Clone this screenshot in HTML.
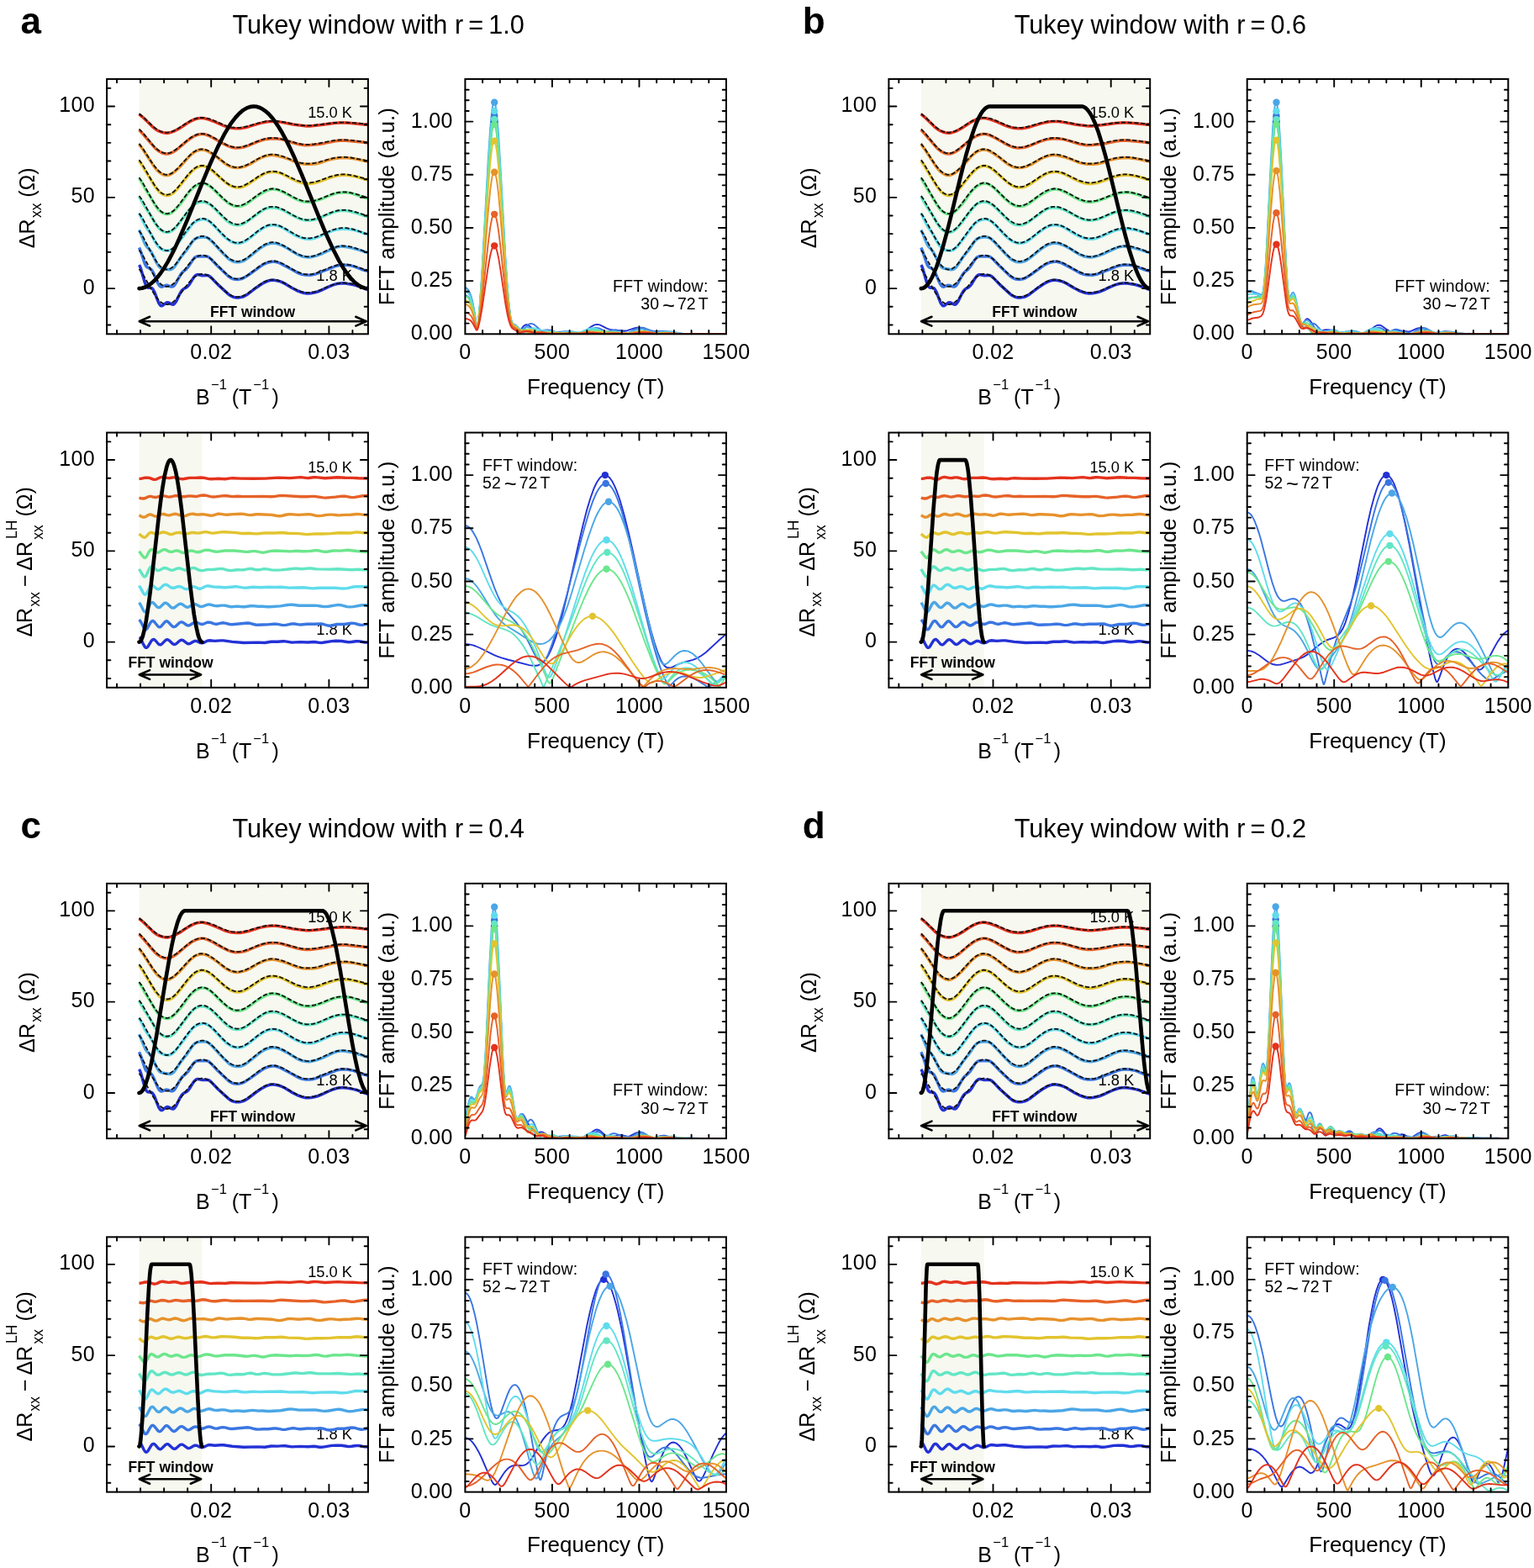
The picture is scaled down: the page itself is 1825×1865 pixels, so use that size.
<!DOCTYPE html>
<html><head><meta charset="utf-8"><style>
html,body{margin:0;padding:0;background:#fff;}
svg{display:block;}
text{font-family:'Liberation Sans', Arial, Helvetica, sans-serif;fill:#000;}
</style></head><body>
<svg width="1825" height="1865" viewBox="0 0 1825 1865">
<rect width="1825" height="1865" fill="#fff"/>
<text x="24.50" y="40.00" font-size="44.00" text-anchor="start" font-weight="bold">a</text>
<text x="276.40" y="39.50" font-size="30.65" text-anchor="start" font-weight="normal">Tukey window with r = 1.0</text>
<rect x="165.52" y="94.05" width="272.61" height="303.25" fill="#f7f8f0"/>
<text x="419.00" y="140.10" font-size="18.30" text-anchor="end" font-weight="normal">15.0 K</text>
<text x="419.00" y="333.80" font-size="18.30" text-anchor="end" font-weight="normal">1.8 K</text>
<clipPath id="c1"><rect x="127.10" y="94.05" width="310.80" height="303.25"/></clipPath>
<g clip-path="url(#c1)">
<path d="M165.5,315.1l.8,1.3 1.2,3 4.3,15.2 1.9,5.1 .8,1.2 1.2,1.1 1.1,.3 2-.1 1.2,.2 1.1,.7 .8,.9 2,3.6 3.5,9.3 1.5,3.6 1.6,2.4 .8,.6 .7,.2 .8,0 .8-.4 3.5-2.8 1.2-.6 .8-.2 .7,.1 1.2,.3 2.7,1.6 1.2,.4 .8,.1 .8-.2 1.1-.8 2-2.7 4.7-9.7 1.9-3.1 2-2 3.9-2.1 1.5-1.3 2-2.4 3.9-6.5 1.5-2.2 2-1.8 .8-.4 1.1-.3 1.2,.1 4.7,1 5.5-.4 1.5,.4 1.2,.5 2.7,2.3 7.4,7.8 12.9,11.7 2.3,1.7 2,1 2.3,.7 2.4,.4 2.7,0 2.7-.3 2.4-.6 2.3-.9 3.9-2.4 10.5-8 6.7-4.4 3.5-1.9 2.7-1.1 2.7-.8 2.4-.3 2.7,.1 2.7,.4 2.8,.6 2.7,.9 3.5,1.6 9,5.5 6.2,3.2 5.9,2.3 2.7,.7 2.3,.4 2.8,.1 3.1-.3 3.9-.7 3.9-1 4.3-1.6 8.9-4.2 5.5-2.3 4.7-1.4 4.3-.6 2.7-.1 3.1,.3 9.8,1.7 4.3,1.2 8.5,3.2 4.3,1.3" stroke="#2331d6" stroke-width="3.5" fill="none" stroke-linejoin="round"/>
<path d="M165.5,294.5l2,4.6 4.3,13.1 1.5,3.5 .8,1.2 1.2,1.1 3.5,1.6 1.2,1 .7,.9 1.2,1.9 1.2,2.4 3.5,8.5 1.5,3.3 1.2,1.8 .8,.8 .8,.6 1.1,.4 1.2-.2 3.1-1.3 1.6-.4 1.9,.3 3.2,1.2 1.1,.3 1.6-.3 1.2-.8 1.1-1.3 1.2-1.8 4.7-8.6 2.3-3.5 1.6-1.6 3.5-2.9 1.9-2 2-2.7 3.9-6.1 1.9-2.5 2-1.5 1.2-.5 1.1-.2 4.7,.1 4.7-.2 1.9,.4 1.6,.7 2.7,2.2 7.1,7.6 13.6,12.9 2.3,1.7 2,1 1.9,.7 2.4,.4 2.3,.1 2.8-.3 2.3-.6 2.3-.9 4.7-2.8 16-11.4 3.1-2 2.8-1.3 2.3-.9 2.3-.5 2.8-.4 2.3,0 2,.2 3.9,1.2 3.1,1.4 10.1,5.4 10.2,5.6 3.5,1.3 3.9,.7 5.8,.1 2.7-.3 2.8-.6 3.1-1 6.6-2.7 6.7-2.4 8.9-3.7 3.1-.8 3.6-.4 7,0 5,.8 3.6,1 8.5,3.4 7.8,2" stroke="#3a76e2" stroke-width="3.5" fill="none" stroke-linejoin="round"/>
<path d="M165.5,273.5l2,4.2 3.9,9.9 1.5,3.3 1.6,2.4 3.5,3.8 2,2.7 1.9,3.5 4.3,9.1 2.3,3.8 1.6,1.7 1.9,1.1 9.4,1.7 1.6-.1 1.5-.5 1.2-.8 1.6-1.5 1.9-2.7 5.9-9.1 7-8.6 6.2-9.2 2.4-2.8 1.5-1.3 2-1 2.3-.6 3.1-.4 2.8-.2 2.3,.3 1.9,.6 2,1.2 3.5,3.1 13.7,14.7 5.8,5.7 2.3,1.8 2.4,1.2 2.3,.8 2.4,.4 2.7,0 2.3-.3 2.4-.6 2.3-1.1 3.9-2.6 12.1-9.8 5.9-4.2 2.7-1.5 2.7-1.1 3.1-.9 2.8-.3 2.3,0 2.3,.3 2.8,.7 2.7,1 7,3.5 10.6,6.5 3.5,1.9 4.6,1.8 4.7,.8 2.8,.1 2.7-.2 3.1-.6 3.5-1 7-2.6 9.8-4.7 4.7-2 3.5-1.1 3.5-.6 2.7,0 2.7,.3 9,1.7 8.2,2.3 10.5,3.5" stroke="#4ba6e6" stroke-width="3.5" fill="none" stroke-linejoin="round"/>
<path d="M165.5,254l2,3.5 5.4,11.1 1.6,2.5 4.7,6.6 5.8,10.6 2.4,3.7 2.3,2.7 2.3,1.6 3.2,1.2 3.5,.6 2.3,0 2.4-.7 1.9-1.2 2.3-2.1 2.8-3.1 8.2-10.7 8.5-11.6 2-2.3 1.6-1.5 1.9-1.4 2.3-1.2 3.2-1 3.1-.5 2.3,0 2,.5 1.9,1 2.4,1.6 5.4,5.1 10.9,11.7 2.8,2.5 2.7,2.1 2.7,1.7 2.4,1.1 2.3,.7 2.7,.4 2.4,.1 2.3-.3 2.4-.7 2.3-1.1 4.3-2.7 10.9-8.7 6.3-4.3 2.7-1.5 2.7-1.2 2.4-.7 2.7-.4 2.3,0 2.8,.3 2.7,.6 2.3,.8 4.3,2.1 10.9,6.7 5.1,2.7 5.9,2.2 2.7,.7 3.1,.5 4.7,0 4.3-.9 5.4-2 11.7-5.3 4.3-1.7 5.1-1.5 5.1-.6 6.6,0 3.9,.4 3.5,.6 4.3,1.1 14,4.7" stroke="#5fdcec" stroke-width="3.5" fill="none" stroke-linejoin="round"/>
<path d="M165.5,233.9l7.4,12.7 5.5,8.2 6.2,10.7 2.8,4 2.3,2.7 2.7,2.2 2.8,1.4 2.7,.6 2.3-.1 2-.5 1.9-1 2.4-1.7 2.3-2.3 2.7-3.2 13.7-18 3.9-4.5 2.3-2.1 2.4-1.4 2.7-1 2.7-.5 2.8,.1 2.3,.4 2.3,.9 2.8,1.6 2.7,2 2.7,2.5 12.5,12.5 3.9,3.5 2.4,1.6 2.3,1.3 2.3,.7 2.4,.4 2.3,.1 2.4-.2 2.3-.6 2.3-.9 3.9-2.4 16.4-11.9 3.1-2.1 2.4-1.2 1.9-.7 2.4-.5 2.7-.4 2.7,.1 2.8,.3 2.7,.6 2.7,.9 5.1,2.3 10.1,5.5 6.3,3.1 3.9,1.5 3.9,.8 3.1,.1 3.5-.1 3.1-.4 3.1-.7 4.3-1.5 11.3-4.8 5.5-2.1 4.7-1.3 4.3-.6 5.4,.1 5.5,.9 7.8,2 9,3.1 4.6,1.3" stroke="#62e6c4" stroke-width="3.5" fill="none" stroke-linejoin="round"/>
<path d="M165.5,212l2.4,3.6 5.4,9.7 5.5,8.8 5.1,8.7 3.1,4.7 2.3,2.7 2.7,2.3 2.8,1.4 3.1,.8 2.7-.1 2.4-.9 2.3-1.5 2.7-2.4 6.3-6.9 3.1-4 7-9.8 2.7-3.3 2.4-2.2 2.7-2.1 3.1-1.8 2.8-1.1 2.3-.4 2,0 1.9,.4 2.3,1 2,1.1 3.9,3.1 10.9,10.8 7,6.1 2.8,1.9 2.7,1.4 2.7,1 2.8,.5 2.7,0 2.3-.3 2.4-.7 2.7-1.1 4.3-2.6 9.7-7.4 6.3-3.8 3.9-2 3.1-1.4 2.7-.8 2.4-.3 1.9,0 2.4,.3 2.3,.5 2.3,.8 4.7,2.1 9.8,5.5 7.4,3.5 4.7,1.7 4.6,.8 4.3,.1 4.7-.9 11.3-3.5 9.4-4 3.5-1.3 4.7-1.1 5.8-.7 4.7,0 4.3,.7 5.8,1.7 11.3,3.7 4.3,1.1" stroke="#6ce68c" stroke-width="3.5" fill="none" stroke-linejoin="round"/>
<path d="M165.5,191.3l3.9,5.8 13.3,22.1 3.9,5.6 3.1,3.5 2.7,2.2 2.8,1.4 2.7,.6 2.3-.1 2-.6 1.9-.9 2.4-1.7 2.3-2.2 2.4-2.6 12.4-15.6 5.1-5.5 2.7-2.3 2.8-1.8 2.7-1.1 2.7-.6 2,0 1.9,.3 2,.7 2.3,1.2 2.4,1.5 2.7,2.2 12.5,11.1 5.4,4.3 2.8,1.7 2.7,1.3 2.7,.9 2.7,.4 2,0 2.3-.2 2.4-.6 2.3-.9 5.9-3.3 12.4-8.3 3.9-2.3 2.8-1.3 2.3-.8 2.4-.5 2.7-.3 2.3,0 2.8,.2 2.7,.6 2.7,.7 3.9,1.6 10.5,5.5 5.1,2.3 6.3,2.1 2.7,.7 2.3,.3 4.7-.1 5.5-1 6.6-2 9.7-3.6 6.3-2.1 4.7-1.1 4.3-.5 3.1-.1 3.1,.2 9.4,1.4 3.5,.8 8.2,2.5 4.6,1.1" stroke="#e2c42e" stroke-width="3.5" fill="none" stroke-linejoin="round"/>
<path d="M165.5,171.6l4.7,6.4 12.5,19.1 3.5,4.6 2.7,2.7 2.8,2 3.1,1.6 2.7,.6 2-.1 2.3-.6 2.3-1.2 2.4-1.5 3.5-2.9 3.5-3.3 10.9-12.2 3.9-3.7 2.7-2.1 2.8-1.5 2.7-1 2.7-.4 2,0 2.3,.4 2,.7 2.3,1 3.5,2.1 5.9,3.9 9.3,7.4 3.9,2.7 2.4,1.2 2.7,1.1 2.7,.7 2.4,.3 2.3,0 2.7-.3 3.2-.7 3.5-1.1 4.7-2.1 8.5-5.2 5.9-2.9 3.1-1.2 2.7-.8 2.8-.6 2.3-.3 2.3,.1 2.8,.3 8.2,1.9 5.8,1.8 9.8,4 3.5,1.2 3.9,.9 4.3,.6 8.2,0 5-.5 5.1-1.2 9-3.1 4.6-1.2 5.5-.9 7.8-.7 5.1,.2 8.6,1 16.3,3.5" stroke="#e6922c" stroke-width="3.5" fill="none" stroke-linejoin="round"/>
<path d="M165.5,154.5l4.7,5 12.1,14.2 3.9,4 2.7,2.1 3.1,1.8 2.8,1 2.7,.4 2,0 2.3-.5 1.9-.6 2.4-1.2 2.7-1.7 3.1-2.3 10.6-9 5-3.7 3.5-2 3.2-1.3 2.7-.9 2.7-.4 2,0 1.9,.3 3.9,1.3 3.9,1.8 12.9,7.3 7,3.5 4.7,1.7 4.3,.7 5.1-.2 4.6-.8 5.5-1.8 10.9-4.5 5.9-2.1 5-1.2 5.9-.6 5.8,.1 4.7,.5 3.9,1 16.4,4.8 5.1,1 4.6,.5 5.5-.1 10.1-1.1 6.7-1.1 11.7-2.3 5.4-.8 3.9-.3 5.1,.2 7.4,.9 11.3,1 7.4,.9" stroke="#e66228" stroke-width="3.5" fill="none" stroke-linejoin="round"/>
<path d="M165.5,135.9l5.5,4.5 10.5,10.4 3.9,3.2 2.7,1.6 2.8,1.1 3.5,1 3.1,.5 2,0 2.3-.4 2.3-.7 2.8-1 6.6-3.4 9.7-6.5 4.7-2.6 2.8-1.3 2.7-1 2.7-.6 2.4-.3 2.3,.1 2.3,.2 5.1,1.4 7.4,2.8 10.9,4.8 3.5,1.2 5.5,1.3 5.5,.6 4.6-.1 4.7-.7 5.5-1.3 11.7-3.6 3.9-1 7-1.3 5.5-.4 4.3,.1 4.2,.4 17.6,3.4 14.8,1.7 3.9-.1 13.7-1.3 14.8-2 7-.5 6.2,0 7.5,.4 20.2,2" stroke="#e4321c" stroke-width="3.5" fill="none" stroke-linejoin="round"/>
<path d="M165.5,320l2.4,3.1 2.3,3.6 11.3,19.9 2.7,4.3 2.4,3.3 2.7,3.2 2.7,2.5 2.8,1.6 2.7,.7 2.3-.1 2.4-.7 2.3-1.2 2.4-1.8 2.3-2.3 2.7-3.1 11.7-15.4 5.1-5.8 2.7-2.4 2.8-1.8 2.7-1.2 2.7-.6 2.4,.1 2.3,.5 2.3,1 2.4,1.4 2.3,1.7 2.8,2.3 11.3,11.3 5,4.4 2.8,1.9 2.7,1.4 2.7,1 2.8,.4 2.3,0 2.3-.3 2.4-.7 2.3-1 2.7-1.5 2.8-1.8 11.3-8.5 5.1-3.3 2.7-1.4 2.7-1 2.7-.8 2.8-.3 2.3,0 2.4,.3 2.3,.5 2.7,.9 5.1,2.3 10.9,6.2 4.7,2.4 5.1,1.9 5,1 2.4,.1 2.7-.1 5.5-1 5.4-1.8 11.3-4.9 5.1-1.9 5.1-1.3 5-.7 5.5,.1 5.9,.9 5,1.4 10.6,3.4 4.6,1.3" stroke="#111" stroke-width="1.8" stroke-dasharray="5.2,2.5" fill="none"/>
<path d="M165.5,297.5l2.4,3.2 2.3,3.7 11.3,20.4 2.7,4.5 2.4,3.4 2.7,3.3 2.7,2.5 2.8,1.7 2.7,.7 2.3-.1 2.4-.7 2.3-1.3 2.4-1.8 2.3-2.4 2.7-3.1 11.7-15.9 5.1-5.9 2.7-2.5 2.8-1.9 2.7-1.2 2.7-.6 2.4,.1 2.3,.5 2.3,1 2.4,1.4 2.3,1.8 2.8,2.4 11.3,11.6 5,4.5 2.8,2 2.7,1.4 2.7,1 2.8,.5 2.3,0 2.3-.4 2.4-.7 2.3-1 2.7-1.5 2.8-1.8 11.3-8.8 5.1-3.4 2.7-1.4 2.7-1.1 2.7-.8 2.8-.3 2.3,0 2.4,.2 2.3,.6 2.7,.9 5.1,2.4 10.9,6.4 4.7,2.4 5.1,2 2.7,.6 2.3,.4 2.4,.1 2.7-.1 2.7-.4 2.8-.6 5.4-1.9 11.3-5 5.1-1.9 5.1-1.4 5-.8 5.5,.1 5.9,1 5,1.4 10.6,3.5 4.6,1.4" stroke="#111" stroke-width="1.8" stroke-dasharray="5.2,2.5" fill="none"/>
<path d="M165.5,274.4l2.4,3.5 2.3,3.9 11.3,21.7 2.7,4.7 2.4,3.6 2.7,3.5 2.7,2.7 2.8,1.8 2.7,.8 2.3-.1 2.4-.8 2.3-1.4 2.4-1.9 2.3-2.5 2.7-3.4 11.7-16.8 5.1-6.3 2.7-2.6 2.8-2 2.7-1.3 2.7-.6 2.4,0 2.3,.6 2.3,1.1 2.4,1.5 2.3,1.8 2.8,2.6 11.3,12.3 5,4.8 2.8,2.1 2.7,1.5 2.7,1.1 2.8,.5 2.3,0 2.3-.4 2.4-.8 2.3-1 2.7-1.7 2.8-1.9 11.3-9.3 5.1-3.6 2.7-1.5 2.7-1.2 2.7-.8 2.8-.4 2.3,0 2.4,.3 2.3,.6 2.7,1 5.1,2.5 10.9,6.8 4.7,2.6 5.1,2 2.7,.8 2.3,.3 2.4,.2 2.7-.1 2.7-.5 2.8-.6 5.4-2 11.3-5.3 5.1-2.1 5.1-1.5 5-.7 5.5,.1 5.9,1 5,1.5 10.6,3.7 4.6,1.5" stroke="#111" stroke-width="1.8" stroke-dasharray="5.2,2.5" fill="none"/>
<path d="M165.5,253.8l2.4,3.3 2.3,3.8 11.3,20.8 2.7,4.6 2.4,3.4 2.7,3.4 2.7,2.6 2.8,1.7 2.7,.8 2.3-.1 2.4-.7 2.3-1.4 2.4-1.9 2.3-2.3 2.7-3.3 11.7-16.2 5.1-6.1 2.7-2.5 2.8-1.9 2.7-1.3 2.7-.5 2.4,0 2.3,.6 2.3,1 2.4,1.4 2.3,1.8 2.8,2.5 11.3,11.9 5,4.6 2.8,1.9 2.7,1.5 2.7,1.1 2.8,.5 2.3,0 2.3-.4 2.4-.7 2.3-1.1 2.7-1.5 2.8-1.9 11.3-8.9 5.1-3.5 2.7-1.5 2.7-1.1 2.7-.8 2.8-.3 2.3,0 2.4,.2 2.3,.6 2.7,.9 5.1,2.5 10.9,6.5 4.7,2.5 5.1,2 2.7,.7 2.3,.3 2.4,.1 2.7-.1 2.7-.4 2.8-.6 5.4-1.9 11.3-5.1 5.1-2 5.1-1.5 5-.7 5.5,.1 5.9,1 5,1.4 10.6,3.6 4.6,1.4" stroke="#111" stroke-width="1.8" stroke-dasharray="5.2,2.5" fill="none"/>
<path d="M165.5,233l2.4,3.2 2.3,3.7 11.3,20.1 2.7,4.4 2.4,3.3 2.7,3.3 2.7,2.4 2.8,1.7 2.7,.7 2.3-.1 2.4-.7 2.3-1.2 2.4-1.9 2.3-2.3 2.7-3.1 11.7-15.6 5.1-5.8 2.7-2.5 2.8-1.8 2.7-1.3 2.7-.5 2.4,.1 2.3,.5 2.3,1 2.4,1.4 2.3,1.7 2.8,2.4 11.3,11.4 5,4.4 2.8,1.9 2.7,1.5 2.7,1 2.8,.5 2.3,0 2.3-.4 2.4-.7 2.3-1 2.7-1.5 2.8-1.8 11.3-8.6 5.1-3.4 2.7-1.4 2.7-1.1 2.7-.7 2.8-.4 2.3,0 2.4,.3 2.3,.6 2.7,.9 5.1,2.3 10.9,6.3 4.7,2.4 5.1,1.9 5,1 2.4,.1 2.7-.1 2.7-.4 2.8-.6 5.4-1.8 11.3-4.9 5.1-2 5.1-1.3 5-.7 5.5,0 5.9,1 5,1.4 10.6,3.4 4.6,1.4" stroke="#111" stroke-width="1.8" stroke-dasharray="5.2,2.5" fill="none"/>
<path d="M165.5,211.2l2.4,3.2 2.3,3.7 10.9,19.6 2.8,4.4 2.3,3.4 3.1,3.8 2.7,2.5 2.8,1.6 2.7,.7 2.3,0 2.4-.8 2.3-1.3 2.4-1.8 2.3-2.3 2.7-3.1 11.3-15.1 5.1-5.8 3.1-2.8 2.8-1.8 2.7-1.2 2.7-.6 2.4,.1 2.3,.6 2.3,.9 2.4,1.4 2.3,1.7 2.8,2.4 11.3,11.2 5,4.3 2.8,1.9 2.7,1.4 2.7,.9 2.4,.5 2.3,0 2.3-.3 2.4-.6 2.7-1.1 5.5-3.3 11.3-8.3 5.1-3.3 2.7-1.3 2.7-1.1 2.7-.7 2.8-.3 2.3,0 2.4,.3 2.3,.5 2.7,.9 5.1,2.3 10.9,6 4.7,2.3 5.1,1.8 5,.9 5.1,0 5.5-.9 5.4-1.8 11.3-4.6 5.1-1.8 5.1-1.4 5-.6 5.5,.1 5.9,.9 4.6,1.2 15.6,4.6" stroke="#111" stroke-width="1.8" stroke-dasharray="5.2,2.5" fill="none"/>
<path d="M165.5,190.3l2.4,3.2 2.3,3.6 10.9,18.8 2.8,4.3 2.3,3.3 3.1,3.6 2.7,2.4 2.8,1.5 2.7,.7 2-.1 2.3-.6 2.3-1.2 2.4-1.6 2.7-2.6 2.7-2.9 11.3-14.3 5.1-5.5 3.1-2.7 2.8-1.7 2.7-1.1 2.7-.5 2,.1 2.3,.4 2.4,.9 2.3,1.2 2.7,1.9 2.8,2.2 10.9,10.1 5,4.1 2.8,1.8 2.7,1.3 2.7,.9 2.8,.5 2.3,0 2.3-.2 2.4-.6 2.7-1.1 5.5-2.9 10.9-7.4 5.1-3 2.7-1.3 2.7-1 2.8-.7 2.7-.3 4.7,.2 5,1.2 5.5,2.2 10.9,5.4 4.7,2 5.1,1.6 5,.9 5.1,0 5.5-.9 5.4-1.6 11.3-4.1 4.7-1.4 5.5-1.3 5-.6 5.5,.1 5.9,.8 20.2,5.1" stroke="#111" stroke-width="1.8" stroke-dasharray="5.2,2.5" fill="none"/>
<path d="M165.5,170.9l4.3,5.6 10.9,16.9 2.8,3.8 2.7,3.4 3.1,3.2 2.7,2.1 2.8,1.3 2.7,.6 2-.1 2.3-.5 2.3-1.1 2.4-1.5 2.3-1.9 2.7-2.6 11.4-12.4 5.4-5.2 2.7-2.1 2.8-1.5 2.7-1 2.7-.5 2.4,.1 2.3,.4 2.4,.7 2.3,1.1 5.1,3.2 11.3,8.9 5,3.5 2.8,1.5 2.7,1.1 2.7,.8 2.8,.4 2.3,0 2.3-.3 4.7-1.2 5.5-2.5 11.3-6.3 5.1-2.5 5.4-1.9 2.8-.5 2.7-.3 4.7,.2 5,1 5.1,1.7 10.9,4.4 5.1,1.8 5.1,1.3 5,.6 5.1,0 5.5-.7 5.4-1.3 10.9-3.1 5.1-1.3 5.1-.9 5.1-.5 5.4,.1 5.9,.6 20.6,3.9" stroke="#111" stroke-width="1.8" stroke-dasharray="5.2,2.5" fill="none"/>
<path d="M165.5,153.5l5.1,5.3 10.9,13.3 4.7,4.8 3.1,2.4 2.7,1.6 2.8,1 2.7,.4 2,0 2.3-.5 2.3-.8 2.4-1.2 5-3.5 11.4-9.5 5-3.7 3.1-1.8 2.8-1.1 2.7-.8 2.7-.3 4.3,.3 4.7,1.3 5.1,2.4 11.7,6.8 5,2.6 5.5,1.9 2.7,.6 2.8,.3 4.6-.2 4.7-1 5.5-1.8 10.9-4.5 5.1-1.8 5.4-1.4 5.5-.6 4.7,.1 5,.7 5.5,1.2 15.6,4.4 5.1,.9 5,.5 5.1,0 5.5-.5 5.4-.8 16-3.1 5.5-.7 5.1-.3 5.4,0 5.9,.4 20.6,2.7" stroke="#111" stroke-width="1.8" stroke-dasharray="5.2,2.5" fill="none"/>
<path d="M165.5,135.2l5.1,4.2 10.5,10.1 4.7,3.7 3.1,2 2.8,1.3 2.7,.8 2.7,.4 2,0 2.3-.3 2.3-.6 2.4-.9 5.1-2.6 11.3-7.3 5-2.9 3.2-1.4 2.7-.9 2.7-.6 2.7-.3 4.7,.2 4.7,1 5.1,1.8 11.3,5 5.1,2 5.4,1.4 5.5,.7 4.7-.1 4.6-.7 5.5-1.3 11.3-3.4 5.1-1.3 5.4-1 5.5-.4 4.7,.1 5,.5 5.1,.8 16,3.1 5.1,.7 5,.4 5.1,0 5.5-.4 21-2.7 10.6-.7 5.4,0 5.9,.3 21,1.8" stroke="#111" stroke-width="1.8" stroke-dasharray="5.2,2.5" fill="none"/>
<path d="M165.5,343.1l3.4-.3 4.1-1.3 3.5-1.8 4.1-3 3.4-3.2 4.1-4.6 3.4-4.6 4.1-6.1 4.1-6.9 4.1-7.6 4.8-9.6 4.7-10.4 9.6-22.3 19.1-47.3 8.2-19.6 8.9-19.6 7.5-14.7 4.8-8.1 4.1-6.3 4.8-6.2 4.1-4.4 4.8-4.1 4.1-2.5 4.1-1.5 4.1-.6 3.4,.3 4.1,1.2 3.4,1.8 4.1,2.9 3.4,3.1 4.1,4.6 3.4,4.5 4.1,6.1 4.1,6.8 4.1,7.5 4.8,9.6 4.8,10.3 9.6,22.2 19.8,49 8.2,19.6 8.9,19.5 7.5,14.6 4.8,8.1 4.1,6.1 4.8,6.2 4.1,4.4 4.7,3.9 4.1,2.4 4.1,1.5 4.1,.4" stroke="#000" stroke-width="4.6" fill="none" stroke-linejoin="round" stroke-linecap="round"/>
</g>
<path d="M139.04,397.30v-4.30M139.04,94.05v4.30M167.08,397.30v-4.30M167.08,94.05v4.30M195.12,397.30v-4.30M195.12,94.05v4.30M223.16,397.30v-4.30M223.16,94.05v4.30M279.24,397.30v-4.30M279.24,94.05v4.30M307.28,397.30v-4.30M307.28,94.05v4.30M335.32,397.30v-4.30M335.32,94.05v4.30M363.36,397.30v-4.30M363.36,94.05v4.30M419.44,397.30v-4.30M419.44,94.05v4.30M251.20,397.30v-9.00M251.20,94.05v9.00M391.40,397.30v-9.00M391.40,94.05v9.00M127.10,386.47h4.30M437.90,386.47h-4.30M127.10,364.81h4.30M437.90,364.81h-4.30M127.10,321.49h4.30M437.90,321.49h-4.30M127.10,299.83h4.30M437.90,299.83h-4.30M127.10,278.17h4.30M437.90,278.17h-4.30M127.10,256.51h4.30M437.90,256.51h-4.30M127.10,213.18h4.30M437.90,213.18h-4.30M127.10,191.52h4.30M437.90,191.52h-4.30M127.10,169.86h4.30M437.90,169.86h-4.30M127.10,148.20h4.30M437.90,148.20h-4.30M127.10,104.88h4.30M437.90,104.88h-4.30M127.10,343.15h9.00M437.90,343.15h-9.00M127.10,234.84h9.00M437.90,234.84h-9.00M127.10,126.54h9.00M437.90,126.54h-9.00" stroke="#000" stroke-width="1.90" fill="none" stroke-linecap="round"/>
<rect x="127.10" y="94.05" width="310.80" height="303.25" fill="none" stroke="#000" stroke-width="2.00"/>
<text x="251.20" y="427.30" font-size="25.00" text-anchor="middle" font-weight="normal" letter-spacing="0.35">0.02</text>
<text x="391.40" y="427.30" font-size="25.00" text-anchor="middle" font-weight="normal" letter-spacing="0.35">0.03</text>
<text x="113.00" y="349.75" font-size="25.00" text-anchor="end" font-weight="normal" letter-spacing="0.35">0</text>
<text x="113.00" y="241.44" font-size="25.00" text-anchor="end" font-weight="normal" letter-spacing="0.35">50</text>
<text x="113.00" y="133.14" font-size="25.00" text-anchor="end" font-weight="normal" letter-spacing="0.35">100</text>
<text x="300.50" y="377.00" font-size="17.50" text-anchor="middle" font-weight="bold">FFT window</text>
<path d="M165.82,382.20H435.60 M165.82,382.20l12.3,-5.4 M165.82,382.20l12.3,5.4 M435.60,382.20l-12.3,-5.4 M435.60,382.20l-12.3,5.4" stroke="#000" stroke-width="2.6" fill="none" stroke-linecap="round" stroke-linejoin="round"/>
<text font-size="25"><tspan x="233.00" y="481.10">B</tspan><tspan x="251.00" y="463.00" font-size="16.5">−1</tspan><tspan x="275.80" y="481.10">(T</tspan><tspan x="301.30" y="463.00" font-size="16.5">−1</tspan><tspan x="323.50" y="481.10">)</tspan></text>
<text transform="translate(40.90,295.20) rotate(-90)" font-size="25"><tspan x="0" y="0">ΔR</tspan><tspan x="36.3" y="8" font-size="17.5">xx</tspan><tspan x="60.4" y="0">(Ω)</tspan></text>
<clipPath id="c2"><rect x="553.40" y="94.05" width="310.60" height="303.25"/></clipPath>
<g clip-path="url(#c2)">
<path d="M553.4,351.5l1.7,.4 1.6,1.2 1.7,2.2 1.6,3.4 1.7,4.8 1.6,6.5 4.2,21.7 .8-2.4 .8-6.7 1.7-17.4 2.5-32.9 7.4-124.1 2.5-34.6 1.7-16.6 .8-5.9 .8-4 .9-2.2 .8-.3 .8,1.6 .8,3.5 .9,5.3 .8,7.1 1.7,18.6 2.4,36.9 5.8,97.4 2.5,33.5 1.7,16.9 1.6,11.7 .9,3.9 .8,2.7 .8,1.8 2.5,2.8 1.7,2.3 3.3,6.4 .8-1.2 2.5-4.7 1.6-2.4 1.7-1.6 1.7-.8 1.6,0 .8,.3 1.7,.9 2.5,2.2 5,5.1 .8,.6 .8,.3 .8-.1 3.4-1.7 2.4-.9 2.5-.4 3.3-.1 3.3,.4 2.5,.6 3.3,1.2 5,2.1 .8,.1 5.8-1.8 3.4-.5 4.1,.1 9.1,1.4 1.7,0 1.6-.3 1.7-.6 2.5-1.3 7.4-5.3 2.5-1.5 2.5-1 2.5-.2 1.6,.2 1.7,.5 8.3,4.2 3.3,1.1 3.3,.5 7.4,.5 5.8,.6 2.5,0 1.7-.3 9.1-3 2.5-.4 1.6-.1 1.7,.2 2.5,.6 9.1,3.8 2.5,.6 1.6,.2 2.5-.1 7.5-.8 3.3,0 4.1,.6 9.1,1.9 5,.6 55.5,0" stroke="#2331d6" stroke-width="1.9" fill="none" stroke-linejoin="round"/>
<path d="M553.4,342.3l.8,.1 .9,.4 1.6,1.6 1.7,2.8 1.6,4.3 1.7,5.8 1.6,7.6 1.7,9.5 2.5,16.7 .8-.4 .8-6.9 1.7-18.5 2.5-34.5 7.4-127.9 2.5-35.6 1.7-16.9 .8-6 .8-4.1 .9-2.3 .8-.2 .8,1.7 .8,3.6 .9,5.5 .8,7.2 1.7,19.2 2.4,37.8 5.8,99.6 2.5,34.5 1.7,17.5 1.6,12.3 .9,4 .8,2.7 .8,1.5 .9,.7 2.4,.9 .9,.6 1.6,1.6 3.3,4.2 .9,.7 .8,.3 .8-.2 .8-.7 4.2-4.8 1.6-1.6 1.7-1.1 .8-.4 1.7-.2 1.6,.4 1.7,.8 1.7,1.3 4.1,3.6 2.5,1.9 1.6,.9 2.5,.7 2.5,.3 11.6,.4 2.5-.1 6.6-.9 4.2,0 4.1,.5 11.6,2.6 2.5-.8 2.5-1 9.1-4.6 3.3-.9 2.5,.1 2.5,.6 2.4,1.2 4.2,2.5 1.6,.5 1.7-.1 5.8-2 3.3-.3 3.3,.4 8.3,2.6 2.5,.4 1.6-.2 1.7-.7 5.8-3.2 2.5-1.2 2.5-.7 2.5-.3 1.6,.2 2.5,.5 6.6,2.5 3.3,.9 3.3,.3 6.7,0 4.1,.3 3.3,.5 8.3,1.8 5,.7 56.3,0" stroke="#3a76e2" stroke-width="1.9" fill="none" stroke-linejoin="round"/>
<path d="M553.4,342.5l.8,.1 .9,.4 1.6,1.5 1.7,2.8 1.6,4.3 1.7,5.9 1.6,7.7 1.7,9.8 2.5,16.7 .8-2.2 .8-7.7 1.7-19.6 2.5-36.4 7.4-135.3 2.5-37.6 1.7-17.9 .8-6.4 .8-4.3 .9-2.4 .8-.2 .8,1.8 .8,3.8 .9,5.9 .8,7.6 1.7,20.4 2.4,40.3 5.8,105.9 2.5,36.6 1.7,18.4 1.6,12.8 .9,4.2 .8,2.9 .8,1.8 .9,1 1.6,1.5 1.7,1.8 3.3,5.3 .8,.9 .8,.2 .9-.7 2.4-2.9 1.7-1.4 .8-.4 1.7-.4 1.6,.2 1.7,.5 6.6,4 2.5,1.2 2.5,.7 4.1,.8 2.5-.2 5.8-1.9 2.5-.3 3.3,.6 2.5,.9 3.3,1.5 .8,.1 5-2.1 2.5-.6 2.5-.4 4.1,.1 7.5,1.5 1.6,.1 2.5-.7 7.5-3.3 2.5-.7 1.6-.1 1.7,.1 2.5,.7 5.8,2.5 2.4,.7 2.5,0 5.8-.9 3.3-.1 4.2,.5 9.9,2 2.5,.2 1.7-.2 2.4-.7 10-3.9 2.5-.5 2.5-.2 2.4,.2 3.3,.9 11.6,5 4.2-1.3 4.1-1 4.2-.6 3.3-.1 5,.4 10.7,2.1 5,.6 47.2,0" stroke="#4ba6e6" stroke-width="1.9" fill="none" stroke-linejoin="round"/>
<path d="M553.4,346.6l1.7,.5 1.6,1.3 1.7,2.5 1.6,3.8 1.7,5.3 1.6,7 1.7,9 2.5,15.6 .8-1.7 .8-7.1 1.7-18.6 2.5-34.9 7.4-130.6 2.5-36.4 1.7-17.4 .8-6.1 .8-4.2 .9-2.3 .8-.3 .8,1.7 .8,3.7 .9,5.6 .8,7.4 1.7,19.6 2.4,38.6 5.8,101.9 1.7,24.6 1.7,20.2 1.6,15.3 .8,5.6 .9,4.3 .8,2.9 .8,1.7 .9,.9 3.3,2 5.8,6.5 1.6,1.3 .8,.2 .9-.1 .8-.4 6.6-4.4 1.7-.7 1.6-.3 2.5,.2 7.5,2.3 7.4,.5 3.3,.5 2.5,.7 5,1.7 1.7,.3 1.6-.2 5-1.1 3.3-.3 5,.2 7.4,.7 2.5,0 3.3-.9 9.1-3.7 2.5-.6 2.5-.2 2.5,.4 2.5,.8 2.5,1.2 5.8,3.5 1.6,.4 5.8-1.6 4.1-.4 5,.6 12.4,2.2 12.5-2.3 3.3-.4 3.3-.1 14.1,1.2 4.1-.1 7.5-.5 4.1,0 4.2,.4 8.2,1.3 5,.5 49.7,0" stroke="#5fdcec" stroke-width="1.9" fill="none" stroke-linejoin="round"/>
<path d="M553.4,352.2l1.7,.4 1.6,1.2 1.7,2.2 1.6,3.3 1.7,4.8 1.6,6.5 1.7,8.3 1.7,9.8 .8,3.4 .8-3.1 .8-7 1.7-17.7 2.5-33.3 7.4-125.1 2.5-34.9 1.7-16.7 .8-5.9 .8-4.1 .9-2.1 .8-.3 .8,1.7 .8,3.5 .9,5.4 .8,7.1 1.7,18.9 2.4,37.2 5.8,97.8 1.7,23.6 1.7,19.4 1.6,14.7 .8,5.4 .9,4.1 .8,2.9 .8,1.7 .9,.9 3.3,1.6 4.9,3.4 5.8,2.8 1.7,.6 1.6-.1 5-2.1 2.5-.2 2.5,.4 5,1.9 2.4,.6 2.5,.1 5.8-.9 2.5-.1 2.5,.3 5.8,1.5 2.5,.4 11.6-.7 10.7-.4 4.2-.7 7.4-2 4.2-.5 2.5,.2 2.4,.5 7.5,2.9 2.5,.7 1.6-.1 5-.9 3.3-.2 4.2,.1 8.2,.9 4.2,0 4.1-.5 8.3-1.8 4.2-.4 4.1,.4 7.4,1.8 3.4,.4 8.2-.9 3.4-.1 4.9,.3 10.8,1.5 5.8,.4 53,0" stroke="#62e6c4" stroke-width="1.9" fill="none" stroke-linejoin="round"/>
<path d="M553.4,352.3l1.7,.4 1.6,1.1 1.7,2.2 1.6,3.3 1.7,4.7 1.6,6.4 1.7,8.1 1.7,9.5 .8,3.3 .8-2.5 .8-6.6 1.7-17.1 2.5-32.5 7.4-121.9 2.5-34.1 1.7-16.2 .8-5.8 .8-3.9 .9-2.2 .8-.3 .8,1.6 .8,3.5 .9,5.2 .8,6.9 1.7,18.4 2.4,36.2 5.8,95.6 2.5,33.1 1.7,16.7 1.6,11.7 .9,3.9 .8,2.7 .8,1.6 .9,.9 3.3,2.5 4.1,4.8 .8,.4 .9,.1 4.1-1.8 2.5-.2 2.5,.6 6.6,2.9 2.5,.8 5,.3 4.1,.5 5.8-1.4 3.3-.3 9.1,1.1 15.8-.4 12.4,.7 2.5-.4 9.1-2.2 2.5-.3 3.3-.2 21.5,1.4 11.6,1.6 5,.4 4.1-.3 10.8-2 4.9-.4 5,.5 8.3,2.3 .8,0 5.8-1.2 4.2-.2 3.3,.1 9.9,1.1 5,.3 53,0" stroke="#6ce68c" stroke-width="1.9" fill="none" stroke-linejoin="round"/>
<path d="M553.4,357.5l1.7,.3 1.6,1 1.7,1.7 1.6,2.8 1.7,4 1.6,5.5 3.4,15.1 .8,2.4 .8-2.1 .8-5.6 1.7-15.4 2.5-29.8 7.4-112.4 2.5-31.3 1.7-15 .8-5.2 .8-3.7 .9-1.9 .8-.3 .8,1.5 .8,3.2 .9,4.8 .8,6.4 1.7,16.9 2.4,33.3 5.8,87.8 2.5,30.4 1.7,15.3 1.6,10.8 .9,3.7 .8,2.5 .8,1.5 .9,.9 3.3,2.3 4.9,5.5 .9,.6 .8,.3 .8,0 5-2.3 2.5-.7 1.6-.1 1.7,.1 1.6,.4 5.8,2.7 2.5,.6 5.8-.4 11.6,.2 7.5,.5 8.3-.3 17.3,1.1 2.5-.3 9.1-1.7 5-.5 5.8,.1 10.8,1.4 9.9-.3 11.6,.5 5-.3 9.1-1.7 4.1-.3 5,.5 7.5,1.8 2.4,.3 7.5-.6 4.1-.2 4.2,.2 9.9,1 5.8,.3 52.2,0" stroke="#e2c42e" stroke-width="1.9" fill="none" stroke-linejoin="round"/>
<path d="M553.4,362.1l1.7,.3 1.6,.8 1.7,1.5 1.6,2.4 1.7,3.6 1.6,4.8 3.4,13.1 .8,1.9 .8-1.5 .8-4.6 1.7-13 2.5-25.1 7.4-93.9 2.5-26 1.7-12.5 .8-4.4 .8-3 .9-1.6 .8-.2 .8,1.2 .8,2.7 .9,4 .8,5.3 1.7,14.1 2.4,27.7 5.8,73 1.7,17.6 1.7,14.4 1.6,10.9 1.7,7.1 .8,2.3 .8,1.6 1.7,1.7 4.1,2.7 1.7,.9 1.6,.5 3.3,.5 1.7,.4 5.8,2.6 1.7,0 3.3-.6 2.5,0 2.4,.4 3.4,1 1.6,.2 5-1.1 3.3-.2 2.5,.1 8.3,.9 9.9-.2 11.6,.1 4.1-.4 8.3-1.5 4.2-.3 2.4,.2 3.4,.5 8.2,2.1 .9,0 6.6-1.3 4.1-.3 4.2,.2 9.1,1.1 3.3,.1 4.1-.5 9.2-1.7 4.1-.3 4.1,.3 10,1.6 4.1,.4 3.3-.1 8.3-.6 4.2-.1 4.9,.2 10,1 4.9,.2 48.9,0" stroke="#e6922c" stroke-width="1.9" fill="none" stroke-linejoin="round"/>
<path d="M553.4,371.9l1.7,.2 1.6,.5 1.7,1 1.6,1.7 1.7,2.5 1.6,3.5 3.4,9.1 .8,1.1 .8-1.3 1.7-7.7 2.5-17 2.4-21.1 5.8-54.7 2.5-19.1 1.7-9.1 .8-3.2 .8-2.2 .9-1.1 .8-.2 .8,1 .8,2 .9,2.9 .8,4 1.7,10.4 2.4,20.4 5.8,53.7 2.5,18.6 1.7,9.3 1.6,6.6 .9,2.3 .8,1.6 .8,1.1 .9,.8 3.3,1.9 4.1,2.8 1.7,.7 .8,.1 6.6-.8 2.5,0 6.6,.9 7.5-.3 3.3,.4 6.6,1.6 7.5-.2 7.4,.6 6.7-.6 10.7,0 10.8-.9 5-.2 5.8,.3 12.4,1.4 13.2-.6 15.8,.3 4.1-.2 10-1.4 4.9-.3 5,.3 11.6,1.7 12.4-.4 19.1,.7 48,0" stroke="#e66228" stroke-width="1.9" fill="none" stroke-linejoin="round"/>
<path d="M553.4,379.1l1.7,.1 1.6,.4 2.5,1.2 1.7,1.6 1.6,2.2 4.2,7.9 .8,.2 .8-1.4 .8-2.6 1.7-7.1 2.5-13.6 7.4-50.3 2.5-13.9 1.7-6.6 .8-2.3 .8-1.6 .9-.9 .8-.1 .8,.7 .8,1.5 .9,2.1 .8,2.9 1.7,7.6 2.4,15 5.8,39.4 2.5,13.6 1.7,6.9 1.6,4.8 1.7,2.9 1.7,1.5 6.6,4.2 .8,.3 .8,.1 .9-.1 3.3-1.4 1.6-.4 2.5-.3 3.3,.5 5.8,1.9 2.5,.4 6.6-.2 6.7,.5 13.2,.3 11.6-.5 13.3,.4 14.9-.9 4.9,.2 10,.8 14.1-.6 14.9,.5 4.1-.2 8.3-.8 4.1-.1 4.2,.1 9.1,.8 4.1,.2 14.1-.3 18.2,.7 48.9,0" stroke="#e4321c" stroke-width="1.9" fill="none" stroke-linejoin="round"/>
<circle cx="588.19" cy="144.59" r="4.2" fill="#2331d6"/>
<circle cx="588.19" cy="137.78" r="4.2" fill="#3a76e2"/>
<circle cx="588.19" cy="121.66" r="4.2" fill="#4ba6e6"/>
<circle cx="588.19" cy="131.98" r="4.2" fill="#5fdcec"/>
<circle cx="588.19" cy="141.89" r="4.2" fill="#62e6c4"/>
<circle cx="588.19" cy="148.24" r="4.2" fill="#6ce68c"/>
<circle cx="588.19" cy="167.63" r="4.2" fill="#e2c42e"/>
<circle cx="588.19" cy="204.69" r="4.2" fill="#e6922c"/>
<circle cx="588.19" cy="254.84" r="4.2" fill="#e66228"/>
<circle cx="588.19" cy="292.33" r="4.2" fill="#e4321c"/>
</g>
<path d="M574.11,397.30v-4.30M574.11,94.05v4.30M594.81,397.30v-4.30M594.81,94.05v4.30M615.52,397.30v-4.30M615.52,94.05v4.30M636.23,397.30v-4.30M636.23,94.05v4.30M677.64,397.30v-4.30M677.64,94.05v4.30M698.35,397.30v-4.30M698.35,94.05v4.30M719.05,397.30v-4.30M719.05,94.05v4.30M739.76,397.30v-4.30M739.76,94.05v4.30M781.17,397.30v-4.30M781.17,94.05v4.30M801.88,397.30v-4.30M801.88,94.05v4.30M822.59,397.30v-4.30M822.59,94.05v4.30M843.29,397.30v-4.30M843.29,94.05v4.30M656.93,397.30v-9.00M656.93,94.05v9.00M760.47,397.30v-9.00M760.47,94.05v9.00M553.40,384.66h4.30M864.00,384.66h-4.30M553.40,372.03h4.30M864.00,372.03h-4.30M553.40,359.39h4.30M864.00,359.39h-4.30M553.40,346.76h4.30M864.00,346.76h-4.30M553.40,321.49h4.30M864.00,321.49h-4.30M553.40,308.85h4.30M864.00,308.85h-4.30M553.40,296.22h4.30M864.00,296.22h-4.30M553.40,283.58h4.30M864.00,283.58h-4.30M553.40,258.31h4.30M864.00,258.31h-4.30M553.40,245.67h4.30M864.00,245.67h-4.30M553.40,233.04h4.30M864.00,233.04h-4.30M553.40,220.40h4.30M864.00,220.40h-4.30M553.40,195.13h4.30M864.00,195.13h-4.30M553.40,182.50h4.30M864.00,182.50h-4.30M553.40,169.86h4.30M864.00,169.86h-4.30M553.40,157.23h4.30M864.00,157.23h-4.30M553.40,131.96h4.30M864.00,131.96h-4.30M553.40,119.32h4.30M864.00,119.32h-4.30M553.40,106.69h4.30M864.00,106.69h-4.30M553.40,334.12h9.00M864.00,334.12h-9.00M553.40,270.95h9.00M864.00,270.95h-9.00M553.40,207.77h9.00M864.00,207.77h-9.00M553.40,144.59h9.00M864.00,144.59h-9.00" stroke="#000" stroke-width="1.90" fill="none" stroke-linecap="round"/>
<rect x="553.40" y="94.05" width="310.60" height="303.25" fill="none" stroke="#000" stroke-width="2.00"/>
<text x="553.40" y="427.30" font-size="25.00" text-anchor="middle" font-weight="normal" letter-spacing="0.35">0</text>
<text x="656.93" y="427.30" font-size="25.00" text-anchor="middle" font-weight="normal" letter-spacing="0.35">500</text>
<text x="760.47" y="427.30" font-size="25.00" text-anchor="middle" font-weight="normal" letter-spacing="0.35">1000</text>
<text x="864.00" y="427.30" font-size="25.00" text-anchor="middle" font-weight="normal" letter-spacing="0.35">1500</text>
<text x="538.80" y="404.40" font-size="25.00" text-anchor="end" font-weight="normal" letter-spacing="0.35">0.00</text>
<text x="538.80" y="341.22" font-size="25.00" text-anchor="end" font-weight="normal" letter-spacing="0.35">0.25</text>
<text x="538.80" y="278.05" font-size="25.00" text-anchor="end" font-weight="normal" letter-spacing="0.35">0.50</text>
<text x="538.80" y="214.87" font-size="25.00" text-anchor="end" font-weight="normal" letter-spacing="0.35">0.75</text>
<text x="538.80" y="151.69" font-size="25.00" text-anchor="end" font-weight="normal" letter-spacing="0.35">1.00</text>
<text x="708.70" y="469.10" font-size="26.00" text-anchor="middle" font-weight="normal">Frequency (T)</text>
<text transform="translate(469.10,245.68) rotate(-90)" font-size="26.00" text-anchor="middle">FFT amplitude (a.u.)</text>
<text x="842.50" y="346.50" font-size="19.50" text-anchor="end" font-weight="normal" letter-spacing="0.2">FFT window:</text>
<text font-size="19.5" y="367.70"><tspan x="762.30">30</tspan><tspan x="787.90" y="371.50" font-size="25.5">~</tspan><tspan x="805.90" y="367.70">72</tspan><tspan x="830.80">T</tspan></text>
<rect x="165.52" y="514.55" width="74.89" height="303.25" fill="#f7f8f0"/>
<text x="419.00" y="562.30" font-size="18.30" text-anchor="end" font-weight="normal">15.0 K</text>
<text x="419.00" y="755.30" font-size="18.30" text-anchor="end" font-weight="normal">1.8 K</text>
<clipPath id="c3"><rect x="127.10" y="514.55" width="310.80" height="303.25"/></clipPath>
<g clip-path="url(#c3)">
<path d="M165.5,758.2l.8,.4 1.2,1.4 3.5,7.2 1.2,2 1.1,1.1 .8,.1 .8-.3 1.2-1.2 4.2-7 1.2-1.1 1.2-.3 .8,.2 1.1,.8 3.9,4.5 1.2,.7 .8,.2 .8-.1 1.1-.7 4.7-4.7 1.2-.5 .8-.1 .7,.1 1.2,.7 4.7,4.3 1.2,.5 .7,.1 .8-.2 1.2-.5 4.3-3.8 1.2-.6 .7-.1 .8,0 1.2,.4 4.3,3.2 1.1,.6 1.2,.3 2-.5 3.9-2.3 1.5-.6 2,.1 4.7,2.1 1.9,.3 2-.5 4.6-2.3 2.4-.4 6.2,.7 7-.5 3.2,0 10.5,1.5 13.6,1.1 17.2-.4 7.8,.4 7.8-1.3 7.8,.1 6.6-.5 2.4,.1 7.8,1.2 9.7-.5 9.4,.4 7-.5 2.3,.2 4.3,.7 2,.1 2.3-.2 10.5-1.7 4.7-.3 6.7,.2 6.6,1 2.3,.2 3.1-.2 5.5-.8 2.3-.1 2.4,.3 5.4,1.1 4.3,.1" stroke="#2331d6" stroke-width="3.4" fill="none" stroke-linejoin="round"/>
<path d="M165.5,737.1l.8,.8 1.2,1.7 3.9,7.7 1.1,1.3 .8,.2 .8-.3 1.2-1.2 3.1-5.7 1.2-1.8 1.1-1 .8-.3 .8,.2 1.2,.8 4.3,5.3 1.1,.9 .8,.2 1.2-.3 1.1-.9 4.3-5 1.2-.7 .8-.2 .8,.2 1.1,.8 4.7,5 1.2,.7 .8,.2 1.1-.3 1.2-.7 3.5-3.3 1.2-.9 1.2-.5 .7-.1 .8,.1 1.2,.4 4.3,3.1 .8,.3 1.1,.2 2-.5 4.7-3 1.9-.4 2,.4 3.9,1.7 1.5,.3 2-.3 4.6-1.9 2-.2 1.9,.3 3.9,1.4 2.4,.5 1.9-.1 4.3-1.1 2-.3 2.7,.3 5.5,1.4 2.7,.2 18.7-1.7 2.7,.3 6.3,1.7 3.1,.3 6.6-.3 5.5-.1 6.6-.7 2.4-.1 2.3,.3 5.1,1 2.3,.2 2.7-.2 5.1-1.1 2.7-.4 2.4,.1 5.1,.9 2.3,.1 7.8-.8 8.6,.1 7-.4 3.1,.4 5.5,1.7 2.3,.2 2.4-.2 6.6-1.5 1.9-.1 6.7,.1 8.2-1.3 3.5,.2 5.8,1.6 2.4,.4 2.3-.2 6.2-1.1" stroke="#3a76e2" stroke-width="3.4" fill="none" stroke-linejoin="round"/>
<path d="M165.5,716.7l1.6,2.4 3.5,6.9 1.2,1.4 .7,.4 .8-.2 1.2-1.2 4.3-8.3 1.2-1.3 1.1-.3 .8,.2 .8,.5 3.5,4 1.2,1 .7,.3 1.2,.1 .8-.3 1.2-.9 3.5-3.4 1.1-.7 1.2-.1 .8,.2 1.2,.6 4.6,4.4 1.2,.6 .8,.1 .8,0 1.1-.5 4.7-3.6 1.2-.6 1.2-.2 .7,.1 1.2,.4 4.3,3 2,.6 .7-.1 1.2-.4 4.7-2.9 1.9-.4 2,.5 4.3,2.2 1.9,.3 2-.4 4.7-1.8 2.3-.4 1.9,.3 3.9,1.1 2,.3 2.3,.1 4.7-.6 2.7,0 2.4,.2 5.1,1.2 1.9,.2 6.6-.6 6.7,.6 2.3,0 7-.9 2.4-.2 6.6,.7 5.5-.1 5.8,.5 2.3,0 12.9-.8 8.6-1.4 3.5-.4 2.7,.2 7.4,1 18.4-.2 3.1,.3 5.8,.9 3.2,.3 4.6-.4 9.8-1.6 2.7-.1 2.8,.4 6.6,1.7 3.1,.3 4.3-.3 10.5-1.8 3.1,0 4.3,.4" stroke="#4ba6e6" stroke-width="3.4" fill="none" stroke-linejoin="round"/>
<path d="M165.5,696.6l1.6,2.5 3.5,6.5 1.2,1.4 .7,.3 .8-.3 .8-.8 1.2-2 2.7-5.8 1.2-1.6 .8-.5 .7-.2 1.2,.3 4.3,3.8 1.2,.6 .7,.1 .8-.1 1.2-.6 4.3-3.9 1.2-.7 1.1-.3 .8,.1 1.2,.3 4.3,2.9 1.9,.7 2,0 4.6-1.6 2-.2 1.9,.6 4.3,2.2 2,.4 1.9-.3 4.3-2.1 2-.5 1.1,.1 1.2,.3 3.9,1.8 1.2,.2 1.2,0 1.9-.7 3.9-2 1.6-.5 1.1-.1 1.6,.1 5.8,1.1 6.3,.2 5.4,.5 2.8-.1 11.3-1 2.3,.2 5.9,1 2.7,.2 3.1-.1 6.7-.7 9.7,.5 8.6-.5 7.8,.2 7-.3 10.1,.9 16.8-.3 10.9,1.1 9-.6 12.5-.2 5.4,.1 6.7,.7 2.7,.1 5.1-.4 7.4-1.6 2.7-.3 9-.1 5.8,.4" stroke="#5fdcec" stroke-width="3.4" fill="none" stroke-linejoin="round"/>
<path d="M165.5,676.9l4.7,7.7 1.2,1.2 .8,.2 .7-.3 1.2-1.4 3.1-7 1.2-2.1 .8-.9 1.1-.4 .8,.1 .8,.4 4.3,3.7 .8,.3 1.1,.2 2-.5 3.9-2.2 1.9-.4 2,.3 4.3,2 1.9,.4 2.4-.3 4.3-1.7 1.9-.4 2.4,.4 4.2,1.8 2,.3 2.3-.6 4.7-2.1 2-.2 1.9,.5 4.7,2.3 2.3,.5 2-.1 6.2-1.2 7.4-.1 7.8-.9 2.8,.2 5.8,1.7 3.1,.3 7.8-.9 5.5,.2 2.3-.1 5.5-1.2 1.9-.2 2.4,.1 4.3,1.1 1.9,.2 2,0 5-1 2.4-.1 2.3,.2 5.5,1 4.3,.2 7.4-.2 15.2-1.7 2.7,0 6.7,.6 8.5-.9 2.4,.1 5,.7 2.8,.2 14.4,.2 9.4-.4 16,1.1 8.1-.6 7.5,.7 4.6-.3" stroke="#62e6c4" stroke-width="3.4" fill="none" stroke-linejoin="round"/>
<path d="M165.5,655.7l4.7,6.4 1.2,1.1 .8,.3 .7-.2 1.2-1.1 3.1-5.8 1.2-1.7 .8-.7 1.1-.3 1.6,.5 3.5,2.5 1.6,.5 1.9-.3 4.3-2.6 1.2-.5 1.2-.2 1.9,.4 3.5,1.9 1.6,.5 1.9,0 4.3-1.4 2-.1 1.9,.5 3.9,1.9 2,.3 2.3-.3 3.9-1.7 2-.6 2.3,.1 4.3,1.4 2.3,.2 2.4-.4 5-1.8 3.2-.4 2.7,.3 5.4,1.4 2.8,.4 2.3-.1 7.8-1.1 11.7,0 13.7,1.4 2.7-.1 5.1-.7 2.7,0 2.3,.3 4.7,1 2.4,.3 2.7-.3 7-1.5 5.9-.4 17.1,.9 7.4-.6 6.7,.4 8.5-.1 6.7-.9 2.3-.1 2.7,.4 4.7,1.1 2.7,.2 2-.1 7-1.2 9,.1 8.6-.8 10.9,1.2 9.7,.7 3.9-.1" stroke="#6ce68c" stroke-width="3.4" fill="none" stroke-linejoin="round"/>
<path d="M165.5,634.9l3.5,3.1 1.6,.9 1.2,.3 .7-.1 1.2-.7 3.9-4.3 .8-.5 1.2-.3 1.5,.3 3.1,1.3 2,.3 1.9-.4 4.3-1.6 2.4-.2 1.9,.4 4.7,1.8 2,.3 2.3-.3 4.3-1.5 1.9-.3 2,.1 4.7,1.3 1.9,.2 2-.2 5.4-1.3 2.4,0 3.9,.5 1.9,.1 2-.3 4.3-.9 1.9-.2 2,.2 4.6,1 2.4,.2 3.1-.2 6.2-1 3.5-.1 12.5,.6 9.4,1.1 8.2-.2 7.8,.6 3.5-.1 7.4-.9 12.5,.1 7.4-.5 8.2,.8 12.5,.3 7.4,.8 2.7,.2 9.7-.7 8.2,.1 9.8-.4 9.7-.8 13.7,.2 7.8-1.1 7.8,.8 5.8,.1" stroke="#e2c42e" stroke-width="3.4" fill="none" stroke-linejoin="round"/>
<path d="M165.5,612.8l3.1,1.8 1.6,.5 1.2,.1 1.9-.5 3.1-2.2 1.6-.6 1.6,.1 3.9,1.8 1.9,.4 2-.4 3.9-1.9 1.5-.4 2,0 3.9,1.1 1.9,.3 2-.2 3.9-1.2 1.9-.3 2.4,.4 5,1.9 2.4,.4 2.3-.3 5.1-1.9 2.3-.4 1.6,0 5.4,.8 5.9-.3 2.3,.1 6.3,1.1 1.9,.2 2.4-.3 5-1.6 2.4-.2 6.6,1 2.3,.2 7.8-.7 8.6-.4 3.1,.2 5.5,1 2,.2 2.3-.1 5.5-.8 4.2,0 14.1,.7 6.2,1.1 2.8,.3 3.1-.3 6.2-1.5 3.5-.4 10.2,.8 12.1-.8 2.7,.3 5.1,1.3 3.5,.4 4.3-.2 5.8-1 3.1-.3 3.9,0 5.9,.7 2.3,.1 6.3-.5 7-.2 7.4-.7 3.5,.1 7,1 3.1,.1" stroke="#e6922c" stroke-width="3.4" fill="none" stroke-linejoin="round"/>
<path d="M165.5,592l2.4,.8 2.7,.2 2.3-.5 3.5-1.7 1.6-.4 1.6,0 3.5,.9 1.9,.2 2-.4 3.9-1.1 1.9-.3 2.4,.2 4.3,1 1.9,.2 2-.3 4.2-1 2-.1 1.6,.1 5.8,.9 2,0 6.2-.8 7.8,.6 2.3-.3 4.3-1 2.4-.2 2.3,.2 6.2,1.4 3.2,.4 2.7-.1 7.4-1 3.5-.2 2.4,.1 6.6,.8 6.6-.3 6.6,.3 22.7-.2 10.5,.4 3.1-.2 6.3-1 3.1-.2 23,1.4 7,0 6.2-.4 2.8,0 10.1,1.5 3.1,.2 11.7-1 7.8-1 3.5,.1 6.3,1.2 2.7,.2 2.7-.2 9.8-1.7 3.1-.2 3.1,.2" stroke="#e66228" stroke-width="3.4" fill="none" stroke-linejoin="round"/>
<path d="M165.5,569.4l2,0 5.4-1.2 2.8-.1 1.9,.3 4.7,1.8 1.9,.2 2.4-.6 4.3-2 2.3-.4 7,1.2 2-.1 3.9-.6 1.9,0 2,.3 4.3,1.2 2.7,.3 2-.2 6.6-1.1 6.6,0 6.3-.4 3.1,.2 7,1.4 3.1,.2 7.8-.5 8.2,.4 6.2-.8 2.8-.1 9.7,.3 14.8,.2 14.1-.2 16-1 13.6,.5 12.9-1 7.8,1 1.9-.1 5.5-.8 2.3-.1 11.4,1.1 14.8-.9 9.3,.5 8.6,.1 7,.4 11.7,.3" stroke="#e4321c" stroke-width="3.4" fill="none" stroke-linejoin="round"/>
<path d="M165.5,763.6l1-.3 1.1-1.3 .9-1.8 1.2-3 2-7.8 2.1-10.7 2.2-14.5 2.7-20 10.1-89.2 2.4-19.6 2.1-14.7 2.4-14.4 2.5-10.6 1.3-4.1 1.1-2.5 1.1-1.5 1.2-.6 .9,.3 1.1,1.2 1,1.8 1.1,2.9 2.1,7.7 2,10.6 2.3,14.3 2.6,19.9 10.3,90.8 2.5,19.5 2,14.6 2.5,14.2 2.4,10.6 1.3,3.9 1.2,2.4 1.1,1.5 1.1,.4" stroke="#000" stroke-width="4.6" fill="none" stroke-linejoin="round" stroke-linecap="round"/>
</g>
<path d="M139.04,817.80v-4.30M139.04,514.55v4.30M167.08,817.80v-4.30M167.08,514.55v4.30M195.12,817.80v-4.30M195.12,514.55v4.30M223.16,817.80v-4.30M223.16,514.55v4.30M279.24,817.80v-4.30M279.24,514.55v4.30M307.28,817.80v-4.30M307.28,514.55v4.30M335.32,817.80v-4.30M335.32,514.55v4.30M363.36,817.80v-4.30M363.36,514.55v4.30M419.44,817.80v-4.30M419.44,514.55v4.30M251.20,817.80v-9.00M251.20,514.55v9.00M391.40,817.80v-9.00M391.40,514.55v9.00M127.10,806.97h4.30M437.90,806.97h-4.30M127.10,785.31h4.30M437.90,785.31h-4.30M127.10,741.99h4.30M437.90,741.99h-4.30M127.10,720.33h4.30M437.90,720.33h-4.30M127.10,698.67h4.30M437.90,698.67h-4.30M127.10,677.01h4.30M437.90,677.01h-4.30M127.10,633.68h4.30M437.90,633.68h-4.30M127.10,612.02h4.30M437.90,612.02h-4.30M127.10,590.36h4.30M437.90,590.36h-4.30M127.10,568.70h4.30M437.90,568.70h-4.30M127.10,525.38h4.30M437.90,525.38h-4.30M127.10,763.65h9.00M437.90,763.65h-9.00M127.10,655.34h9.00M437.90,655.34h-9.00M127.10,547.04h9.00M437.90,547.04h-9.00" stroke="#000" stroke-width="1.90" fill="none" stroke-linecap="round"/>
<rect x="127.10" y="514.55" width="310.80" height="303.25" fill="none" stroke="#000" stroke-width="2.00"/>
<text x="251.20" y="847.80" font-size="25.00" text-anchor="middle" font-weight="normal" letter-spacing="0.35">0.02</text>
<text x="391.40" y="847.80" font-size="25.00" text-anchor="middle" font-weight="normal" letter-spacing="0.35">0.03</text>
<text x="113.00" y="770.25" font-size="25.00" text-anchor="end" font-weight="normal" letter-spacing="0.35">0</text>
<text x="113.00" y="661.94" font-size="25.00" text-anchor="end" font-weight="normal" letter-spacing="0.35">50</text>
<text x="113.00" y="553.64" font-size="25.00" text-anchor="end" font-weight="normal" letter-spacing="0.35">100</text>
<text x="203.00" y="794.10" font-size="17.50" text-anchor="middle" font-weight="bold">FFT window</text>
<path d="M165.82,802.50H239.10 M165.82,802.50l12.3,-5.4 M165.82,802.50l12.3,5.4 M239.10,802.50l-12.3,-5.4 M239.10,802.50l-12.3,5.4" stroke="#000" stroke-width="2.6" fill="none" stroke-linecap="round" stroke-linejoin="round"/>
<text font-size="25"><tspan x="233.00" y="901.60">B</tspan><tspan x="251.00" y="883.50" font-size="16.5">−1</tspan><tspan x="275.80" y="901.60">(T</tspan><tspan x="301.30" y="883.50" font-size="16.5">−1</tspan><tspan x="323.50" y="901.60">)</tspan></text>
<text transform="translate(38.40,757.60) rotate(-90)" font-size="25"><tspan x="0" y="0">ΔR</tspan><tspan x="36.0" y="8.1" font-size="17.5">xx</tspan><tspan x="59.5" y="0">−</tspan><tspan x="78.8" y="0">ΔR</tspan><tspan x="115.9" y="12.8" font-size="17.5">xx</tspan><tspan x="116.5" y="-18.7" font-size="17.5">LH</tspan><tspan x="143.0" y="0">(Ω)</tspan></text>
<clipPath id="c4"><rect x="553.40" y="514.55" width="310.60" height="303.25"/></clipPath>
<g clip-path="url(#c4)">
<path d="M553.4,766.1l2.5,.1 3.3,.4 3.3,.8 3.3,1.1 5.8,2.5 15.8,7.9 4.1,1.7 5,1.8 7.4,2.1 25.7,6.6 3.3,.5 2.5,.2 2.5-.1 2.5-.5 2.5-1 1.6-1 1.7-1.4 1.6-1.8 2.5-3.3 1.7-2.7 2.4-4.7 2.5-5.7 4.2-11.2 4.9-16.3 4.2-15.7 4.1-17 14.1-62.9 5-21.2 4.9-19.2 4.2-13.8 4.1-11.4 2.5-5.4 1.7-3 2.5-3.6 1.6-1.8 2.5-1.6 1.7-.4 1.6,.1 .8,.3 1.7,.9 2.5,2.4 2.5,3.5 2.4,4.6 2.5,5.7 2.5,6.7 2.5,7.5 5,17.6 4.9,20 5,21.8 13.3,60.1 4.1,17.7 4.1,16.3 4.2,14.6 4.1,12.3 3.3,7.8 1.7,3.1 1.7,2.5 1.6,1.8 1.7,1.2 1.6,.6 2.5,.1 3.3-1 6.6-3.2 4.2-1.6 13.2-3.7 3.4-1.2 2.4-1.1 5-3 5-3.8 15.7-14.4 8.3-7.3" stroke="#2331d6" stroke-width="1.9" fill="none" stroke-linejoin="round"/>
<path d="M553.4,625.3l1.7,.2 1.6,.7 1.7,1.2 1.6,1.7 1.7,2.1 1.6,2.5 3.4,6.2 3.3,7.6 3.3,8.6 11.6,33.8 4.1,11.3 4.2,9.8 4.1,8.1 2.5,4.1 3.3,4.6 11.6,13.2 3.3,4.3 2.5,3.6 5,8.3 10.7,21.3 3.3,5.6 1.7,2 1.7,1.3 1.6,.5 .8-.2 1.7-1 1.7-1.9 1.6-2.8 1.7-3.3 4.1-10.5 5.8-17.3 5.8-19.3 6.6-23.6 16.6-63.9 5-18.4 4.9-16.8 4.2-12 2.5-6.1 2.4-5.3 2.5-4.2 2.5-3.2 2.5-2.1 1.7-.8 .8-.1 1.6,0 .9,.2 1.6,.8 1.7,1.4 1.6,1.8 1.7,2.4 2.5,4.5 1.6,3.6 2.5,6.3 4.2,12.6 4.1,14.8 5,20.2 18.2,82.5 5,21.2 4.1,16.1 5,17.4 4.1,12.5 2.5,6.5 2.5,5.9 2.5,5.1 1.6,3 .9,1.2 .8,.8 .8,0 .8-.7 5-5.4 1.7-1.4 2.4-1.7 1.7-.9 2.5-.9 2.5-.4 2.5-.1 4.1,.7 5,1.8 5.8,3.1 9.1,5.8 1.6,.9 .9,.1 .8-.1 1.6-.8 7.5-4.5 5-2.8 6.6-3.1" stroke="#3a76e2" stroke-width="1.9" fill="none" stroke-linejoin="round"/>
<path d="M553.4,688.1l2.5,.4 1.6,.5 1.7,.9 3.3,2.5 3.3,3.4 2.5,3.2 3.3,4.7 11.6,18.8 5,7.3 3.3,4.3 2.5,2.8 2.5,2.5 3.3,2.9 5,3.5 11.5,7.1 11.6,7.6 3.4,1.9 3.3,1.7 4.1,1.4 3.3,.5 2.5-.1 1.7-.3 3.3-1.3 3.3-2.1 2.5-2.2 2.5-2.8 2.4-3.4 2.5-4 2.5-4.6 2.5-5.3 3.3-7.9 4.2-11.4 4.9-15.3 14.9-50.7 5-16 5-14.3 4.1-10.1 2.5-5 2.5-4.3 2.5-3.4 1.6-1.8 2.5-1.9 1.7-.7 2.5-.3 1.6,.4 1.7,.9 2.4,2.1 2.5,3.1 2.5,4 1.7,3.3 2.5,5.7 2.4,6.5 2.5,7.4 4.2,14 4.9,19 5,20.9 11.6,50.7 5.8,23.5 3.3,11.7 2.5,7.5 2.5,6.1 1.6,3.1 1.7,2.1 .8,.7 1.7,.7 1.6-.2 1.7-.9 1.7-1.4 7.4-7.7 4.1-3.4 2.5-1.4 2.5-.9 2.5-.3 2.5,.2 2.5,.7 3.3,1.7 3.3,2.4 3.3,3.2 3.3,3.7 3.3,4.1 11.6,15.9 2.5,2.9 1.7,1.4 1.6,.6 .9-.1 1.6-.7 1.7-1.4 1.6-1.8 5-6" stroke="#4ba6e6" stroke-width="1.9" fill="none" stroke-linejoin="round"/>
<path d="M553.4,651l2.5,.5 1.6,.8 1.7,1.2 1.7,1.6 1.6,2 3.3,4.9 2.5,4.4 3.3,6.8 9.1,20.5 4.2,8.8 4.1,7.6 3.3,4.9 3.3,3.9 3.4,2.9 3.3,2.2 8.3,4.7 4.1,3 2.5,2.3 2.5,2.8 4.1,5.7 2.5,4.1 2.5,4.6 4.9,10.5 5,12 8.3,21.4 2.5,5.8 1.6,3 .9,1 .8,.6 .8,.1 .8-.4 1.7-2.3 2.5-5.5 2.5-6.7 7.4-22.7 21.6-69 5.8-16.9 5.8-14.9 2.4-5.6 2.5-4.9 2.5-4.3 2.5-3.6 2.5-2.8 2.5-2.1 2.5-1.2 2.4-.4 2.5,.4 2.5,1.3 2.5,2.1 2.5,3 2.5,3.7 2.4,4.5 2.5,5.2 2.5,5.9 5,13.5 5,15.4 4.9,16.7 13.3,46.2 6.6,21.3 3.3,9.5 3.3,8.3 2.5,4.9 1.7,2.3 .8,.7 .8,.3 .9,.1 1.6-.9 2.5-2.5 6.6-8.1 4.2-4 2.4-1.8 2.5-1.3 2.5-.8 2.5-.4 3.3,.2 3.3,1 3.3,1.6 3.4,2.3 2.4,2.1 3.4,3.2 4.1,4.6 7.4,8.9 1.7,1.7 1.7,1.2 .8,.1 .8-.3 1.7-1.2 8.3-9 4.1-3.9" stroke="#5fdcec" stroke-width="1.9" fill="none" stroke-linejoin="round"/>
<path d="M553.4,729.1l4.1,.4 2.5,.7 2.5,.9 5,2.5 10.7,6.6 5,2.6 5,2 10.8,3.3 4.1,1.5 2.5,1.2 2.5,1.5 2.5,1.9 2.4,2.2 3.3,3.5 3.4,4.2 3.3,4.9 4.1,7.1 4.2,7.8 4.1,8.6 10.8,24 .8,.6 12.4-28.9 9.1-22 8.3-21.1 16.6-44.4 4.9-12.3 4.2-9.2 3.3-6.5 2.5-4.2 3.3-4.8 2.5-2.7 2.5-2.1 2.5-1.3 2.4-.6 2.5,.2 1.7,.5 2.5,1.5 2.4,2.2 2.5,3 2.5,3.7 2.5,4.4 2.5,5 2.5,5.6 4.1,10.4 5,14.1 18.2,57.3 6.6,19.5 4.2,11 3.3,8 2.5,5.1 1.6,2.9 .9,1.1 .8,.7 .8,.2 .8-.4 .9-.7 7.4-9.2 3.3-3.3 2.5-1.9 1.7-1.1 2.5-1.2 2.4-.8 2.5-.4 3.3,0 3.4,.6 3.3,1.2 3.3,1.6 3.3,2.1 3.3,2.5 11.6,9.6 1.7,1 1.6,.6 1.7,0 2.5-1.1 2.4-1.9 7.5-6.3" stroke="#62e6c4" stroke-width="1.9" fill="none" stroke-linejoin="round"/>
<path d="M553.4,697l2.5,.3 3.3,1.1 2.5,1.4 3.3,2.6 2.5,2.3 3.3,3.6 12.4,14.7 4.2,4.2 3.3,2.8 2.5,1.8 3.3,2 10.7,5.1 4.2,2.3 2.5,1.7 2.4,2 4.2,4.2 3.3,4.1 2.5,3.6 3.3,5.3 3.3,6 6.6,13.7 11.6,26.9 1.7,3 .8,.8 .8,0 .9-.9 1.6-3 1.7-3.8 29-75.3 6.6-16 5.8-12.5 3.3-6.3 2.5-4.3 3.3-4.8 2.5-3 2.5-2.4 2.5-1.8 2.5-1.2 2.4-.4 2.5,.2 2.5,1 2.5,1.6 2.5,2.2 2.5,3 2.4,3.5 2.5,4.2 2.5,4.6 5,10.8 5,12.2 17.3,47.6 7.5,19.2 4.1,9.5 3.4,6.9 3.3,5.9 2.5,3.3 .8,.7 .8,.3 .8-.1 .9-.5 1.6-1.4 5-5.2 3.3-3 3.3-2.4 3.3-1.8 3.3-1.3 3.4-.8 3.3-.4 3.3,.1 4.1,.5 5,1.4 5,2 4.1,2.3 4.1,3 3.4,2.9 3.3,3.6 4.1,5 .8-.9 2.5-3.9 5-9.3" stroke="#6ce68c" stroke-width="1.9" fill="none" stroke-linejoin="round"/>
<path d="M553.4,717l2.5,.2 2.5,.7 2.5,1.2 2.4,1.5 5,4.2 9.9,10 3.4,3.1 4.1,3.1 3.3,1.8 3.3,1.1 4.2,.5 3.3-.1 8.3-.8 2.5,0 2.4,.2 2.5,.6 2.5,.9 4.1,2.4 2.5,2 2.5,2.4 2.5,2.8 2.5,3.2 5,7.3 9.1,14.9 3.3,4.6 1.6,1.9 1.7,1.5 1.6,.9 .9,.2 1.6,0 .9-.3 1.6-.9 1.7-1.5 2.5-3.2 4.1-6.7 9.1-16.6 4.2-7 4.1-6.2 4.1-5.3 4.2-4 2.5-1.9 1.6-.9 3.3-1.4 1.7-.4 2.5-.1 1.6,.1 2.5,.6 2.5,1 2.5,1.4 2.5,1.8 2.5,2.1 4.9,5.2 5,6.3 5,7 18.2,28.1 8.3,12 4.1,5.4 3.3,3.9 2.5,2.3 2.5,1.6 1.6,.4 .9-.1 1.6-.5 2.5-1.3 6.6-4.6 4.2-2.4 5-2.2 4.1-1.2 2.5-.3 2.5-.1 4.9,.5 5,1.3 9.1,3.2 3.3,.9 4.2,.7 3.3,0 4.1-.6 5.8-1.8 14.1-4.8 3.3-1.5 2.5-1.3" stroke="#e2c42e" stroke-width="1.9" fill="none" stroke-linejoin="round"/>
<path d="M553.4,795.4l1.7-.1 2.4-.6 1.7-.7 2.5-1.4 4.1-3.3 2.5-2.5 2.5-2.9 5-6.8 5.8-9.4 5.8-10.6 14.9-28.7 4.1-7.2 4.2-6.6 2.4-3.4 2.5-3 4.2-4 2.4-1.8 2.5-1.2 2.5-.6 1.7-.1 2.5,.4 1.6,.6 1.7,.8 2.5,1.7 1.6,1.5 2.5,2.7 4.1,5.6 4.2,6.9 4.9,9.6 4.2,8.9 10.8,24.2 5.8,11.7 3.3,5.5 2.5,3.2 2.4,2.4 2.5,1.4 1.7,.4 1.6,0 1.7-.3 1.6-.6 3.4-1.9 9.9-6.4 3.3-1.7 3.3-1.1 3.3-.6 2.5-.1 3.3,.5 3.4,1 3.3,1.5 4.1,2.7 3.3,2.7 4.2,3.9 6.6,7.4 15.7,19.7 1.7,2 .8,.6 .8-.6 5-5.5 4.1-4.2 3.4-2.9 3.3-2.5 3.3-2.1 3.3-1.6 3.3-1.3 4.2-1 3.3-.4 4.1-.1 12.4,.8 5.8,0 5-.3 12.4-1.5 6.6-.1 5,.6 4.2,1.1 4.9,1.9 5,2.6" stroke="#e6922c" stroke-width="1.9" fill="none" stroke-linejoin="round"/>
<path d="M553.4,801.3l4.1-.3 5-1.2 5-1.8 10.7-4.5 6.7-2 3.3-.7 3.3-.3 3.3,.1 2.5,.4 3.3,.9 3.3,1.4 3.3,1.9 3.4,2.4 3.3,2.9 4.1,4.2 9.1,10.8 .8,.8 .9,.1 1.6-1.6 10.8-14.3 6.6-8 3.3-3.4 3.3-3.1 2.5-2 3.3-2.2 4.2-2.2 5-1.9 17.4-4.3 4.9-1.7 9.1-3.5 4.2-1.3 4.1-.9 3.3-.3 2.5,.2 2.5,.4 4.1,1.5 4.2,2.4 4.9,4.1 4.2,4.3 4.1,5 14.1,19 5,6.4 4.1,4.8 3.3,3 .9,.2 .8-.4 4.1-2.9 4.2-2.2 3.3-1.1 4.1-.5 3.3,.2 4.2,1.1 4.1,1.8 6.7,3.7 .8,.2 .8-.1 3.3-2.1 11.6-8.8 5.8-3.7 3.3-1.8 3.3-1.4 3.4-1.1 3.3-.6 4.9-.3 2.5,.1 3.3,.6 5,1.2 11.6,3.8" stroke="#e66228" stroke-width="1.9" fill="none" stroke-linejoin="round"/>
<path d="M553.4,816.9l13.3-.4 4.1-.4 5-1.1 4.1-1.6 5-2.9 4.9-3.6 5-4.2 13.3-12 6.6-5.1 4.1-2.4 3.3-1.5 3.4-.9 3.3-.4 4.1,.3 4.2,1.2 4.1,2 4.1,2.7 3.4,2.7 4.1,3.8 17.4,17.5 4.1,3.8 4.2,3.2 .8-.3 4.1-2.7 4.2-2.2 4.1-1.8 4.2-1.4 24.8-6.9 5.8-1.2 5.8-.5 4.1,.1 5,.7 5,1.2 11.6,3.6 3.3,.6 3.3,.2 3.3-.3 3.3-.8 12.5-4.4 5.8-1.6 5.8-.9 4.9,.1 5.8,.8 5.8,1.6 5.8,2.1 19.1,8 7.4,2.5 5,1.3 3.3,.2 3.3-.5 4.2-1.6 4.1-2.2" stroke="#e4321c" stroke-width="1.9" fill="none" stroke-linejoin="round"/>
<circle cx="719.88" cy="565.09" r="4.2" fill="#2331d6"/>
<circle cx="720.71" cy="575.00" r="4.2" fill="#3a76e2"/>
<circle cx="724.02" cy="596.80" r="4.2" fill="#4ba6e6"/>
<circle cx="721.54" cy="642.26" r="4.2" fill="#5fdcec"/>
<circle cx="722.37" cy="656.96" r="4.2" fill="#62e6c4"/>
<circle cx="721.54" cy="676.79" r="4.2" fill="#6ce68c"/>
<circle cx="704.97" cy="732.87" r="4.2" fill="#e2c42e"/>
</g>
<path d="M574.11,817.80v-4.30M574.11,514.55v4.30M594.81,817.80v-4.30M594.81,514.55v4.30M615.52,817.80v-4.30M615.52,514.55v4.30M636.23,817.80v-4.30M636.23,514.55v4.30M677.64,817.80v-4.30M677.64,514.55v4.30M698.35,817.80v-4.30M698.35,514.55v4.30M719.05,817.80v-4.30M719.05,514.55v4.30M739.76,817.80v-4.30M739.76,514.55v4.30M781.17,817.80v-4.30M781.17,514.55v4.30M801.88,817.80v-4.30M801.88,514.55v4.30M822.59,817.80v-4.30M822.59,514.55v4.30M843.29,817.80v-4.30M843.29,514.55v4.30M656.93,817.80v-9.00M656.93,514.55v9.00M760.47,817.80v-9.00M760.47,514.55v9.00M553.40,805.16h4.30M864.00,805.16h-4.30M553.40,792.53h4.30M864.00,792.53h-4.30M553.40,779.89h4.30M864.00,779.89h-4.30M553.40,767.26h4.30M864.00,767.26h-4.30M553.40,741.99h4.30M864.00,741.99h-4.30M553.40,729.35h4.30M864.00,729.35h-4.30M553.40,716.72h4.30M864.00,716.72h-4.30M553.40,704.08h4.30M864.00,704.08h-4.30M553.40,678.81h4.30M864.00,678.81h-4.30M553.40,666.17h4.30M864.00,666.17h-4.30M553.40,653.54h4.30M864.00,653.54h-4.30M553.40,640.90h4.30M864.00,640.90h-4.30M553.40,615.63h4.30M864.00,615.63h-4.30M553.40,603.00h4.30M864.00,603.00h-4.30M553.40,590.36h4.30M864.00,590.36h-4.30M553.40,577.73h4.30M864.00,577.73h-4.30M553.40,552.46h4.30M864.00,552.46h-4.30M553.40,539.82h4.30M864.00,539.82h-4.30M553.40,527.19h4.30M864.00,527.19h-4.30M553.40,754.62h9.00M864.00,754.62h-9.00M553.40,691.45h9.00M864.00,691.45h-9.00M553.40,628.27h9.00M864.00,628.27h-9.00M553.40,565.09h9.00M864.00,565.09h-9.00" stroke="#000" stroke-width="1.90" fill="none" stroke-linecap="round"/>
<rect x="553.40" y="514.55" width="310.60" height="303.25" fill="none" stroke="#000" stroke-width="2.00"/>
<text x="553.40" y="847.80" font-size="25.00" text-anchor="middle" font-weight="normal" letter-spacing="0.35">0</text>
<text x="656.93" y="847.80" font-size="25.00" text-anchor="middle" font-weight="normal" letter-spacing="0.35">500</text>
<text x="760.47" y="847.80" font-size="25.00" text-anchor="middle" font-weight="normal" letter-spacing="0.35">1000</text>
<text x="864.00" y="847.80" font-size="25.00" text-anchor="middle" font-weight="normal" letter-spacing="0.35">1500</text>
<text x="538.80" y="824.90" font-size="25.00" text-anchor="end" font-weight="normal" letter-spacing="0.35">0.00</text>
<text x="538.80" y="761.72" font-size="25.00" text-anchor="end" font-weight="normal" letter-spacing="0.35">0.25</text>
<text x="538.80" y="698.55" font-size="25.00" text-anchor="end" font-weight="normal" letter-spacing="0.35">0.50</text>
<text x="538.80" y="635.37" font-size="25.00" text-anchor="end" font-weight="normal" letter-spacing="0.35">0.75</text>
<text x="538.80" y="572.19" font-size="25.00" text-anchor="end" font-weight="normal" letter-spacing="0.35">1.00</text>
<text x="708.70" y="889.60" font-size="26.00" text-anchor="middle" font-weight="normal">Frequency (T)</text>
<text transform="translate(469.10,666.17) rotate(-90)" font-size="26.00" text-anchor="middle">FFT amplitude (a.u.)</text>
<text x="574.00" y="559.50" font-size="19.50" text-anchor="start" font-weight="normal" letter-spacing="0.2">FFT window:</text>
<text font-size="19.5" y="580.60"><tspan x="574.10">52</tspan><tspan x="599.70" y="584.40" font-size="25.5">~</tspan><tspan x="617.70" y="580.60">72</tspan><tspan x="642.60">T</tspan></text>
<text x="954.80" y="40.00" font-size="44.00" text-anchor="start" font-weight="bold">b</text>
<text x="1206.70" y="39.50" font-size="30.65" text-anchor="start" font-weight="normal">Tukey window with r = 0.6</text>
<rect x="1095.82" y="94.05" width="272.61" height="303.25" fill="#f7f8f0"/>
<text x="1349.30" y="140.10" font-size="18.30" text-anchor="end" font-weight="normal">15.0 K</text>
<text x="1349.30" y="333.80" font-size="18.30" text-anchor="end" font-weight="normal">1.8 K</text>
<clipPath id="c5"><rect x="1057.40" y="94.05" width="310.80" height="303.25"/></clipPath>
<g clip-path="url(#c5)">
<path d="M1095.8,315.1l.8,1.3 1.2,3 4.3,15.2 1.9,5.1 .8,1.2 1.2,1.1 1.1,.3 2-.1 1.2,.2 1.1,.7 .8,.9 2,3.6 3.5,9.3 1.5,3.6 1.6,2.4 .8,.6 .7,.2 .8,0 .8-.4 3.5-2.8 1.2-.6 .8-.2 .7,.1 1.2,.3 2.7,1.6 1.2,.4 .8,.1 .8-.2 1.1-.8 2-2.7 4.7-9.7 1.9-3.1 2-2 3.9-2.1 1.5-1.3 2-2.4 3.9-6.5 1.5-2.2 2-1.8 .8-.4 1.1-.3 1.2,.1 4.7,1 5.5-.4 1.5,.4 1.2,.5 2.7,2.3 7.4,7.8 12.9,11.7 2.3,1.7 2,1 2.3,.7 2.4,.4 2.7,0 2.7-.3 2.4-.6 2.3-.9 3.9-2.4 10.5-8 6.7-4.4 3.5-1.9 2.7-1.1 2.7-.8 2.4-.3 2.7,.1 2.7,.4 2.8,.6 2.7,.9 3.5,1.6 9,5.5 6.2,3.2 5.9,2.3 2.7,.7 2.3,.4 2.8,.1 3.1-.3 3.9-.7 3.9-1 4.3-1.6 8.9-4.2 5.5-2.3 4.7-1.4 4.3-.6 2.7-.1 3.1,.3 9.8,1.7 4.3,1.2 8.5,3.2 4.3,1.3" stroke="#2331d6" stroke-width="3.5" fill="none" stroke-linejoin="round"/>
<path d="M1095.8,294.5l2,4.6 4.3,13.1 1.5,3.5 .8,1.2 1.2,1.1 3.5,1.6 1.2,1 .7,.9 1.2,1.9 1.2,2.4 3.5,8.5 1.5,3.3 1.2,1.8 .8,.8 .8,.6 1.1,.4 1.2-.2 3.1-1.3 1.6-.4 1.9,.3 3.2,1.2 1.1,.3 1.6-.3 1.2-.8 1.1-1.3 1.2-1.8 4.7-8.6 2.3-3.5 1.6-1.6 3.5-2.9 1.9-2 2-2.7 3.9-6.1 1.9-2.5 2-1.5 1.2-.5 1.1-.2 4.7,.1 4.7-.2 1.9,.4 1.6,.7 2.7,2.2 7.1,7.6 13.6,12.9 2.3,1.7 2,1 1.9,.7 2.4,.4 2.3,.1 2.8-.3 2.3-.6 2.3-.9 4.7-2.8 16-11.4 3.1-2 2.8-1.3 2.3-.9 2.3-.5 2.8-.4 2.3,0 2,.2 3.9,1.2 3.1,1.4 10.1,5.4 10.2,5.6 3.5,1.3 3.9,.7 5.8,.1 2.7-.3 2.8-.6 3.1-1 6.6-2.7 6.7-2.4 8.9-3.7 3.1-.8 3.6-.4 7,0 5,.8 3.6,1 8.5,3.4 7.8,2" stroke="#3a76e2" stroke-width="3.5" fill="none" stroke-linejoin="round"/>
<path d="M1095.8,273.5l2,4.2 3.9,9.9 1.5,3.3 1.6,2.4 3.5,3.8 2,2.7 1.9,3.5 4.3,9.1 2.3,3.8 1.6,1.7 1.9,1.1 9.4,1.7 1.6-.1 1.5-.5 1.2-.8 1.6-1.5 1.9-2.7 5.9-9.1 7-8.6 6.2-9.2 2.4-2.8 1.5-1.3 2-1 2.3-.6 3.1-.4 2.8-.2 2.3,.3 1.9,.6 2,1.2 3.5,3.1 13.7,14.7 5.8,5.7 2.3,1.8 2.4,1.2 2.3,.8 2.4,.4 2.7,0 2.3-.3 2.4-.6 2.3-1.1 3.9-2.6 12.1-9.8 5.9-4.2 2.7-1.5 2.7-1.1 3.1-.9 2.8-.3 2.3,0 2.3,.3 2.8,.7 2.7,1 7,3.5 10.6,6.5 3.5,1.9 4.6,1.8 4.7,.8 2.8,.1 2.7-.2 3.1-.6 3.5-1 7-2.6 9.8-4.7 4.7-2 3.5-1.1 3.5-.6 2.7,0 2.7,.3 9,1.7 8.2,2.3 10.5,3.5" stroke="#4ba6e6" stroke-width="3.5" fill="none" stroke-linejoin="round"/>
<path d="M1095.8,254l2,3.5 5.4,11.1 1.6,2.5 4.7,6.6 5.8,10.6 2.4,3.7 2.3,2.7 2.3,1.6 3.2,1.2 3.5,.6 2.3,0 2.4-.7 1.9-1.2 2.3-2.1 2.8-3.1 8.2-10.7 8.5-11.6 2-2.3 1.6-1.5 1.9-1.4 2.3-1.2 3.2-1 3.1-.5 2.3,0 2,.5 1.9,1 2.4,1.6 5.4,5.1 10.9,11.7 2.8,2.5 2.7,2.1 2.7,1.7 2.4,1.1 2.3,.7 2.7,.4 2.4,.1 2.3-.3 2.4-.7 2.3-1.1 4.3-2.7 10.9-8.7 6.3-4.3 2.7-1.5 2.7-1.2 2.4-.7 2.7-.4 2.3,0 2.8,.3 2.7,.6 2.3,.8 4.3,2.1 10.9,6.7 5.1,2.7 5.9,2.2 2.7,.7 3.1,.5 4.7,0 4.3-.9 5.4-2 11.7-5.3 4.3-1.7 5.1-1.5 5.1-.6 6.6,0 3.9,.4 3.5,.6 4.3,1.1 14,4.7" stroke="#5fdcec" stroke-width="3.5" fill="none" stroke-linejoin="round"/>
<path d="M1095.8,233.9l7.4,12.7 5.5,8.2 6.2,10.7 2.8,4 2.3,2.7 2.7,2.2 2.8,1.4 2.7,.6 2.3-.1 2-.5 1.9-1 2.4-1.7 2.3-2.3 2.7-3.2 13.7-18 3.9-4.5 2.3-2.1 2.4-1.4 2.7-1 2.7-.5 2.8,.1 2.3,.4 2.3,.9 2.8,1.6 2.7,2 2.7,2.5 12.5,12.5 3.9,3.5 2.4,1.6 2.3,1.3 2.3,.7 2.4,.4 2.3,.1 2.4-.2 2.3-.6 2.3-.9 3.9-2.4 16.4-11.9 3.1-2.1 2.4-1.2 1.9-.7 2.4-.5 2.7-.4 2.7,.1 2.8,.3 2.7,.6 2.7,.9 5.1,2.3 10.1,5.5 6.3,3.1 3.9,1.5 3.9,.8 3.1,.1 3.5-.1 3.1-.4 3.1-.7 4.3-1.5 11.3-4.8 5.5-2.1 4.7-1.3 4.3-.6 5.4,.1 5.5,.9 7.8,2 9,3.1 4.6,1.3" stroke="#62e6c4" stroke-width="3.5" fill="none" stroke-linejoin="round"/>
<path d="M1095.8,212l2.4,3.6 5.4,9.7 5.5,8.8 5.1,8.7 3.1,4.7 2.3,2.7 2.7,2.3 2.8,1.4 3.1,.8 2.7-.1 2.4-.9 2.3-1.5 2.7-2.4 6.3-6.9 3.1-4 7-9.8 2.7-3.3 2.4-2.2 2.7-2.1 3.1-1.8 2.8-1.1 2.3-.4 2,0 1.9,.4 2.3,1 2,1.1 3.9,3.1 10.9,10.8 7,6.1 2.8,1.9 2.7,1.4 2.7,1 2.8,.5 2.7,0 2.3-.3 2.4-.7 2.7-1.1 4.3-2.6 9.7-7.4 6.3-3.8 3.9-2 3.1-1.4 2.7-.8 2.4-.3 1.9,0 2.4,.3 2.3,.5 2.3,.8 4.7,2.1 9.8,5.5 7.4,3.5 4.7,1.7 4.6,.8 4.3,.1 4.7-.9 11.3-3.5 9.4-4 3.5-1.3 4.7-1.1 5.8-.7 4.7,0 4.3,.7 5.8,1.7 11.3,3.7 4.3,1.1" stroke="#6ce68c" stroke-width="3.5" fill="none" stroke-linejoin="round"/>
<path d="M1095.8,191.3l3.9,5.8 13.3,22.1 3.9,5.6 3.1,3.5 2.7,2.2 2.8,1.4 2.7,.6 2.3-.1 2-.6 1.9-.9 2.4-1.7 2.3-2.2 2.4-2.6 12.4-15.6 5.1-5.5 2.7-2.3 2.8-1.8 2.7-1.1 2.7-.6 2,0 1.9,.3 2,.7 2.3,1.2 2.4,1.5 2.7,2.2 12.5,11.1 5.4,4.3 2.8,1.7 2.7,1.3 2.7,.9 2.7,.4 2,0 2.3-.2 2.4-.6 2.3-.9 5.9-3.3 12.4-8.3 3.9-2.3 2.8-1.3 2.3-.8 2.4-.5 2.7-.3 2.3,0 2.8,.2 2.7,.6 2.7,.7 3.9,1.6 10.5,5.5 5.1,2.3 6.3,2.1 2.7,.7 2.3,.3 4.7-.1 5.5-1 6.6-2 9.7-3.6 6.3-2.1 4.7-1.1 4.3-.5 3.1-.1 3.1,.2 9.4,1.4 3.5,.8 8.2,2.5 4.6,1.1" stroke="#e2c42e" stroke-width="3.5" fill="none" stroke-linejoin="round"/>
<path d="M1095.8,171.6l4.7,6.4 12.5,19.1 3.5,4.6 2.7,2.7 2.8,2 3.1,1.6 2.7,.6 2-.1 2.3-.6 2.3-1.2 2.4-1.5 3.5-2.9 3.5-3.3 10.9-12.2 3.9-3.7 2.7-2.1 2.8-1.5 2.7-1 2.7-.4 2,0 2.3,.4 2,.7 2.3,1 3.5,2.1 5.9,3.9 9.3,7.4 3.9,2.7 2.4,1.2 2.7,1.1 2.7,.7 2.4,.3 2.3,0 2.7-.3 3.2-.7 3.5-1.1 4.7-2.1 8.5-5.2 5.9-2.9 3.1-1.2 2.7-.8 2.8-.6 2.3-.3 2.3,.1 2.8,.3 8.2,1.9 5.8,1.8 9.8,4 3.5,1.2 3.9,.9 4.3,.6 8.2,0 5-.5 5.1-1.2 9-3.1 4.6-1.2 5.5-.9 7.8-.7 5.1,.2 8.6,1 16.3,3.5" stroke="#e6922c" stroke-width="3.5" fill="none" stroke-linejoin="round"/>
<path d="M1095.8,154.5l4.7,5 12.1,14.2 3.9,4 2.7,2.1 3.1,1.8 2.8,1 2.7,.4 2,0 2.3-.5 1.9-.6 2.4-1.2 2.7-1.7 3.1-2.3 10.6-9 5-3.7 3.5-2 3.2-1.3 2.7-.9 2.7-.4 2,0 1.9,.3 3.9,1.3 3.9,1.8 12.9,7.3 7,3.5 4.7,1.7 4.3,.7 5.1-.2 4.6-.8 5.5-1.8 10.9-4.5 5.9-2.1 5-1.2 5.9-.6 5.8,.1 4.7,.5 3.9,1 16.4,4.8 5.1,1 4.6,.5 5.5-.1 10.1-1.1 6.7-1.1 11.7-2.3 5.4-.8 3.9-.3 5.1,.2 7.4,.9 11.3,1 7.4,.9" stroke="#e66228" stroke-width="3.5" fill="none" stroke-linejoin="round"/>
<path d="M1095.8,135.9l5.5,4.5 10.5,10.4 3.9,3.2 2.7,1.6 2.8,1.1 3.5,1 3.1,.5 2,0 2.3-.4 2.3-.7 2.8-1 6.6-3.4 9.7-6.5 4.7-2.6 2.8-1.3 2.7-1 2.7-.6 2.4-.3 2.3,.1 2.3,.2 5.1,1.4 7.4,2.8 10.9,4.8 3.5,1.2 5.5,1.3 5.5,.6 4.6-.1 4.7-.7 5.5-1.3 11.7-3.6 3.9-1 7-1.3 5.5-.4 4.3,.1 4.2,.4 17.6,3.4 14.8,1.7 3.9-.1 13.7-1.3 14.8-2 7-.5 6.2,0 7.5,.4 20.2,2" stroke="#e4321c" stroke-width="3.5" fill="none" stroke-linejoin="round"/>
<path d="M1095.8,320l2.4,3.1 2.3,3.6 11.3,19.9 2.7,4.3 2.4,3.3 2.7,3.2 2.7,2.5 2.8,1.6 2.7,.7 2.3-.1 2.4-.7 2.3-1.2 2.4-1.8 2.3-2.3 2.7-3.1 11.7-15.4 5.1-5.8 2.7-2.4 2.8-1.8 2.7-1.2 2.7-.6 2.4,.1 2.3,.5 2.3,1 2.4,1.4 2.3,1.7 2.8,2.3 11.3,11.3 5,4.4 2.8,1.9 2.7,1.4 2.7,1 2.8,.4 2.3,0 2.3-.3 2.4-.7 2.3-1 2.7-1.5 2.8-1.8 11.3-8.5 5.1-3.3 2.7-1.4 2.7-1 2.7-.8 2.8-.3 2.3,0 2.4,.3 2.3,.5 2.7,.9 5.1,2.3 10.9,6.2 4.7,2.4 5.1,1.9 5,1 2.4,.1 2.7-.1 5.5-1 5.4-1.8 11.3-4.9 5.1-1.9 5.1-1.3 5-.7 5.5,.1 5.9,.9 5,1.4 10.6,3.4 4.6,1.3" stroke="#111" stroke-width="1.8" stroke-dasharray="5.2,2.5" fill="none"/>
<path d="M1095.8,297.5l2.4,3.2 2.3,3.7 11.3,20.4 2.7,4.5 2.4,3.4 2.7,3.3 2.7,2.5 2.8,1.7 2.7,.7 2.3-.1 2.4-.7 2.3-1.3 2.4-1.8 2.3-2.4 2.7-3.1 11.7-15.9 5.1-5.9 2.7-2.5 2.8-1.9 2.7-1.2 2.7-.6 2.4,.1 2.3,.5 2.3,1 2.4,1.4 2.3,1.8 2.8,2.4 11.3,11.6 5,4.5 2.8,2 2.7,1.4 2.7,1 2.8,.5 2.3,0 2.3-.4 2.4-.7 2.3-1 2.7-1.5 2.8-1.8 11.3-8.8 5.1-3.4 2.7-1.4 2.7-1.1 2.7-.8 2.8-.3 2.3,0 2.4,.2 2.3,.6 2.7,.9 5.1,2.4 10.9,6.4 4.7,2.4 5.1,2 2.7,.6 2.3,.4 2.4,.1 2.7-.1 2.7-.4 2.8-.6 5.4-1.9 11.3-5 5.1-1.9 5.1-1.4 5-.8 5.5,.1 5.9,1 5,1.4 10.6,3.5 4.6,1.4" stroke="#111" stroke-width="1.8" stroke-dasharray="5.2,2.5" fill="none"/>
<path d="M1095.8,274.4l2.4,3.5 2.3,3.9 11.3,21.7 2.7,4.7 2.4,3.6 2.7,3.5 2.7,2.7 2.8,1.8 2.7,.8 2.3-.1 2.4-.8 2.3-1.4 2.4-1.9 2.3-2.5 2.7-3.4 11.7-16.8 5.1-6.3 2.7-2.6 2.8-2 2.7-1.3 2.7-.6 2.4,0 2.3,.6 2.3,1.1 2.4,1.5 2.3,1.8 2.8,2.6 11.3,12.3 5,4.8 2.8,2.1 2.7,1.5 2.7,1.1 2.8,.5 2.3,0 2.3-.4 2.4-.8 2.3-1 2.7-1.7 2.8-1.9 11.3-9.3 5.1-3.6 2.7-1.5 2.7-1.2 2.7-.8 2.8-.4 2.3,0 2.4,.3 2.3,.6 2.7,1 5.1,2.5 10.9,6.8 4.7,2.6 5.1,2 2.7,.8 2.3,.3 2.4,.2 2.7-.1 2.7-.5 2.8-.6 5.4-2 11.3-5.3 5.1-2.1 5.1-1.5 5-.7 5.5,.1 5.9,1 5,1.5 10.6,3.7 4.6,1.5" stroke="#111" stroke-width="1.8" stroke-dasharray="5.2,2.5" fill="none"/>
<path d="M1095.8,253.8l2.4,3.3 2.3,3.8 11.3,20.8 2.7,4.6 2.4,3.4 2.7,3.4 2.7,2.6 2.8,1.7 2.7,.8 2.3-.1 2.4-.7 2.3-1.4 2.4-1.9 2.3-2.3 2.7-3.3 11.7-16.2 5.1-6.1 2.7-2.5 2.8-1.9 2.7-1.3 2.7-.5 2.4,0 2.3,.6 2.3,1 2.4,1.4 2.3,1.8 2.8,2.5 11.3,11.9 5,4.6 2.8,1.9 2.7,1.5 2.7,1.1 2.8,.5 2.3,0 2.3-.4 2.4-.7 2.3-1.1 2.7-1.5 2.8-1.9 11.3-8.9 5.1-3.5 2.7-1.5 2.7-1.1 2.7-.8 2.8-.3 2.3,0 2.4,.2 2.3,.6 2.7,.9 5.1,2.5 10.9,6.5 4.7,2.5 5.1,2 2.7,.7 2.3,.3 2.4,.1 2.7-.1 2.7-.4 2.8-.6 5.4-1.9 11.3-5.1 5.1-2 5.1-1.5 5-.7 5.5,.1 5.9,1 5,1.4 10.6,3.6 4.6,1.4" stroke="#111" stroke-width="1.8" stroke-dasharray="5.2,2.5" fill="none"/>
<path d="M1095.8,233l2.4,3.2 2.3,3.7 11.3,20.1 2.7,4.4 2.4,3.3 2.7,3.3 2.7,2.4 2.8,1.7 2.7,.7 2.3-.1 2.4-.7 2.3-1.2 2.4-1.9 2.3-2.3 2.7-3.1 11.7-15.6 5.1-5.8 2.7-2.5 2.8-1.8 2.7-1.3 2.7-.5 2.4,.1 2.3,.5 2.3,1 2.4,1.4 2.3,1.7 2.8,2.4 11.3,11.4 5,4.4 2.8,1.9 2.7,1.5 2.7,1 2.8,.5 2.3,0 2.3-.4 2.4-.7 2.3-1 2.7-1.5 2.8-1.8 11.3-8.6 5.1-3.4 2.7-1.4 2.7-1.1 2.7-.7 2.8-.4 2.3,0 2.4,.3 2.3,.6 2.7,.9 5.1,2.3 10.9,6.3 4.7,2.4 5.1,1.9 5,1 2.4,.1 2.7-.1 2.7-.4 2.8-.6 5.4-1.8 11.3-4.9 5.1-2 5.1-1.3 5-.7 5.5,0 5.9,1 5,1.4 10.6,3.4 4.6,1.4" stroke="#111" stroke-width="1.8" stroke-dasharray="5.2,2.5" fill="none"/>
<path d="M1095.8,211.2l2.4,3.2 2.3,3.7 10.9,19.6 2.8,4.4 2.3,3.4 3.1,3.8 2.7,2.5 2.8,1.6 2.7,.7 2.3,0 2.4-.8 2.3-1.3 2.4-1.8 2.3-2.3 2.7-3.1 11.3-15.1 5.1-5.8 3.1-2.8 2.8-1.8 2.7-1.2 2.7-.6 2.4,.1 2.3,.6 2.3,.9 2.4,1.4 2.3,1.7 2.8,2.4 11.3,11.2 5,4.3 2.8,1.9 2.7,1.4 2.7,.9 2.4,.5 2.3,0 2.3-.3 2.4-.6 2.7-1.1 5.5-3.3 11.3-8.3 5.1-3.3 2.7-1.3 2.7-1.1 2.7-.7 2.8-.3 2.3,0 2.4,.3 2.3,.5 2.7,.9 5.1,2.3 10.9,6 4.7,2.3 5.1,1.8 5,.9 5.1,0 5.5-.9 5.4-1.8 11.3-4.6 5.1-1.8 5.1-1.4 5-.6 5.5,.1 5.9,.9 4.6,1.2 15.6,4.6" stroke="#111" stroke-width="1.8" stroke-dasharray="5.2,2.5" fill="none"/>
<path d="M1095.8,190.3l2.4,3.2 2.3,3.6 10.9,18.8 2.8,4.3 2.3,3.3 3.1,3.6 2.7,2.4 2.8,1.5 2.7,.7 2-.1 2.3-.6 2.3-1.2 2.4-1.6 2.7-2.6 2.7-2.9 11.3-14.3 5.1-5.5 3.1-2.7 2.8-1.7 2.7-1.1 2.7-.5 2,.1 2.3,.4 2.4,.9 2.3,1.2 2.7,1.9 2.8,2.2 10.9,10.1 5,4.1 2.8,1.8 2.7,1.3 2.7,.9 2.8,.5 2.3,0 2.3-.2 2.4-.6 2.7-1.1 5.5-2.9 10.9-7.4 5.1-3 2.7-1.3 2.7-1 2.8-.7 2.7-.3 4.7,.2 5,1.2 5.5,2.2 10.9,5.4 4.7,2 5.1,1.6 5,.9 5.1,0 5.5-.9 5.4-1.6 11.3-4.1 4.7-1.4 5.5-1.3 5-.6 5.5,.1 5.9,.8 20.2,5.1" stroke="#111" stroke-width="1.8" stroke-dasharray="5.2,2.5" fill="none"/>
<path d="M1095.8,170.9l4.3,5.6 10.9,16.9 2.8,3.8 2.7,3.4 3.1,3.2 2.7,2.1 2.8,1.3 2.7,.6 2-.1 2.3-.5 2.3-1.1 2.4-1.5 2.3-1.9 2.7-2.6 11.4-12.4 5.4-5.2 2.7-2.1 2.8-1.5 2.7-1 2.7-.5 2.4,.1 2.3,.4 2.4,.7 2.3,1.1 5.1,3.2 11.3,8.9 5,3.5 2.8,1.5 2.7,1.1 2.7,.8 2.8,.4 2.3,0 2.3-.3 4.7-1.2 5.5-2.5 11.3-6.3 5.1-2.5 5.4-1.9 2.8-.5 2.7-.3 4.7,.2 5,1 5.1,1.7 10.9,4.4 5.1,1.8 5.1,1.3 5,.6 5.1,0 5.5-.7 5.4-1.3 10.9-3.1 5.1-1.3 5.1-.9 5.1-.5 5.4,.1 5.9,.6 20.6,3.9" stroke="#111" stroke-width="1.8" stroke-dasharray="5.2,2.5" fill="none"/>
<path d="M1095.8,153.5l5.1,5.3 10.9,13.3 4.7,4.8 3.1,2.4 2.7,1.6 2.8,1 2.7,.4 2,0 2.3-.5 2.3-.8 2.4-1.2 5-3.5 11.4-9.5 5-3.7 3.1-1.8 2.8-1.1 2.7-.8 2.7-.3 4.3,.3 4.7,1.3 5.1,2.4 11.7,6.8 5,2.6 5.5,1.9 2.7,.6 2.8,.3 4.6-.2 4.7-1 5.5-1.8 10.9-4.5 5.1-1.8 5.4-1.4 5.5-.6 4.7,.1 5,.7 5.5,1.2 15.6,4.4 5.1,.9 5,.5 5.1,0 5.5-.5 5.4-.8 16-3.1 5.5-.7 5.1-.3 5.4,0 5.9,.4 20.6,2.7" stroke="#111" stroke-width="1.8" stroke-dasharray="5.2,2.5" fill="none"/>
<path d="M1095.8,135.2l5.1,4.2 10.5,10.1 4.7,3.7 3.1,2 2.8,1.3 2.7,.8 2.7,.4 2,0 2.3-.3 2.3-.6 2.4-.9 5.1-2.6 11.3-7.3 5-2.9 3.2-1.4 2.7-.9 2.7-.6 2.7-.3 4.7,.2 4.7,1 5.1,1.8 11.3,5 5.1,2 5.4,1.4 5.5,.7 4.7-.1 4.6-.7 5.5-1.3 11.3-3.4 5.1-1.3 5.4-1 5.5-.4 4.7,.1 5,.5 5.1,.8 16,3.1 5.1,.7 5,.4 5.1,0 5.5-.4 21-2.7 10.6-.7 5.4,0 5.9,.3 21,1.8" stroke="#111" stroke-width="1.8" stroke-dasharray="5.2,2.5" fill="none"/>
<path d="M1095.8,343.1l2.1-.3 1.3-.6 1.4-.9 2.7-2.6 2.8-3.8 2.7-4.9 2.7-6 2.8-6.9 2.7-7.9 4.8-15.6 4.8-17.6 4.8-19 11.6-47.9 6.1-23.9 5.5-19 4.8-14.1 2.7-6.9 2-4.5 2.8-5.1 2-3.1 2.8-3.1 2-1.6 2.1-1 2-.3 109.3,.1 1.4,.2 2,1 1.4,.9 2.1,2.1 2,2.7 2.1,3.3 2,3.9 2.1,4.5 4.1,10.6 4.7,14.9 4.1,14.5 4.1,15.7 13.7,56.1 5.5,21.6 5.4,19.7 4.8,15 2.8,7.4 2.7,6.4 2.7,5.4 2.1,3.4 2.7,3.5 2.1,1.9 1.3,.9 1.4,.6 2,.3" stroke="#000" stroke-width="4.6" fill="none" stroke-linejoin="round" stroke-linecap="round"/>
</g>
<path d="M1069.34,397.30v-4.30M1069.34,94.05v4.30M1097.38,397.30v-4.30M1097.38,94.05v4.30M1125.42,397.30v-4.30M1125.42,94.05v4.30M1153.46,397.30v-4.30M1153.46,94.05v4.30M1209.54,397.30v-4.30M1209.54,94.05v4.30M1237.58,397.30v-4.30M1237.58,94.05v4.30M1265.62,397.30v-4.30M1265.62,94.05v4.30M1293.66,397.30v-4.30M1293.66,94.05v4.30M1349.74,397.30v-4.30M1349.74,94.05v4.30M1181.50,397.30v-9.00M1181.50,94.05v9.00M1321.70,397.30v-9.00M1321.70,94.05v9.00M1057.40,386.47h4.30M1368.20,386.47h-4.30M1057.40,364.81h4.30M1368.20,364.81h-4.30M1057.40,321.49h4.30M1368.20,321.49h-4.30M1057.40,299.83h4.30M1368.20,299.83h-4.30M1057.40,278.17h4.30M1368.20,278.17h-4.30M1057.40,256.51h4.30M1368.20,256.51h-4.30M1057.40,213.18h4.30M1368.20,213.18h-4.30M1057.40,191.52h4.30M1368.20,191.52h-4.30M1057.40,169.86h4.30M1368.20,169.86h-4.30M1057.40,148.20h4.30M1368.20,148.20h-4.30M1057.40,104.88h4.30M1368.20,104.88h-4.30M1057.40,343.15h9.00M1368.20,343.15h-9.00M1057.40,234.84h9.00M1368.20,234.84h-9.00M1057.40,126.54h9.00M1368.20,126.54h-9.00" stroke="#000" stroke-width="1.90" fill="none" stroke-linecap="round"/>
<rect x="1057.40" y="94.05" width="310.80" height="303.25" fill="none" stroke="#000" stroke-width="2.00"/>
<text x="1181.50" y="427.30" font-size="25.00" text-anchor="middle" font-weight="normal" letter-spacing="0.35">0.02</text>
<text x="1321.70" y="427.30" font-size="25.00" text-anchor="middle" font-weight="normal" letter-spacing="0.35">0.03</text>
<text x="1043.30" y="349.75" font-size="25.00" text-anchor="end" font-weight="normal" letter-spacing="0.35">0</text>
<text x="1043.30" y="241.44" font-size="25.00" text-anchor="end" font-weight="normal" letter-spacing="0.35">50</text>
<text x="1043.30" y="133.14" font-size="25.00" text-anchor="end" font-weight="normal" letter-spacing="0.35">100</text>
<text x="1230.80" y="377.00" font-size="17.50" text-anchor="middle" font-weight="bold">FFT window</text>
<path d="M1096.12,382.20H1365.90 M1096.12,382.20l12.3,-5.4 M1096.12,382.20l12.3,5.4 M1365.90,382.20l-12.3,-5.4 M1365.90,382.20l-12.3,5.4" stroke="#000" stroke-width="2.6" fill="none" stroke-linecap="round" stroke-linejoin="round"/>
<text font-size="25"><tspan x="1163.30" y="481.10">B</tspan><tspan x="1181.30" y="463.00" font-size="16.5">−1</tspan><tspan x="1206.10" y="481.10">(T</tspan><tspan x="1231.60" y="463.00" font-size="16.5">−1</tspan><tspan x="1253.80" y="481.10">)</tspan></text>
<text transform="translate(971.20,295.20) rotate(-90)" font-size="25"><tspan x="0" y="0">ΔR</tspan><tspan x="36.3" y="8" font-size="17.5">xx</tspan><tspan x="60.4" y="0">(Ω)</tspan></text>
<clipPath id="c6"><rect x="1483.70" y="94.05" width="310.60" height="303.25"/></clipPath>
<g clip-path="url(#c6)">
<path d="M1483.7,354.9l1.7-.2 3.3-.9 4.1-.3 3.3-.5 1.7,.1 2.5,1.3 .8,0 .8-.9 .9-2.6 .8-4.8 1.6-16.7 1.7-24.9 5-94.5 2.4-39.4 1.7-17.4 .8-5.3 .9-2.9 .8-.4 .8,2.1 .8,4.6 .9,7 1.6,20.5 2.5,43.4 5,98.2 1.6,23.8 .9,7.8 .8,4.5 .8,1.4 .9-.6 1.6-3.4 .8-1.1 .9-.4 .8,.5 .8,1.4 .9,2.3 1.6,6.6 4.1,20.3 .9,2.6 .8,1.3 .8-.2 2.5-4.5 1.7-2.4 .8-.7 .8-.3 .9,0 .8,.3 1.6,1.4 1.7,2.2 6.6,10.9 1.7,2.4 .8,.4 2.5-2.4 1.7-1.2 2.4-.9 2.5-.2 4.2,.3 4.1,.8 3.3,1.2 5,2.5 .8,.1 5-2.1 2.5-.5 1.6-.2 2.5,.2 5.8,1.1 6.6,.4 4.2,.8 .8,0 1.7-.7 1.6-1.2 5.8-5 2.5-1.9 2.5-1.1 1.6-.3 1.7,.2 2.5,1.1 5.8,4.3 2.5,1.4 1.6,.6 1.7,.2 3.3,0 8.3-.8 2.5,.1 4.9,.7 1.7,0 2.5-.7 6.6-3 1.7-.4 1.6-.1 2.5,.2 2.5,.9 7.4,4.2 1.7,.8 1.6,.5 1.7-.1 9.9-2.1 3.4-.4 4.1,.5 9.1,2.5 5.8-.4 9.9,.5 45.6,0" stroke="#2331d6" stroke-width="1.9" fill="none" stroke-linejoin="round"/>
<path d="M1483.7,345.9l3.3,0 2.5,.6 4.1,2.8 3.4,1.7 3.3,1.9 .8-.2 .8-1.2 .9-2.9 .8-5 .8-7.4 1.7-21.7 1.6-28.6 4.2-81.4 2.4-40.3 1.7-17.6 .8-5.4 .9-2.9 .8-.4 .8,2.3 .8,4.8 .9,7.2 1.6,21.1 1.7,28.3 5.8,115.7 1.6,24.2 .9,8 .8,5 .8,2 .9-.1 2.4-3.5 .9-.3 .8,.5 .8,1.3 .9,2.1 1.6,5.8 3.3,14.5 1.7,6.3 1.6,4.4 .9,1.3 .8,.7 .8,.3 1.7-.3 1.6-.8 5-3.4 1.7-.6 .8,0 1.6,.5 1.7,1.2 6.6,7.2 1.7,1.2 1.6,.4 3.4,.1 7.4-.3 7.5,.7 6.6-1.1 3.3-.1 3.3,.3 7.5,1.4 6.6,.3 3.3,.7 .8-.1 2.5-1.1 8.3-5.2 2.5-.9 1.6-.2 1.7,.2 2.5,1.1 1.6,1.1 5,4.2 .8,0 4.2-2.9 1.6-.9 1.7-.5 1.6-.2 1.7,.2 1.7,.4 6.6,2.4 8.3,1.8 .8-.2 1.7-.9 4.1-2.9 2.5-1.5 2.5-1 2.5-.2 1.6,.2 1.7,.5 7.4,4 1.7,.7 1.6,.3 2.5-.1 6.6-.9 3.4-.1 4.1,.5 7.5,1.8 2.4,.4 5.8-.4 8.3,.5 5-.2 6.6,.2 34.8,0" stroke="#3a76e2" stroke-width="1.9" fill="none" stroke-linejoin="round"/>
<path d="M1483.7,346.1l4.1-.3 1.7,.3 4.1,1.9 3.4,1.1 3.3,1.6 .8-.2 .8-1.4 .9-3.1 .8-5.5 .8-8 1.7-23.2 1.6-30.4 4.2-86.4 2.4-42.7 1.7-18.8 .8-5.7 .9-3.1 .8-.4 .8,2.4 .8,5 .9,7.7 1.6,22.3 1.7,30 5.8,123.5 1.6,25.5 .9,8.4 .8,4.9 .8,1.8 .9-.6 1.6-3.3 .8-1.2 .9-.4 .8,.6 .8,1.5 .9,2.4 1.6,6.8 4.1,20.6 .9,2.8 .8,1.8 .8,.7 .9-.3 2.4-2.7 .9-.7 .8-.3 .8-.1 .9,.2 .8,.5 1.6,1.5 6.7,8.4 1.6,1.9 1.7,1.4 .8,.5 1.7,.6 4.9,.5 1.7-.3 5.8-3.1 1.6-.5 1.7-.1 1.7,.2 1.6,.5 5,2.9 1.6,.6 .9-.2 4.9-2.1 2.5-.6 2.5-.2 2.5,0 3.3,.5 2.5,.6 4.1,1.5 1.7,.1 1.6-.6 6.7-3.9 2.5-.9 1.6-.2 1.7,.2 2.5,.8 5.8,3.6 1.6,.6 1.7-.2 3.3-1.2 1.6-.4 3.4-.2 2.4,.2 3.3,.5 9.2,2.2 7.4,.3 1.7-.4 1.6-.6 8.3-3.9 2.5-.6 1.7-.2 2.4,.3 2.5,.7 10.8,5 3.3-1.1 4.1-.9 5-.7 4.2-.1 3.3,.1 2.5,.4 9.9,2.2 5.8-.4 9.1,.5 5-.1 33.1,.1" stroke="#4ba6e6" stroke-width="1.9" fill="none" stroke-linejoin="round"/>
<path d="M1483.7,350.4l4.1-.7 1.7-.2 6.6,.8 1.7,.5 2.5,1.7 .8,.1 .8-1 .9-2.8 .8-5 1.6-17.7 1.7-26.4 5-99.2 2.4-41.3 1.7-18.1 .8-5.6 .9-3 .8-.3 .8,2.2 .8,4.9 .9,7.4 1.6,21.5 1.7,29 5.8,118.5 1.6,24.6 .9,8.1 .8,4.9 .8,1.8 .9-.3 1.6-2.8 .8-1 .9-.2 .8,.6 .8,1.5 1.7,5.1 4.9,21.5 .9,2.5 .8,1.8 .8,1 .9,.5 2.4,.2 1.7,.6 3.3,2.8 1.7,1.1 1.6,.3 3.3-.2 1.7,.2 1.7,.6 4.1,2.3 1.7,.7 2.4,.2 6.7-.7 3.3,.1 3.3,1 5,2.5 .8-.2 4.1-1.8 1.7-.4 2.5-.3 2.5,.2 8.2,1 5.8,1.3 .9,.1 2.4-1 8.3-4.3 2.5-.9 2.5-.4 2.5,.3 2.5,.9 2.5,1.5 4.1,3 .8,.5 .9,.2 4.9-2.2 1.7-.4 2.5-.2 3.3,.5 9.1,2.1 6.6,.8 5-.6 9.1-1.5 5-.4 3.3,.3 8.3,1.3 3.3,.3 3.3-.1 8.3-1.3 3.3-.2 4.1,.4 9.1,1.8 5.8-.4 9.1,.4 39.8,0" stroke="#5fdcec" stroke-width="1.9" fill="none" stroke-linejoin="round"/>
<path d="M1483.7,355.5l1.7-.3 4.1-1.1 3.3-.3 3.3-.7 1.7,.2 2.5,1.1 .8,0 .8-1.1 .9-2.8 .8-4.9 1.6-17.1 1.7-25.3 5-95.4 2.4-39.7 1.7-17.5 .8-5.3 .9-2.8 .8-.4 .8,2.2 .8,4.7 .9,7.2 1.6,20.7 1.7,27.8 5.8,113.8 1.6,23.4 .9,7.8 .8,4.7 .8,1.8 .9-.2 1.6-2.4 .8-.8 .9-.2 .8,.7 .8,1.4 1.7,5.1 4.1,17.2 1.7,5 .8,1.5 .8,.9 .9,.5 2.4,.8 1.7,1.3 1.7,2.2 4.1,6.8 .8,1.1 2.5-2.6 .8-.5 1.7-.6 .8-.1 1.7,.4 5.8,2.6 1.6,.4 1.7-.4 5.8-2.5 1.6-.4 1.7-.1 2.5,.4 5.8,2.3 1.6,.3 4.2-.6 2.5-.1 9.9,.2 6.6,.6 3.3-.4 9.2-3 2.4-.5 1.7-.2 2.5,.3 2.5,.7 7.4,3.6 .9,0 4.9-1.6 4.2-.3 4.9,.4 8.3,1.5 6.6,.3 3.4-.7 7.4-2.4 2.5-.5 1.7-.1 1.6,.1 2.5,.4 8.3,2.7 1.6,.2 6.7-1.4 4.9-.4 5,.4 10.8,1.7 5.8-.2 9.9,.3 43.9,0" stroke="#62e6c4" stroke-width="1.9" fill="none" stroke-linejoin="round"/>
<path d="M1483.7,355.6l1.7-.2 4.1-1.3 4.1-.3 2.5-.4 1.7,0 2.5,.8 .8-.3 .8-1.2 .9-2.8 .8-4.8 1.6-16.5 1.7-24.4 5-92.3 2.4-38.6 1.7-17 .8-5.2 .9-2.9 .8-.3 .8,2.1 .8,4.5 .9,6.9 1.6,20.1 1.7,27 5.8,110.8 1.6,22.9 .9,7.6 .8,4.6 .8,1.8 .9-.2 1.6-2.5 .8-.9 .9-.3 .8,.6 .8,1.4 1.7,4.9 4.9,21.1 .9,2.4 .8,1.7 .8,.8 .9,.1 3.3-1.5 .8,0 1.7,.6 2.4,2.2 4.2,4.9 2.5,2.6 2.5,1.9 1.6,.8 4.2-.3 3.3,.6 .8-.2 5-2.2 1.6-.4 1.7-.2 2.5,.3 4.9,1.7 1.7,.3 5.8-.3 10.8,0 9.9,.4 5,.6 1.6-.4 7.5-2.2 2.5-.4 2.4-.1 3.4,.2 8.2,1.1 8.3,0 3.3,.2 10.8,1.6 5.8-.3 5.8,.2 9.1-2.3 4.1-.5 2.5,.2 2.5,.4 7.5,2.4 5.8-1.4 4.1-.3 4.2,.3 9.9,1.5 5.8-.3 10.8,.3 42.2,0" stroke="#6ce68c" stroke-width="1.9" fill="none" stroke-linejoin="round"/>
<path d="M1483.7,360.8l1.7-.3 4.1-2.2 6.6-2.5 1.7-.3 2.5,.4 .8-.4 .8-1.2 .9-2.6 .8-4.5 1.6-15 1.7-22.3 5-84.7 2.4-35.4 1.7-15.5 .8-4.8 .9-2.5 .8-.3 .8,1.9 .8,4.2 .9,6.4 1.6,18.4 1.7,24.8 5.8,101.1 1.6,20.8 .9,6.9 .8,4.3 .8,1.9 .9,.2 2.4-2.1 .9-.1 .8,.7 .8,1.3 1.7,4.5 4.9,18.8 1.7,3.9 .8,1.1 .9,.5 .8,.1 2.5-.1 2.5,.7 9.1,4.9 5.8,4.2 .8,.3 .8,.1 4.2-.8 1.6,0 4.2,.6 4.9-.6 2.5-.1 6.6,1 5.8-.6 2.5-.1 7.5,.7 8.3-.1 4.9,.9 9.1-2.1 4.2-.5 3.3-.1 5,.4 7.4,1.5 1.7,.1 5.8-.7 3.3,0 10.8,1.1 4.1,.1 4.1-.5 8.3-2.2 4.2-.4 4.1,.6 8.3,2.4 .8,0 5.8-1 5-.2 5,.2 10.7,1.3 5.8-.2 10.8,.2 41.4,0" stroke="#e2c42e" stroke-width="1.9" fill="none" stroke-linejoin="round"/>
<path d="M1483.7,365l1.7-.3 3.3-1.6 1.6-.6 9.1-1.3 .9-.3 .8-.7 .8-1.4 .9-2.6 .8-4 .8-5.5 1.7-15.7 1.6-20.6 4.2-58.9 2.4-29.2 1.7-12.9 .8-3.9 .9-2.2 .8-.2 .8,1.6 .8,3.5 .9,5.3 1.6,15.3 1.7,20.6 5.8,83.2 1.6,16.8 .9,5.7 .8,3.6 .8,1.8 .9,.6 2.4-.6 .9,.3 .8,.8 .8,1.4 1.7,4.1 4.1,13.3 1.7,3.5 .8,1.1 .8,.5 3.3,.6 .9,.4 1.6,1.2 1.7,1.8 4.1,5.5 1.7,1.8 .8,.2 1.7-1.1 .8-.3 1.7-.3 1.6,.2 4.2,1.2 .8,0 5-1.5 3.3-.4 3.3,.3 8.3,2 9.1-.4 16.5-.1 2.5-.3 6.6-1.7 4.2-.4 2.5,.2 2.5,.5 7.4,2.2 .8,.1 5.8-1.5 5-.4 4.1,.3 7.5,1.3 9.1,.2 2.5-.4 7.5-1.8 4.1-.4 4.1,.3 10.8,2.4 7.5-.2 8.2-1 3.4-.2 4.1,.2 9.9,1.3 5-.2 8.3,.2 41.4,0" stroke="#e6922c" stroke-width="1.9" fill="none" stroke-linejoin="round"/>
<path d="M1483.7,374.2l1.7-.3 4.1-2 1.7-.6 7.4-1.4 1.7-.6 .8-.7 .8-1.3 .9-2.1 .8-3.1 .8-4.2 1.7-11.6 1.6-15.1 4.2-43 2.4-21.2 1.7-9.4 .8-2.8 .9-1.5 .8-.1 .8,1.2 .8,2.6 .9,3.8 1.6,11.3 1.7,15 5.8,60.7 1.6,12.3 .9,4.2 .8,2.8 .8,1.5 .9,.6 2.4,0 .9,.3 .8,.6 .8,1 1.7,2.9 4.9,11.5 1.7,2.4 .8,.8 .9,.4 4.1,.6 1.7,.4 2.4,1 6.7,3.3 1.6,.6 1.7,.3 4.1-.4 2.5,0 2.5,.6 4.1,1.6 .9,0 3.3-1 2.5-.3 2.4,.1 8.3,1.1 9.1-.5 9.2,.3 9.1-.9 5.8-.2 4.9,.2 9.1,1.1 9.2-.1 9.1-.4 9.1,.5 9.9,.3 10.8-1.9 4.9-.4 4.2,.4 9.9,1.8 5-.5 5.8-.1 6.6,.1 10.8,.6 53,0" stroke="#e66228" stroke-width="1.9" fill="none" stroke-linejoin="round"/>
<path d="M1483.7,380.7l1.7-.3 4.9-1.9 5.8-.7 2.5-.8 1.7-1 .8-.9 .8-1.2 .9-1.8 1.6-5.7 1.7-8.4 1.6-10.8 4.2-31 2.4-15.4 1.7-6.8 .8-2.1 .9-1.1 .8-.1 .8,.8 .8,1.9 .9,2.8 1.6,8.1 1.7,11 5.8,44.2 1.6,9 .9,3.1 .8,2.1 .8,1.2 .9,.6 2.4,.2 .9,.3 1.6,1.3 1.7,2.3 4.9,9 1.7,1.9 .8,.4 1.7,.1 2.5-.6 1.6-.1 2.5,.5 2.5,1.1 6.6,4 2.5,1.1 3.3-.7 2.5-.1 5.8,.5 7.5-.1 8.2,.6 10.8-.7 9.1,.7 6.6,0 9.2-1 4.1-.2 4.1,.2 10,1 13.2-.8 4.2,.2 7.4,.6 6.7,.1 9.9-1.3 4.1-.2 4.2,.2 11.6,1.3 15.7-.7 13.3,.7 53.8,0" stroke="#e4321c" stroke-width="1.9" fill="none" stroke-linejoin="round"/>
<circle cx="1518.49" cy="144.59" r="4.2" fill="#2331d6"/>
<circle cx="1518.49" cy="137.95" r="4.2" fill="#3a76e2"/>
<circle cx="1518.49" cy="121.79" r="4.2" fill="#4ba6e6"/>
<circle cx="1518.49" cy="132.15" r="4.2" fill="#5fdcec"/>
<circle cx="1518.49" cy="142.12" r="4.2" fill="#62e6c4"/>
<circle cx="1518.49" cy="147.87" r="4.2" fill="#6ce68c"/>
<circle cx="1518.49" cy="166.66" r="4.2" fill="#e2c42e"/>
<circle cx="1518.49" cy="203.10" r="4.2" fill="#e6922c"/>
<circle cx="1518.49" cy="253.15" r="4.2" fill="#e66228"/>
<circle cx="1518.49" cy="290.67" r="4.2" fill="#e4321c"/>
</g>
<path d="M1504.41,397.30v-4.30M1504.41,94.05v4.30M1525.11,397.30v-4.30M1525.11,94.05v4.30M1545.82,397.30v-4.30M1545.82,94.05v4.30M1566.53,397.30v-4.30M1566.53,94.05v4.30M1607.94,397.30v-4.30M1607.94,94.05v4.30M1628.65,397.30v-4.30M1628.65,94.05v4.30M1649.35,397.30v-4.30M1649.35,94.05v4.30M1670.06,397.30v-4.30M1670.06,94.05v4.30M1711.47,397.30v-4.30M1711.47,94.05v4.30M1732.18,397.30v-4.30M1732.18,94.05v4.30M1752.89,397.30v-4.30M1752.89,94.05v4.30M1773.59,397.30v-4.30M1773.59,94.05v4.30M1587.23,397.30v-9.00M1587.23,94.05v9.00M1690.77,397.30v-9.00M1690.77,94.05v9.00M1483.70,384.66h4.30M1794.30,384.66h-4.30M1483.70,372.03h4.30M1794.30,372.03h-4.30M1483.70,359.39h4.30M1794.30,359.39h-4.30M1483.70,346.76h4.30M1794.30,346.76h-4.30M1483.70,321.49h4.30M1794.30,321.49h-4.30M1483.70,308.85h4.30M1794.30,308.85h-4.30M1483.70,296.22h4.30M1794.30,296.22h-4.30M1483.70,283.58h4.30M1794.30,283.58h-4.30M1483.70,258.31h4.30M1794.30,258.31h-4.30M1483.70,245.67h4.30M1794.30,245.67h-4.30M1483.70,233.04h4.30M1794.30,233.04h-4.30M1483.70,220.40h4.30M1794.30,220.40h-4.30M1483.70,195.13h4.30M1794.30,195.13h-4.30M1483.70,182.50h4.30M1794.30,182.50h-4.30M1483.70,169.86h4.30M1794.30,169.86h-4.30M1483.70,157.23h4.30M1794.30,157.23h-4.30M1483.70,131.96h4.30M1794.30,131.96h-4.30M1483.70,119.32h4.30M1794.30,119.32h-4.30M1483.70,106.69h4.30M1794.30,106.69h-4.30M1483.70,334.12h9.00M1794.30,334.12h-9.00M1483.70,270.95h9.00M1794.30,270.95h-9.00M1483.70,207.77h9.00M1794.30,207.77h-9.00M1483.70,144.59h9.00M1794.30,144.59h-9.00" stroke="#000" stroke-width="1.90" fill="none" stroke-linecap="round"/>
<rect x="1483.70" y="94.05" width="310.60" height="303.25" fill="none" stroke="#000" stroke-width="2.00"/>
<text x="1483.70" y="427.30" font-size="25.00" text-anchor="middle" font-weight="normal" letter-spacing="0.35">0</text>
<text x="1587.23" y="427.30" font-size="25.00" text-anchor="middle" font-weight="normal" letter-spacing="0.35">500</text>
<text x="1690.77" y="427.30" font-size="25.00" text-anchor="middle" font-weight="normal" letter-spacing="0.35">1000</text>
<text x="1794.30" y="427.30" font-size="25.00" text-anchor="middle" font-weight="normal" letter-spacing="0.35">1500</text>
<text x="1469.10" y="404.40" font-size="25.00" text-anchor="end" font-weight="normal" letter-spacing="0.35">0.00</text>
<text x="1469.10" y="341.22" font-size="25.00" text-anchor="end" font-weight="normal" letter-spacing="0.35">0.25</text>
<text x="1469.10" y="278.05" font-size="25.00" text-anchor="end" font-weight="normal" letter-spacing="0.35">0.50</text>
<text x="1469.10" y="214.87" font-size="25.00" text-anchor="end" font-weight="normal" letter-spacing="0.35">0.75</text>
<text x="1469.10" y="151.69" font-size="25.00" text-anchor="end" font-weight="normal" letter-spacing="0.35">1.00</text>
<text x="1639.00" y="469.10" font-size="26.00" text-anchor="middle" font-weight="normal">Frequency (T)</text>
<text transform="translate(1399.40,245.68) rotate(-90)" font-size="26.00" text-anchor="middle">FFT amplitude (a.u.)</text>
<text x="1772.80" y="346.50" font-size="19.50" text-anchor="end" font-weight="normal" letter-spacing="0.2">FFT window:</text>
<text font-size="19.5" y="367.70"><tspan x="1692.60">30</tspan><tspan x="1718.20" y="371.50" font-size="25.5">~</tspan><tspan x="1736.20" y="367.70">72</tspan><tspan x="1761.10">T</tspan></text>
<rect x="1095.82" y="514.55" width="74.89" height="303.25" fill="#f7f8f0"/>
<text x="1349.30" y="562.30" font-size="18.30" text-anchor="end" font-weight="normal">15.0 K</text>
<text x="1349.30" y="755.30" font-size="18.30" text-anchor="end" font-weight="normal">1.8 K</text>
<clipPath id="c7"><rect x="1057.40" y="514.55" width="310.80" height="303.25"/></clipPath>
<g clip-path="url(#c7)">
<path d="M1095.8,758.2l.8,.4 1.2,1.4 3.5,7.2 1.2,2 1.1,1.1 .8,.1 .8-.3 1.2-1.2 4.2-7 1.2-1.1 1.2-.3 .8,.2 1.1,.8 3.9,4.5 1.2,.7 .8,.2 .8-.1 1.1-.7 4.7-4.7 1.2-.5 .8-.1 .7,.1 1.2,.7 4.7,4.3 1.2,.5 .7,.1 .8-.2 1.2-.5 4.3-3.8 1.2-.6 .7-.1 .8,0 1.2,.4 4.3,3.2 1.1,.6 1.2,.3 2-.5 3.9-2.3 1.5-.6 2,.1 4.7,2.1 1.9,.3 2-.5 4.6-2.3 2.4-.4 6.2,.7 7-.5 3.2,0 10.5,1.5 13.6,1.1 17.2-.4 7.8,.4 7.8-1.3 7.8,.1 6.6-.5 2.4,.1 7.8,1.2 9.7-.5 9.4,.4 7-.5 2.3,.2 4.3,.7 2,.1 2.3-.2 10.5-1.7 4.7-.3 6.7,.2 6.6,1 2.3,.2 3.1-.2 5.5-.8 2.3-.1 2.4,.3 5.4,1.1 4.3,.1" stroke="#2331d6" stroke-width="3.4" fill="none" stroke-linejoin="round"/>
<path d="M1095.8,737.1l.8,.8 1.2,1.7 3.9,7.7 1.1,1.3 .8,.2 .8-.3 1.2-1.2 3.1-5.7 1.2-1.8 1.1-1 .8-.3 .8,.2 1.2,.8 4.3,5.3 1.1,.9 .8,.2 1.2-.3 1.1-.9 4.3-5 1.2-.7 .8-.2 .8,.2 1.1,.8 4.7,5 1.2,.7 .8,.2 1.1-.3 1.2-.7 3.5-3.3 1.2-.9 1.2-.5 .7-.1 .8,.1 1.2,.4 4.3,3.1 .8,.3 1.1,.2 2-.5 4.7-3 1.9-.4 2,.4 3.9,1.7 1.5,.3 2-.3 4.6-1.9 2-.2 1.9,.3 3.9,1.4 2.4,.5 1.9-.1 4.3-1.1 2-.3 2.7,.3 5.5,1.4 2.7,.2 18.7-1.7 2.7,.3 6.3,1.7 3.1,.3 6.6-.3 5.5-.1 6.6-.7 2.4-.1 2.3,.3 5.1,1 2.3,.2 2.7-.2 5.1-1.1 2.7-.4 2.4,.1 5.1,.9 2.3,.1 7.8-.8 8.6,.1 7-.4 3.1,.4 5.5,1.7 2.3,.2 2.4-.2 6.6-1.5 1.9-.1 6.7,.1 8.2-1.3 3.5,.2 5.8,1.6 2.4,.4 2.3-.2 6.2-1.1" stroke="#3a76e2" stroke-width="3.4" fill="none" stroke-linejoin="round"/>
<path d="M1095.8,716.7l1.6,2.4 3.5,6.9 1.2,1.4 .7,.4 .8-.2 1.2-1.2 4.3-8.3 1.2-1.3 1.1-.3 .8,.2 .8,.5 3.5,4 1.2,1 .7,.3 1.2,.1 .8-.3 1.2-.9 3.5-3.4 1.1-.7 1.2-.1 .8,.2 1.2,.6 4.6,4.4 1.2,.6 .8,.1 .8,0 1.1-.5 4.7-3.6 1.2-.6 1.2-.2 .7,.1 1.2,.4 4.3,3 2,.6 .7-.1 1.2-.4 4.7-2.9 1.9-.4 2,.5 4.3,2.2 1.9,.3 2-.4 4.7-1.8 2.3-.4 1.9,.3 3.9,1.1 2,.3 2.3,.1 4.7-.6 2.7,0 2.4,.2 5.1,1.2 1.9,.2 6.6-.6 6.7,.6 2.3,0 7-.9 2.4-.2 6.6,.7 5.5-.1 5.8,.5 2.3,0 12.9-.8 8.6-1.4 3.5-.4 2.7,.2 7.4,1 18.4-.2 3.1,.3 5.8,.9 3.2,.3 4.6-.4 9.8-1.6 2.7-.1 2.8,.4 6.6,1.7 3.1,.3 4.3-.3 10.5-1.8 3.1,0 4.3,.4" stroke="#4ba6e6" stroke-width="3.4" fill="none" stroke-linejoin="round"/>
<path d="M1095.8,696.6l1.6,2.5 3.5,6.5 1.2,1.4 .7,.3 .8-.3 .8-.8 1.2-2 2.7-5.8 1.2-1.6 .8-.5 .7-.2 1.2,.3 4.3,3.8 1.2,.6 .7,.1 .8-.1 1.2-.6 4.3-3.9 1.2-.7 1.1-.3 .8,.1 1.2,.3 4.3,2.9 1.9,.7 2,0 4.6-1.6 2-.2 1.9,.6 4.3,2.2 2,.4 1.9-.3 4.3-2.1 2-.5 1.1,.1 1.2,.3 3.9,1.8 1.2,.2 1.2,0 1.9-.7 3.9-2 1.6-.5 1.1-.1 1.6,.1 5.8,1.1 6.3,.2 5.4,.5 2.8-.1 11.3-1 2.3,.2 5.9,1 2.7,.2 3.1-.1 6.7-.7 9.7,.5 8.6-.5 7.8,.2 7-.3 10.1,.9 16.8-.3 10.9,1.1 9-.6 12.5-.2 5.4,.1 6.7,.7 2.7,.1 5.1-.4 7.4-1.6 2.7-.3 9-.1 5.8,.4" stroke="#5fdcec" stroke-width="3.4" fill="none" stroke-linejoin="round"/>
<path d="M1095.8,676.9l4.7,7.7 1.2,1.2 .8,.2 .7-.3 1.2-1.4 3.1-7 1.2-2.1 .8-.9 1.1-.4 .8,.1 .8,.4 4.3,3.7 .8,.3 1.1,.2 2-.5 3.9-2.2 1.9-.4 2,.3 4.3,2 1.9,.4 2.4-.3 4.3-1.7 1.9-.4 2.4,.4 4.2,1.8 2,.3 2.3-.6 4.7-2.1 2-.2 1.9,.5 4.7,2.3 2.3,.5 2-.1 6.2-1.2 7.4-.1 7.8-.9 2.8,.2 5.8,1.7 3.1,.3 7.8-.9 5.5,.2 2.3-.1 5.5-1.2 1.9-.2 2.4,.1 4.3,1.1 1.9,.2 2,0 5-1 2.4-.1 2.3,.2 5.5,1 4.3,.2 7.4-.2 15.2-1.7 2.7,0 6.7,.6 8.5-.9 2.4,.1 5,.7 2.8,.2 14.4,.2 9.4-.4 16,1.1 8.1-.6 7.5,.7 4.6-.3" stroke="#62e6c4" stroke-width="3.4" fill="none" stroke-linejoin="round"/>
<path d="M1095.8,655.7l4.7,6.4 1.2,1.1 .8,.3 .7-.2 1.2-1.1 3.1-5.8 1.2-1.7 .8-.7 1.1-.3 1.6,.5 3.5,2.5 1.6,.5 1.9-.3 4.3-2.6 1.2-.5 1.2-.2 1.9,.4 3.5,1.9 1.6,.5 1.9,0 4.3-1.4 2-.1 1.9,.5 3.9,1.9 2,.3 2.3-.3 3.9-1.7 2-.6 2.3,.1 4.3,1.4 2.3,.2 2.4-.4 5-1.8 3.2-.4 2.7,.3 5.4,1.4 2.8,.4 2.3-.1 7.8-1.1 11.7,0 13.7,1.4 2.7-.1 5.1-.7 2.7,0 2.3,.3 4.7,1 2.4,.3 2.7-.3 7-1.5 5.9-.4 17.1,.9 7.4-.6 6.7,.4 8.5-.1 6.7-.9 2.3-.1 2.7,.4 4.7,1.1 2.7,.2 2-.1 7-1.2 9,.1 8.6-.8 10.9,1.2 9.7,.7 3.9-.1" stroke="#6ce68c" stroke-width="3.4" fill="none" stroke-linejoin="round"/>
<path d="M1095.8,634.9l3.5,3.1 1.6,.9 1.2,.3 .7-.1 1.2-.7 3.9-4.3 .8-.5 1.2-.3 1.5,.3 3.1,1.3 2,.3 1.9-.4 4.3-1.6 2.4-.2 1.9,.4 4.7,1.8 2,.3 2.3-.3 4.3-1.5 1.9-.3 2,.1 4.7,1.3 1.9,.2 2-.2 5.4-1.3 2.4,0 3.9,.5 1.9,.1 2-.3 4.3-.9 1.9-.2 2,.2 4.6,1 2.4,.2 3.1-.2 6.2-1 3.5-.1 12.5,.6 9.4,1.1 8.2-.2 7.8,.6 3.5-.1 7.4-.9 12.5,.1 7.4-.5 8.2,.8 12.5,.3 7.4,.8 2.7,.2 9.7-.7 8.2,.1 9.8-.4 9.7-.8 13.7,.2 7.8-1.1 7.8,.8 5.8,.1" stroke="#e2c42e" stroke-width="3.4" fill="none" stroke-linejoin="round"/>
<path d="M1095.8,612.8l3.1,1.8 1.6,.5 1.2,.1 1.9-.5 3.1-2.2 1.6-.6 1.6,.1 3.9,1.8 1.9,.4 2-.4 3.9-1.9 1.5-.4 2,0 3.9,1.1 1.9,.3 2-.2 3.9-1.2 1.9-.3 2.4,.4 5,1.9 2.4,.4 2.3-.3 5.1-1.9 2.3-.4 1.6,0 5.4,.8 5.9-.3 2.3,.1 6.3,1.1 1.9,.2 2.4-.3 5-1.6 2.4-.2 6.6,1 2.3,.2 7.8-.7 8.6-.4 3.1,.2 5.5,1 2,.2 2.3-.1 5.5-.8 4.2,0 14.1,.7 6.2,1.1 2.8,.3 3.1-.3 6.2-1.5 3.5-.4 10.2,.8 12.1-.8 2.7,.3 5.1,1.3 3.5,.4 4.3-.2 5.8-1 3.1-.3 3.9,0 5.9,.7 2.3,.1 6.3-.5 7-.2 7.4-.7 3.5,.1 7,1 3.1,.1" stroke="#e6922c" stroke-width="3.4" fill="none" stroke-linejoin="round"/>
<path d="M1095.8,592l2.4,.8 2.7,.2 2.3-.5 3.5-1.7 1.6-.4 1.6,0 3.5,.9 1.9,.2 2-.4 3.9-1.1 1.9-.3 2.4,.2 4.3,1 1.9,.2 2-.3 4.2-1 2-.1 1.6,.1 5.8,.9 2,0 6.2-.8 7.8,.6 2.3-.3 4.3-1 2.4-.2 2.3,.2 6.2,1.4 3.2,.4 2.7-.1 7.4-1 3.5-.2 2.4,.1 6.6,.8 6.6-.3 6.6,.3 22.7-.2 10.5,.4 3.1-.2 6.3-1 3.1-.2 23,1.4 7,0 6.2-.4 2.8,0 10.1,1.5 3.1,.2 11.7-1 7.8-1 3.5,.1 6.3,1.2 2.7,.2 2.7-.2 9.8-1.7 3.1-.2 3.1,.2" stroke="#e66228" stroke-width="3.4" fill="none" stroke-linejoin="round"/>
<path d="M1095.8,569.4l2,0 5.4-1.2 2.8-.1 1.9,.3 4.7,1.8 1.9,.2 2.4-.6 4.3-2 2.3-.4 7,1.2 2-.1 3.9-.6 1.9,0 2,.3 4.3,1.2 2.7,.3 2-.2 6.6-1.1 6.6,0 6.3-.4 3.1,.2 7,1.4 3.1,.2 7.8-.5 8.2,.4 6.2-.8 2.8-.1 9.7,.3 14.8,.2 14.1-.2 16-1 13.6,.5 12.9-1 7.8,1 1.9-.1 5.5-.8 2.3-.1 11.4,1.1 14.8-.9 9.3,.5 8.6,.1 7,.4 11.7,.3" stroke="#e4321c" stroke-width="3.4" fill="none" stroke-linejoin="round"/>
<path d="M1095.8,763.6l.6-.3 .7-1.5 .8-2.6 .7-3.8 1.5-10.9 1.5-14.8 2.7-33.2 6.2-90.8 2.8-33.1 1.3-11.4 1.3-8.2 1.3-4.7 .6-1 .5-.3 30.1,.1 .4,.2 .5,1 1,3 1.1,6 1.1,8.4 2.4,25.5 2.3,30.2 5.3,77.7 2.8,34.7 1.5,13.8 1.3,8.8 1.3,5.4 .8,1.5 .5,.3" stroke="#000" stroke-width="4.6" fill="none" stroke-linejoin="round" stroke-linecap="round"/>
</g>
<path d="M1069.34,817.80v-4.30M1069.34,514.55v4.30M1097.38,817.80v-4.30M1097.38,514.55v4.30M1125.42,817.80v-4.30M1125.42,514.55v4.30M1153.46,817.80v-4.30M1153.46,514.55v4.30M1209.54,817.80v-4.30M1209.54,514.55v4.30M1237.58,817.80v-4.30M1237.58,514.55v4.30M1265.62,817.80v-4.30M1265.62,514.55v4.30M1293.66,817.80v-4.30M1293.66,514.55v4.30M1349.74,817.80v-4.30M1349.74,514.55v4.30M1181.50,817.80v-9.00M1181.50,514.55v9.00M1321.70,817.80v-9.00M1321.70,514.55v9.00M1057.40,806.97h4.30M1368.20,806.97h-4.30M1057.40,785.31h4.30M1368.20,785.31h-4.30M1057.40,741.99h4.30M1368.20,741.99h-4.30M1057.40,720.33h4.30M1368.20,720.33h-4.30M1057.40,698.67h4.30M1368.20,698.67h-4.30M1057.40,677.01h4.30M1368.20,677.01h-4.30M1057.40,633.68h4.30M1368.20,633.68h-4.30M1057.40,612.02h4.30M1368.20,612.02h-4.30M1057.40,590.36h4.30M1368.20,590.36h-4.30M1057.40,568.70h4.30M1368.20,568.70h-4.30M1057.40,525.38h4.30M1368.20,525.38h-4.30M1057.40,763.65h9.00M1368.20,763.65h-9.00M1057.40,655.34h9.00M1368.20,655.34h-9.00M1057.40,547.04h9.00M1368.20,547.04h-9.00" stroke="#000" stroke-width="1.90" fill="none" stroke-linecap="round"/>
<rect x="1057.40" y="514.55" width="310.80" height="303.25" fill="none" stroke="#000" stroke-width="2.00"/>
<text x="1181.50" y="847.80" font-size="25.00" text-anchor="middle" font-weight="normal" letter-spacing="0.35">0.02</text>
<text x="1321.70" y="847.80" font-size="25.00" text-anchor="middle" font-weight="normal" letter-spacing="0.35">0.03</text>
<text x="1043.30" y="770.25" font-size="25.00" text-anchor="end" font-weight="normal" letter-spacing="0.35">0</text>
<text x="1043.30" y="661.94" font-size="25.00" text-anchor="end" font-weight="normal" letter-spacing="0.35">50</text>
<text x="1043.30" y="553.64" font-size="25.00" text-anchor="end" font-weight="normal" letter-spacing="0.35">100</text>
<text x="1133.30" y="794.10" font-size="17.50" text-anchor="middle" font-weight="bold">FFT window</text>
<path d="M1096.12,802.50H1169.40 M1096.12,802.50l12.3,-5.4 M1096.12,802.50l12.3,5.4 M1169.40,802.50l-12.3,-5.4 M1169.40,802.50l-12.3,5.4" stroke="#000" stroke-width="2.6" fill="none" stroke-linecap="round" stroke-linejoin="round"/>
<text font-size="25"><tspan x="1163.30" y="901.60">B</tspan><tspan x="1181.30" y="883.50" font-size="16.5">−1</tspan><tspan x="1206.10" y="901.60">(T</tspan><tspan x="1231.60" y="883.50" font-size="16.5">−1</tspan><tspan x="1253.80" y="901.60">)</tspan></text>
<text transform="translate(968.70,757.60) rotate(-90)" font-size="25"><tspan x="0" y="0">ΔR</tspan><tspan x="36.0" y="8.1" font-size="17.5">xx</tspan><tspan x="59.5" y="0">−</tspan><tspan x="78.8" y="0">ΔR</tspan><tspan x="115.9" y="12.8" font-size="17.5">xx</tspan><tspan x="116.5" y="-18.7" font-size="17.5">LH</tspan><tspan x="143.0" y="0">(Ω)</tspan></text>
<clipPath id="c8"><rect x="1483.70" y="514.55" width="310.60" height="303.25"/></clipPath>
<g clip-path="url(#c8)">
<path d="M1483.7,773.9l2.5,.2 2.5,.5 2.5,.9 2.4,1.2 4.2,2.6 9.9,7.4 2.5,1.5 2.5,1.3 2.5,.8 2.5,.5 2.4,.1 3.4-.4 4.1-1.1 15.7-5 4.2-1.5 3.3-1.5 3.3-2 3.3-2.3 10.8-9.1 5-3.7 4.9-2.8 8.3-2.9 2.5-1.1 2.5-1.7 2.5-2.5 1.6-2.2 1.7-2.8 1.6-3.5 1.7-4 3.3-10 3.3-12.3 2.5-10.5 3.3-15.3 14.1-69.7 4.1-18.1 4.2-15.3 2.5-7.7 1.6-4.4 1.7-3.7 1.6-3.1 1.7-2.4 1.6-1.8 1.7-1 1.7-.4 1.6,.3 .8,.5 1.7,1.3 2.5,3.4 2.5,4.8 1.6,4.1 2.5,7.1 2.5,8.5 2.5,9.6 4.1,18.2 5,24.8 16.6,92.1 5.7,30.5 3.4,15.9 3.3,14.4 1.6,6.1 .9,2.5 .8,1.6 .8,.4 .8-1.1 1.7-4 5-13.8 2.5-5.8 1.6-3.4 3.3-5.4 1.7-2 2.5-2.3 2.5-1.3 2.4-.4 2.5,.4 2.5,1.3 2.5,2 3.3,3.6 8.3,11.6 3.3,4 1.7,1.3 .8,.4 1.6,.3 .9-.2 .8-.4 1.7-1.3 1.6-1.9 1.7-2.5 3.3-5.8 8.3-15.7 3.3-5.7 2.5-3.7 2.4-3.2 2.5-2.7 2.5-2.1 2.5-1.5" stroke="#2331d6" stroke-width="1.9" fill="none" stroke-linejoin="round"/>
<path d="M1483.7,609.5l.8,0 1.7,.8 1.6,1.4 1.7,2.2 2.5,4.5 3.3,8.2 2.5,7.5 2.5,8.5 9.9,38.3 3.3,11.7 3.3,9.7 1.7,3.9 1.6,3.1 1.7,2.4 1.7,1.7 1.6,1 1.7,.5 2.5-.2 5.8-2.1 2.4-.5 2.5,.1 1.7,.6 2.5,1.7 2.4,2.9 1.7,2.6 2.5,4.9 1.6,4 2.5,6.9 4.2,13.8 4.9,19.7 9.2,39.8 .8,3.1 .8,1.9 .8-1.1 .9-2.9 7.4-29.4 2.5-8.7 3.3-10.6 5-13.9 11.6-28.7 3.3-9.4 3.3-10.7 3.3-11.9 3.3-13.2 13.3-56.4 3.3-12.5 2.5-8.3 3.3-9.4 1.7-3.8 1.6-3.2 1.7-2.6 1.6-1.8 1.7-1.2 1.6-.5 1.7,.2 .8,.4 1.7,1.3 1.6,2.1 2.5,4.3 1.7,3.8 2.5,6.8 4.1,14.4 4.1,17.6 4.2,20.1 14.9,80.4 5.8,28.7 3.3,14.1 2.5,8.8 2.5,6.9 1.6,3.2 .9,1.2 1.6,1.4 .8,.3 1.7-.3 .8-.4 1.7-1.3 6.6-7.2 3.3-2.9 2.5-1.5 1.7-.6 1.6-.4 2.5-.1 2.5,.5 2.5,1.1 2.5,1.5 3.3,2.6 5.8,6 9.9,11.9 4.2,4.5 3.3,3 1.6,1 1.7,.7 2.5,.4 1.6-.3 1.7-.6 3.3-1.7 9.1-5.5 5.8-2.8" stroke="#3a76e2" stroke-width="1.9" fill="none" stroke-linejoin="round"/>
<path d="M1483.7,676.9l2.5,.5 1.6,.9 1.7,1.4 2.5,2.8 3.3,5.1 2.5,4.7 2.5,5.2 11.6,26.7 3.3,6.5 3.3,5.3 2.5,3 3.3,3 3.3,2 6.6,2.9 2.5,1.3 3.3,2.3 3.3,3.3 3.3,4.3 4.2,6.7 3.3,6.3 7.5,15.2 3.3,5.7 2.5,2.9 1.6,1.1 1.7,.2 1.6-.5 2.5-2.1 2.5-2.9 14.9-20.7 2.5-3.8 2.5-4.4 2.5-4.9 2.4-5.7 2.5-6.5 2.5-7.4 5-17.1 5-19.5 14-58.8 4.2-15.4 4.1-13.5 2.5-7 2.5-6 2.5-5 1.6-2.7 2.5-3.1 2.5-2 1.7-.6 .8,0 1.6,.2 1.7,.8 1.6,1.3 1.7,1.9 2.5,3.9 1.6,3.3 2.5,5.8 4.2,12.2 4.1,14.9 4.2,17.1 13.2,61.3 5,21.1 2.5,9 2.4,7.5 2.5,5.7 1.7,2.6 .8,1 1.7,1.3 1.6,.5 1.7-.3 1.6-.9 1.7-1.4 8.3-9 2.5-2.3 1.6-1.2 2.5-1.4 2.5-.7 2.5,0 2.5,.7 1.6,.9 1.7,1.1 3.3,3.1 3.3,4.1 3.3,4.9 3.3,5.7 3.3,6.3 14.1,28.8 2.5,4.2 1.7,2.1 .8,.8 1.6,.9 .9,0 .8-.2 1.7-1.2 1.6-1.9 1.7-2.3 6.6-11" stroke="#4ba6e6" stroke-width="1.9" fill="none" stroke-linejoin="round"/>
<path d="M1483.7,641.7l.8,.1 1.7,.7 .8,.6 1.7,1.6 2.5,3.7 3.3,7 2.5,6.5 2.4,7.5 8.3,28 3.3,10.6 3.3,8.9 2.5,5.1 1.7,2.5 1.6,1.7 1.7,1 1.7,.2 1.6-.3 1.7-.7 2.5-1.8 5.8-4.9 2.4-1.5 1.7-.6 2.5-.2 2.5,.8 2.4,1.8 1.7,1.8 1.7,2.3 2.4,4.3 1.7,3.4 2.5,5.9 5,13.8 8.2,26.1 2.5,7.3 1.7,4.3 1.6,3.5 1.7,2.4 .8,.7 .9,.4 .8-.1 .8-.4 .8-.7 1.7-2.3 1.6-2.9 18.3-39.9 4.1-9.5 5-12.4 4.1-11.5 12.4-37.7 4.2-12 3.3-8.8 3.3-7.6 3.3-6.4 3.3-4.8 1.7-1.7 1.7-1.4 1.6-.8 1.7-.4 1.6,.1 2.5,1 1.7,1.3 2.4,2.8 1.7,2.4 2.5,4.5 4.1,9.4 4.2,11.7 4.1,13.5 4.2,14.8 10.7,40.2 5,16.8 2.5,7.3 2.5,6.4 2.4,5 2.5,3.7 1.7,1.5 1.6,.9 1.7,.2 1.7-.3 1.6-.7 2.5-1.7 6.6-5.8 3.3-2.6 2.5-1.6 2.5-1.3 3.3-1 3.3-.2 3.3,.6 2.5,.9 2.5,1.5 3.3,2.6 3.3,3.5 3.4,4.1 3.3,4.9 3.3,5.5 10.7,19.7 1.7,2.5 .8,.9 .9,.6 .8,.2 .8-.2 .8-.6 1.7-2.1 7.5-12.5 4.1-6.2" stroke="#5fdcec" stroke-width="1.9" fill="none" stroke-linejoin="round"/>
<path d="M1483.7,722.6l1.7,.2 2.4,.7 1.7,.8 2.5,1.6 4.1,3.7 6.7,7 3.3,3.3 3.3,2.5 3.3,1.7 2.5,.5 3.3-.2 3.3-1 7.5-2.9 3.3-.7 2.5,.1 1.6,.4 2.5,1.1 1.7,1.1 2.4,2.3 2.5,3.1 2.5,3.8 2.5,4.5 4.1,8.8 8.3,19.8 3.3,6.9 1.7,2.6 1.6,1.7 .9,.4 .8,.1 .8-.2 1.7-1.2 2.5-3.3 2.5-4.5 6.6-12.9 4.1-7.4 4.2-6.5 11.6-16.6 3.3-5.5 2.5-4.7 3.3-6.9 4.1-10 11.6-31.4 4.1-10.7 3.4-7.7 3.3-6.6 2.5-4.1 1.6-2.2 1.7-1.9 1.6-1.5 1.7-1.1 1.6-.6 1.7-.2 1.7,.3 1.6,.7 1.7,1.1 1.6,1.6 2.5,3.2 1.7,2.6 2.4,4.7 4.2,9.6 4.1,11.6 4.2,13.1 14.1,49.3 4.9,16.2 2.5,7.1 2.5,6.1 2.5,5 2.5,3.6 1.6,1.4 1.7,.8 1.6,.1 1.7-.5 2.5-1.4 9.1-7.7 4.1-2.7 2.5-1.2 2.5-.7 2.5-.3 2.5,.1 2.4,.5 3.4,1.3 3.3,1.9 3.3,2.4 3.3,2.8 3.3,3.2 12.4,13.2 3.3,2.8 2.5,1.5 1.7,.5 1.6,.2 1.7-.2 1.7-.6 1.6-.8 2.5-1.8 5.8-5.2" stroke="#62e6c4" stroke-width="1.9" fill="none" stroke-linejoin="round"/>
<path d="M1483.7,680.7l2.5,.4 2.5,1.2 2.5,2 2.4,2.6 2.5,3.3 2.5,3.8 9.1,15.5 3.3,5.2 2.5,3.3 1.7,1.9 3.3,2.8 1.6,1 1.7,.6 1.7,.4 1.6,.1 3.3-.3 8.3-1.9 2.5-.2 1.7,0 2.4,.5 2.5,1.1 2.5,1.5 1.7,1.4 1.6,1.6 2.5,3 4.1,5.9 4.2,7.1 9.1,16.7 4.1,6.3 2.5,2.9 2.5,1.9 1.7,.7 2.4,.2 1.7-.4 2.5-1.5 1.6-1.4 2.5-2.6 5-6.7 6.6-10.7 5-9.1 5.8-11.7 17.4-38.4 4.1-8 3.3-5.5 2.5-3.3 1.7-1.9 1.6-1.6 1.7-1.2 1.7-.8 1.6-.5 1.7-.1 1.6,.3 1.7,.7 1.6,1.1 1.7,1.4 2.5,2.9 3.3,5.2 4.1,8.2 3.3,8 4.2,11.2 14.1,42.9 5.8,16.2 2.4,6 2.5,5.1 2.5,4.1 2.5,2.9 1.7,1.3 1.6,.7 1.7,.3 1.6-.2 3.3-1.2 7.5-4.2 3.3-1.5 4.2-1.1 4.1-.3 2.5,.2 2.5,.5 3.3,1 9.1,3.1 3.3,.8 2.5,.3 2.5,0 3.3-.4 9.1-2.5 3.3-.7 3.3-.2 2.5,.2 3.3,1 2.5,1.4 2.5,1.7 3.3,3" stroke="#6ce68c" stroke-width="1.9" fill="none" stroke-linejoin="round"/>
<path d="M1483.7,697.5l1.7,.2 2.4,.9 2.5,1.6 2.5,2.4 2.5,3 2.5,3.4 9.1,14.7 4.1,6.1 2.5,2.9 1.7,1.5 1.6,1.2 1.7,.8 1.6,.4 1.7,.1 1.7-.3 2.4-.9 3.4-2.1 9.1-6.7 2.5-1.4 2.4-1 1.7-.3 1.6-.1 2.5,.3 2.5,1 2.5,1.6 1.7,1.4 2.4,2.5 2.5,3.2 2.5,3.6 4.2,6.8 8.2,15.1 3.4,5.3 1.6,2.2 1.7,1.9 1.6,1.3 1.7,.9 1.6,.3 .9-.1 1.6-.6 2.5-1.9 2.5-2.9 4.1-6.4 8.3-15 4.2-7 4.1-6.1 3.3-4 3.3-3.1 3.3-2.2 3.3-1.3 3.4-.2 3.3,.6 1.6,.7 2.5,1.4 3.3,2.6 4.2,4.3 3.3,4.1 4.1,5.7 17.4,26.8 5,7.1 4.1,5.5 5,5.9 5,5 4.1,3.2 3.3,1.8 3.3,.9 1.7,.1 2.5-.3 4.1-1.3 10-5.1 4.9-1.9 2.5-.5 2.5-.1 2.5,.2 2.5,.6 2.4,1 2.5,1.4 2.5,1.8 3.3,3 2.5,2.7 3.3,4 9.1,12.6 .9,.9 .8,.5 .8-.2 1.7-1.8 6.6-9.3 4.1-5.3 3.4-3.6 2.4-2.3 3.4-2.2 3.3-1.3 1.6-.3 1.7,0 3.3,.7" stroke="#e2c42e" stroke-width="1.9" fill="none" stroke-linejoin="round"/>
<path d="M1483.7,798l9.9,0 3.4-.3 2.4-.6 2.5-1 2.5-1.5 2.5-2.1 2.5-2.7 2.5-3.3 2.4-3.8 5-9.2 5-10.7 13.2-30.5 4.2-8.5 3.3-6 4.1-6.2 3.3-3.7 2.5-2 1.7-.9 1.6-.6 1.7-.2 2.5,.4 1.6,.6 1.7,1 2.5,2.2 1.6,1.9 2.5,3.4 4.2,7.2 4.1,8.9 4.1,10.3 5,13.7 9.1,26.3 4.2,10.9 3.3,7.1 1.6,2.5 1.7,1.4 .8,.3 .9-.1 .8-.4 .8-.7 1.7-1.8 10.7-17.1 3.3-4.4 3.4-3.7 3.3-2.9 3.3-2 3.3-1.3 3.3-.4 3.3,.4 1.7,.4 2.5,1 4.1,2.5 4.1,3.5 4.2,4.3 4.1,5 11.6,15.9 3.3,4.2 2.5,2.4 1.7,1 .8,.3 .8,0 1.7-.4 2.5-1.6 10.7-11.2 3.4-3 2.4-1.9 2.5-1.5 2.5-1.2 2.5-.8 2.5-.5 4.1,0 4.2,.9 4.1,1.6 7.5,3.5 3.3,1.4 3.3,1 3.3,.3 2.5-.2 3.3-.7 3.3-1.2 7.5-3.1 4.1-1.3 4.1-.7 4.2,.1 3.3,.7 4.1,1.7 3.4,1.9 4.1,3.1" stroke="#e6922c" stroke-width="1.9" fill="none" stroke-linejoin="round"/>
<path d="M1483.7,803.1l1.7-.1 2.4-.5 2.5-.9 2.5-1.2 5-3.1 12.4-9 3.3-2.1 3.3-1.7 3.3-1.4 2.5-.6 2.5-.4 2.5,0 3.3,.5 2.5,.9 2.5,1.3 2.5,1.7 2.5,2.1 3.3,3.3 3.3,3.9 5.8,7.4 2.5,2.7 1.6,1.2 .8,.3 1.7,0 .8-.3 1.7-1.4 2.5-3.1 10.7-17 5-6.8 4.1-4.5 2.5-2.1 1.7-1.1 1.6-1 2.5-.9 2.5-.6 2.5-.1 4.1,.6 7.5,2.1 3.3,.6 3.3,.1 2.5-.3 2.5-.8 3.3-1.7 3.3-2.3 6.6-4.9 4.2-2.6 3.3-1.4 3.3-.5 2.5,.1 1.7,.4 3.3,1.6 1.6,1.2 2.5,2.3 4.1,4.9 3.4,4.9 4.1,7.2 14.1,27.4 2.5,3.8 .8,.9 .8,.4 .9,.1 .8-.4 .8-.7 7.5-9.5 4.1-4.3 2.5-1.9 1.6-1 2.5-1 1.7-.3 2.5-.1 3.3,.7 2.5,1.1 3.3,2.2 3.3,2.9 3.3,3.5 9.1,11.2 .8,.8 .9,.2 .8-.4 .8-.8 9.1-11.5 5.8-6.2 3.4-2.8 2.4-1.7 3.4-1.8 2.4-.9 2.5-.5 3.3-.1 2.5,.3 3.3,.9 2.5,1.1 3.3,1.7 10.8,7" stroke="#e66228" stroke-width="1.9" fill="none" stroke-linejoin="round"/>
<path d="M1483.7,811.2l4.1-.5 10-2.6 2.5-.3 2.5,0 2.4,.3 3.3,.8 2.5,1 5,2.5 1.7,.6 1.6,.2 1.7-.5 2.5-1.8 3.3-3.6 14.1-18.7 3.3-3.9 3.3-3.5 3.3-2.8 3.3-2 3.3-1.2 3.3-.4 2.5,.4 3.3,1.2 3.3,2.1 3.4,2.8 3.3,3.6 3.3,4.1 9.9,13.8 3.3,4.4 2.5,2.5 1.7,1.2 .8,.3 1.7,0 1.6-.6 10-7.2 3.3-1.8 3.3-1.2 3.3-.6 3.3-.1 11.6,1.3 2.5,0 2.5-.2 4.9-1.1 11.6-4.4 3.3-1 2.5-.5 2.5-.2 2.5,.1 2.5,.3 2.5,.6 4.9,1.8 11.6,5.9 3.4,1 2.4,.3 2.5-.2 3.3-1 3.3-1.4 8.3-4.3 4.2-1.7 4.1-1 4.2-.4 2.4,.2 3.4,.6 2.4,.8 3.3,1.3 5,2.7 12.4,7.8 3.4,1.7 2.4,.8 2.5,.5 3.3,.1 10.8-1.7 3.3-.2 2.5,.1 3.3,.5 2.5,.6 2.5,.9 3.3,1.4" stroke="#e4321c" stroke-width="1.9" fill="none" stroke-linejoin="round"/>
<circle cx="1649.35" cy="565.09" r="4.2" fill="#2331d6"/>
<circle cx="1651.84" cy="573.89" r="4.2" fill="#3a76e2"/>
<circle cx="1655.98" cy="586.55" r="4.2" fill="#4ba6e6"/>
<circle cx="1653.49" cy="634.89" r="4.2" fill="#5fdcec"/>
<circle cx="1653.49" cy="648.83" r="4.2" fill="#62e6c4"/>
<circle cx="1651.84" cy="667.83" r="4.2" fill="#6ce68c"/>
<circle cx="1631.13" cy="720.44" r="4.2" fill="#e2c42e"/>
</g>
<path d="M1504.41,817.80v-4.30M1504.41,514.55v4.30M1525.11,817.80v-4.30M1525.11,514.55v4.30M1545.82,817.80v-4.30M1545.82,514.55v4.30M1566.53,817.80v-4.30M1566.53,514.55v4.30M1607.94,817.80v-4.30M1607.94,514.55v4.30M1628.65,817.80v-4.30M1628.65,514.55v4.30M1649.35,817.80v-4.30M1649.35,514.55v4.30M1670.06,817.80v-4.30M1670.06,514.55v4.30M1711.47,817.80v-4.30M1711.47,514.55v4.30M1732.18,817.80v-4.30M1732.18,514.55v4.30M1752.89,817.80v-4.30M1752.89,514.55v4.30M1773.59,817.80v-4.30M1773.59,514.55v4.30M1587.23,817.80v-9.00M1587.23,514.55v9.00M1690.77,817.80v-9.00M1690.77,514.55v9.00M1483.70,805.16h4.30M1794.30,805.16h-4.30M1483.70,792.53h4.30M1794.30,792.53h-4.30M1483.70,779.89h4.30M1794.30,779.89h-4.30M1483.70,767.26h4.30M1794.30,767.26h-4.30M1483.70,741.99h4.30M1794.30,741.99h-4.30M1483.70,729.35h4.30M1794.30,729.35h-4.30M1483.70,716.72h4.30M1794.30,716.72h-4.30M1483.70,704.08h4.30M1794.30,704.08h-4.30M1483.70,678.81h4.30M1794.30,678.81h-4.30M1483.70,666.17h4.30M1794.30,666.17h-4.30M1483.70,653.54h4.30M1794.30,653.54h-4.30M1483.70,640.90h4.30M1794.30,640.90h-4.30M1483.70,615.63h4.30M1794.30,615.63h-4.30M1483.70,603.00h4.30M1794.30,603.00h-4.30M1483.70,590.36h4.30M1794.30,590.36h-4.30M1483.70,577.73h4.30M1794.30,577.73h-4.30M1483.70,552.46h4.30M1794.30,552.46h-4.30M1483.70,539.82h4.30M1794.30,539.82h-4.30M1483.70,527.19h4.30M1794.30,527.19h-4.30M1483.70,754.62h9.00M1794.30,754.62h-9.00M1483.70,691.45h9.00M1794.30,691.45h-9.00M1483.70,628.27h9.00M1794.30,628.27h-9.00M1483.70,565.09h9.00M1794.30,565.09h-9.00" stroke="#000" stroke-width="1.90" fill="none" stroke-linecap="round"/>
<rect x="1483.70" y="514.55" width="310.60" height="303.25" fill="none" stroke="#000" stroke-width="2.00"/>
<text x="1483.70" y="847.80" font-size="25.00" text-anchor="middle" font-weight="normal" letter-spacing="0.35">0</text>
<text x="1587.23" y="847.80" font-size="25.00" text-anchor="middle" font-weight="normal" letter-spacing="0.35">500</text>
<text x="1690.77" y="847.80" font-size="25.00" text-anchor="middle" font-weight="normal" letter-spacing="0.35">1000</text>
<text x="1794.30" y="847.80" font-size="25.00" text-anchor="middle" font-weight="normal" letter-spacing="0.35">1500</text>
<text x="1469.10" y="824.90" font-size="25.00" text-anchor="end" font-weight="normal" letter-spacing="0.35">0.00</text>
<text x="1469.10" y="761.72" font-size="25.00" text-anchor="end" font-weight="normal" letter-spacing="0.35">0.25</text>
<text x="1469.10" y="698.55" font-size="25.00" text-anchor="end" font-weight="normal" letter-spacing="0.35">0.50</text>
<text x="1469.10" y="635.37" font-size="25.00" text-anchor="end" font-weight="normal" letter-spacing="0.35">0.75</text>
<text x="1469.10" y="572.19" font-size="25.00" text-anchor="end" font-weight="normal" letter-spacing="0.35">1.00</text>
<text x="1639.00" y="889.60" font-size="26.00" text-anchor="middle" font-weight="normal">Frequency (T)</text>
<text transform="translate(1399.40,666.17) rotate(-90)" font-size="26.00" text-anchor="middle">FFT amplitude (a.u.)</text>
<text x="1504.30" y="559.50" font-size="19.50" text-anchor="start" font-weight="normal" letter-spacing="0.2">FFT window:</text>
<text font-size="19.5" y="580.60"><tspan x="1504.40">52</tspan><tspan x="1530.00" y="584.40" font-size="25.5">~</tspan><tspan x="1548.00" y="580.60">72</tspan><tspan x="1572.90">T</tspan></text>
<text x="24.50" y="996.80" font-size="44.00" text-anchor="start" font-weight="bold">c</text>
<text x="276.40" y="996.30" font-size="30.65" text-anchor="start" font-weight="normal">Tukey window with r = 0.4</text>
<rect x="165.52" y="1050.85" width="272.61" height="303.25" fill="#f7f8f0"/>
<text x="419.00" y="1096.90" font-size="18.30" text-anchor="end" font-weight="normal">15.0 K</text>
<text x="419.00" y="1290.60" font-size="18.30" text-anchor="end" font-weight="normal">1.8 K</text>
<clipPath id="c9"><rect x="127.10" y="1050.85" width="310.80" height="303.25"/></clipPath>
<g clip-path="url(#c9)">
<path d="M165.5,1271.9l.8,1.3 1.2,3 4.3,15.2 1.9,5.1 .8,1.2 1.2,1.1 1.1,.3 2-.1 1.2,.2 1.1,.7 .8,.9 2,3.6 3.5,9.3 1.5,3.6 1.6,2.4 .8,.6 .7,.2 .8,0 .8-.4 3.5-2.8 1.2-.6 .8-.2 .7,.1 1.2,.3 2.7,1.6 1.2,.4 .8,.1 .8-.2 1.1-.8 2-2.7 4.7-9.7 1.9-3.1 2-2 3.9-2.1 1.5-1.3 2-2.4 3.9-6.5 1.5-2.2 2-1.8 .8-.4 1.1-.3 1.2,.1 4.7,1 5.5-.4 1.5,.4 1.2,.5 2.7,2.3 7.4,7.8 12.9,11.7 2.3,1.7 2,1 2.3,.7 2.4,.4 2.7,0 2.7-.3 2.4-.6 2.3-.9 3.9-2.4 10.5-8 6.7-4.4 3.5-1.9 2.7-1.1 2.7-.8 2.4-.3 2.7,.1 2.7,.4 2.8,.6 2.7,.9 3.5,1.6 9,5.5 6.2,3.2 5.9,2.3 2.7,.7 2.3,.4 2.8,.1 3.1-.3 3.9-.7 3.9-1 4.3-1.6 8.9-4.2 5.5-2.3 4.7-1.4 4.3-.6 2.7-.1 3.1,.3 9.8,1.7 4.3,1.2 8.5,3.2 4.3,1.3" stroke="#2331d6" stroke-width="3.5" fill="none" stroke-linejoin="round"/>
<path d="M165.5,1251.3l2,4.6 4.3,13.1 1.5,3.5 .8,1.2 1.2,1.1 3.5,1.6 1.2,1 .7,.9 1.2,1.9 1.2,2.4 3.5,8.5 1.5,3.3 1.2,1.8 .8,.8 .8,.6 1.1,.4 1.2-.2 3.1-1.3 1.6-.4 1.9,.3 3.2,1.2 1.1,.3 1.6-.3 1.2-.8 1.1-1.3 1.2-1.8 4.7-8.6 2.3-3.5 1.6-1.6 3.5-2.9 1.9-2 2-2.7 3.9-6.1 1.9-2.5 2-1.5 1.2-.5 1.1-.2 4.7,.1 4.7-.2 1.9,.4 1.6,.7 2.7,2.2 7.1,7.6 13.6,12.9 2.3,1.7 2,1 1.9,.7 2.4,.4 2.3,.1 2.8-.3 2.3-.6 2.3-.9 4.7-2.8 16-11.4 3.1-2 2.8-1.3 2.3-.9 2.3-.5 2.8-.4 2.3,0 2,.2 3.9,1.2 3.1,1.4 10.1,5.4 10.2,5.6 3.5,1.3 3.9,.7 5.8,.1 2.7-.3 2.8-.6 3.1-1 6.6-2.7 6.7-2.4 8.9-3.7 3.1-.8 3.6-.4 7,0 5,.8 3.6,1 8.5,3.4 7.8,2" stroke="#3a76e2" stroke-width="3.5" fill="none" stroke-linejoin="round"/>
<path d="M165.5,1230.3l2,4.2 3.9,9.9 1.5,3.3 1.6,2.4 3.5,3.8 2,2.7 1.9,3.5 4.3,9.1 2.3,3.8 1.6,1.7 1.9,1.1 9.4,1.7 1.6-.1 1.5-.5 1.2-.8 1.6-1.5 1.9-2.7 5.9-9.1 7-8.6 6.2-9.2 2.4-2.8 1.5-1.3 2-1 2.3-.6 3.1-.4 2.8-.2 2.3,.3 1.9,.6 2,1.2 3.5,3.1 13.7,14.7 5.8,5.7 2.3,1.8 2.4,1.2 2.3,.8 2.4,.4 2.7,0 2.3-.3 2.4-.6 2.3-1.1 3.9-2.6 12.1-9.8 5.9-4.2 2.7-1.5 2.7-1.1 3.1-.9 2.8-.3 2.3,0 2.3,.3 2.8,.7 2.7,1 7,3.5 10.6,6.5 3.5,1.9 4.6,1.8 4.7,.8 2.8,.1 2.7-.2 3.1-.6 3.5-1 7-2.6 9.8-4.7 4.7-2 3.5-1.1 3.5-.6 2.7,0 2.7,.3 9,1.7 8.2,2.3 10.5,3.5" stroke="#4ba6e6" stroke-width="3.5" fill="none" stroke-linejoin="round"/>
<path d="M165.5,1210.8l2,3.5 5.4,11.1 1.6,2.5 4.7,6.6 5.8,10.6 2.4,3.7 2.3,2.7 2.3,1.6 3.2,1.2 3.5,.6 2.3,0 2.4-.7 1.9-1.2 2.3-2.1 2.8-3.1 8.2-10.7 8.5-11.6 2-2.3 1.6-1.5 1.9-1.4 2.3-1.2 3.2-1 3.1-.5 2.3,0 2,.5 1.9,1 2.4,1.6 5.4,5.1 10.9,11.7 2.8,2.5 2.7,2.1 2.7,1.7 2.4,1.1 2.3,.7 2.7,.4 2.4,.1 2.3-.3 2.4-.7 2.3-1.1 4.3-2.7 10.9-8.7 6.3-4.3 2.7-1.5 2.7-1.2 2.4-.7 2.7-.4 2.3,0 2.8,.3 2.7,.6 2.3,.8 4.3,2.1 10.9,6.7 5.1,2.7 5.9,2.2 2.7,.7 3.1,.5 4.7,0 4.3-.9 5.4-2 11.7-5.3 4.3-1.7 5.1-1.5 5.1-.6 6.6,0 3.9,.4 3.5,.6 4.3,1.1 14,4.7" stroke="#5fdcec" stroke-width="3.5" fill="none" stroke-linejoin="round"/>
<path d="M165.5,1190.7l7.4,12.7 5.5,8.2 6.2,10.7 2.8,4 2.3,2.7 2.7,2.2 2.8,1.4 2.7,.6 2.3-.1 2-.5 1.9-1 2.4-1.7 2.3-2.3 2.7-3.2 13.7-18 3.9-4.5 2.3-2.1 2.4-1.4 2.7-1 2.7-.5 2.8,.1 2.3,.4 2.3,.9 2.8,1.6 2.7,2 2.7,2.5 12.5,12.5 3.9,3.5 2.4,1.6 2.3,1.3 2.3,.7 2.4,.4 2.3,.1 2.4-.2 2.3-.6 2.3-.9 3.9-2.4 16.4-11.9 3.1-2.1 2.4-1.2 1.9-.7 2.4-.5 2.7-.4 2.7,.1 2.8,.3 2.7,.6 2.7,.9 5.1,2.3 10.1,5.5 6.3,3.1 3.9,1.5 3.9,.8 3.1,.1 3.5-.1 3.1-.4 3.1-.7 4.3-1.5 11.3-4.8 5.5-2.1 4.7-1.3 4.3-.6 5.4,.1 5.5,.9 7.8,2 9,3.1 4.6,1.3" stroke="#62e6c4" stroke-width="3.5" fill="none" stroke-linejoin="round"/>
<path d="M165.5,1168.8l2.4,3.6 5.4,9.7 5.5,8.8 5.1,8.7 3.1,4.7 2.3,2.7 2.7,2.3 2.8,1.4 3.1,.8 2.7-.1 2.4-.9 2.3-1.5 2.7-2.4 6.3-6.9 3.1-4 7-9.8 2.7-3.3 2.4-2.2 2.7-2.1 3.1-1.8 2.8-1.1 2.3-.4 2,0 1.9,.4 2.3,1 2,1.1 3.9,3.1 10.9,10.8 7,6.1 2.8,1.9 2.7,1.4 2.7,1 2.8,.5 2.7,0 2.3-.3 2.4-.7 2.7-1.1 4.3-2.6 9.7-7.4 6.3-3.8 3.9-2 3.1-1.4 2.7-.8 2.4-.3 1.9,0 2.4,.3 2.3,.5 2.3,.8 4.7,2.1 9.8,5.5 7.4,3.5 4.7,1.7 4.6,.8 4.3,.1 4.7-.9 11.3-3.5 9.4-4 3.5-1.3 4.7-1.1 5.8-.7 4.7,0 4.3,.7 5.8,1.7 11.3,3.7 4.3,1.1" stroke="#6ce68c" stroke-width="3.5" fill="none" stroke-linejoin="round"/>
<path d="M165.5,1148.1l3.9,5.8 13.3,22.1 3.9,5.6 3.1,3.5 2.7,2.2 2.8,1.4 2.7,.6 2.3-.1 2-.6 1.9-.9 2.4-1.7 2.3-2.2 2.4-2.6 12.4-15.6 5.1-5.5 2.7-2.3 2.8-1.8 2.7-1.1 2.7-.6 2,0 1.9,.3 2,.7 2.3,1.2 2.4,1.5 2.7,2.2 12.5,11.1 5.4,4.3 2.8,1.7 2.7,1.3 2.7,.9 2.7,.4 2,0 2.3-.2 2.4-.6 2.3-.9 5.9-3.3 12.4-8.3 3.9-2.3 2.8-1.3 2.3-.8 2.4-.5 2.7-.3 2.3,0 2.8,.2 2.7,.6 2.7,.7 3.9,1.6 10.5,5.5 5.1,2.3 6.3,2.1 2.7,.7 2.3,.3 4.7-.1 5.5-1 6.6-2 9.7-3.6 6.3-2.1 4.7-1.1 4.3-.5 3.1-.1 3.1,.2 9.4,1.4 3.5,.8 8.2,2.5 4.6,1.1" stroke="#e2c42e" stroke-width="3.5" fill="none" stroke-linejoin="round"/>
<path d="M165.5,1128.4l4.7,6.4 12.5,19.1 3.5,4.6 2.7,2.7 2.8,2 3.1,1.6 2.7,.6 2-.1 2.3-.6 2.3-1.2 2.4-1.5 3.5-2.9 3.5-3.3 10.9-12.2 3.9-3.7 2.7-2.1 2.8-1.5 2.7-1 2.7-.4 2,0 2.3,.4 2,.7 2.3,1 3.5,2.1 5.9,3.9 9.3,7.4 3.9,2.7 2.4,1.2 2.7,1.1 2.7,.7 2.4,.3 2.3,0 2.7-.3 3.2-.7 3.5-1.1 4.7-2.1 8.5-5.2 5.9-2.9 3.1-1.2 2.7-.8 2.8-.6 2.3-.3 2.3,.1 2.8,.3 8.2,1.9 5.8,1.8 9.8,4 3.5,1.2 3.9,.9 4.3,.6 8.2,0 5-.5 5.1-1.2 9-3.1 4.6-1.2 5.5-.9 7.8-.7 5.1,.2 8.6,1 16.3,3.5" stroke="#e6922c" stroke-width="3.5" fill="none" stroke-linejoin="round"/>
<path d="M165.5,1111.3l4.7,5 12.1,14.2 3.9,4 2.7,2.1 3.1,1.8 2.8,1 2.7,.4 2,0 2.3-.5 1.9-.6 2.4-1.2 2.7-1.7 3.1-2.3 10.6-9 5-3.7 3.5-2 3.2-1.3 2.7-.9 2.7-.4 2,0 1.9,.3 3.9,1.3 3.9,1.8 12.9,7.3 7,3.5 4.7,1.7 4.3,.7 5.1-.2 4.6-.8 5.5-1.8 10.9-4.5 5.9-2.1 5-1.2 5.9-.6 5.8,.1 4.7,.5 3.9,1 16.4,4.8 5.1,1 4.6,.5 5.5-.1 10.1-1.1 6.7-1.1 11.7-2.3 5.4-.8 3.9-.3 5.1,.2 7.4,.9 11.3,1 7.4,.9" stroke="#e66228" stroke-width="3.5" fill="none" stroke-linejoin="round"/>
<path d="M165.5,1092.7l5.5,4.5 10.5,10.4 3.9,3.2 2.7,1.6 2.8,1.1 3.5,1 3.1,.5 2,0 2.3-.4 2.3-.7 2.8-1 6.6-3.4 9.7-6.5 4.7-2.6 2.8-1.3 2.7-1 2.7-.6 2.4-.3 2.3,.1 2.3,.2 5.1,1.4 7.4,2.8 10.9,4.8 3.5,1.2 5.5,1.3 5.5,.6 4.6-.1 4.7-.7 5.5-1.3 11.7-3.6 3.9-1 7-1.3 5.5-.4 4.3,.1 4.2,.4 17.6,3.4 14.8,1.7 3.9-.1 13.7-1.3 14.8-2 7-.5 6.2,0 7.5,.4 20.2,2" stroke="#e4321c" stroke-width="3.5" fill="none" stroke-linejoin="round"/>
<path d="M165.5,1276.8l2.4,3.1 2.3,3.6 11.3,19.9 2.7,4.3 2.4,3.3 2.7,3.2 2.7,2.5 2.8,1.6 2.7,.7 2.3-.1 2.4-.7 2.3-1.2 2.4-1.8 2.3-2.3 2.7-3.1 11.7-15.4 5.1-5.8 2.7-2.4 2.8-1.8 2.7-1.2 2.7-.6 2.4,.1 2.3,.5 2.3,1 2.4,1.4 2.3,1.7 2.8,2.3 11.3,11.3 5,4.4 2.8,1.9 2.7,1.4 2.7,1 2.8,.4 2.3,0 2.3-.3 2.4-.7 2.3-1 2.7-1.5 2.8-1.8 11.3-8.5 5.1-3.3 2.7-1.4 2.7-1 2.7-.8 2.8-.3 2.3,0 2.4,.3 2.3,.5 2.7,.9 5.1,2.3 10.9,6.2 4.7,2.4 5.1,1.9 5,1 2.4,.1 2.7-.1 5.5-1 5.4-1.8 11.3-4.9 5.1-1.9 5.1-1.3 5-.7 5.5,.1 5.9,.9 5,1.4 10.6,3.4 4.6,1.3" stroke="#111" stroke-width="1.8" stroke-dasharray="5.2,2.5" fill="none"/>
<path d="M165.5,1254.3l2.4,3.2 2.3,3.7 11.3,20.4 2.7,4.5 2.4,3.4 2.7,3.3 2.7,2.5 2.8,1.7 2.7,.7 2.3-.1 2.4-.7 2.3-1.3 2.4-1.8 2.3-2.4 2.7-3.1 11.7-15.9 5.1-5.9 2.7-2.5 2.8-1.9 2.7-1.2 2.7-.6 2.4,.1 2.3,.5 2.3,1 2.4,1.4 2.3,1.8 2.8,2.4 11.3,11.6 5,4.5 2.8,2 2.7,1.4 2.7,1 2.8,.5 2.3,0 2.3-.4 2.4-.7 2.3-1 2.7-1.5 2.8-1.8 11.3-8.8 5.1-3.4 2.7-1.4 2.7-1.1 2.7-.8 2.8-.3 2.3,0 2.4,.2 2.3,.6 2.7,.9 5.1,2.4 10.9,6.4 4.7,2.4 5.1,2 2.7,.6 2.3,.4 2.4,.1 2.7-.1 2.7-.4 2.8-.6 5.4-1.9 11.3-5 5.1-1.9 5.1-1.4 5-.8 5.5,.1 5.9,1 5,1.4 10.6,3.5 4.6,1.4" stroke="#111" stroke-width="1.8" stroke-dasharray="5.2,2.5" fill="none"/>
<path d="M165.5,1231.2l2.4,3.5 2.3,3.9 11.3,21.7 2.7,4.7 2.4,3.6 2.7,3.5 2.7,2.7 2.8,1.8 2.7,.8 2.3-.1 2.4-.8 2.3-1.4 2.4-1.9 2.3-2.5 2.7-3.4 11.7-16.8 5.1-6.3 2.7-2.6 2.8-2 2.7-1.3 2.7-.6 2.4,0 2.3,.6 2.3,1.1 2.4,1.5 2.3,1.8 2.8,2.6 11.3,12.3 5,4.8 2.8,2.1 2.7,1.5 2.7,1.1 2.8,.5 2.3,0 2.3-.4 2.4-.8 2.3-1 2.7-1.7 2.8-1.9 11.3-9.3 5.1-3.6 2.7-1.5 2.7-1.2 2.7-.8 2.8-.4 2.3,0 2.4,.3 2.3,.6 2.7,1 5.1,2.5 10.9,6.8 4.7,2.6 5.1,2 2.7,.8 2.3,.3 2.4,.2 2.7-.1 2.7-.5 2.8-.6 5.4-2 11.3-5.3 5.1-2.1 5.1-1.5 5-.7 5.5,.1 5.9,1 5,1.5 10.6,3.7 4.6,1.5" stroke="#111" stroke-width="1.8" stroke-dasharray="5.2,2.5" fill="none"/>
<path d="M165.5,1210.6l2.4,3.3 2.3,3.8 11.3,20.8 2.7,4.6 2.4,3.4 2.7,3.4 2.7,2.6 2.8,1.7 2.7,.8 2.3-.1 2.4-.7 2.3-1.4 2.4-1.9 2.3-2.3 2.7-3.3 11.7-16.2 5.1-6.1 2.7-2.5 2.8-1.9 2.7-1.3 2.7-.5 2.4,0 2.3,.6 2.3,1 2.4,1.4 2.3,1.8 2.8,2.5 11.3,11.9 5,4.6 2.8,1.9 2.7,1.5 2.7,1.1 2.8,.5 2.3,0 2.3-.4 2.4-.7 2.3-1.1 2.7-1.5 2.8-1.9 11.3-8.9 5.1-3.5 2.7-1.5 2.7-1.1 2.7-.8 2.8-.3 2.3,0 2.4,.2 2.3,.6 2.7,.9 5.1,2.5 10.9,6.5 4.7,2.5 5.1,2 2.7,.7 2.3,.3 2.4,.1 2.7-.1 2.7-.4 2.8-.6 5.4-1.9 11.3-5.1 5.1-2 5.1-1.5 5-.7 5.5,.1 5.9,1 5,1.4 10.6,3.6 4.6,1.4" stroke="#111" stroke-width="1.8" stroke-dasharray="5.2,2.5" fill="none"/>
<path d="M165.5,1189.8l2.4,3.2 2.3,3.7 11.3,20.1 2.7,4.4 2.4,3.3 2.7,3.3 2.7,2.4 2.8,1.7 2.7,.7 2.3-.1 2.4-.7 2.3-1.2 2.4-1.9 2.3-2.3 2.7-3.1 11.7-15.6 5.1-5.8 2.7-2.5 2.8-1.8 2.7-1.3 2.7-.5 2.4,.1 2.3,.5 2.3,1 2.4,1.4 2.3,1.7 2.8,2.4 11.3,11.4 5,4.4 2.8,1.9 2.7,1.5 2.7,1 2.8,.5 2.3,0 2.3-.4 2.4-.7 2.3-1 2.7-1.5 2.8-1.8 11.3-8.6 5.1-3.4 2.7-1.4 2.7-1.1 2.7-.7 2.8-.4 2.3,0 2.4,.3 2.3,.6 2.7,.9 5.1,2.3 10.9,6.3 4.7,2.4 5.1,1.9 5,1 2.4,.1 2.7-.1 2.7-.4 2.8-.6 5.4-1.8 11.3-4.9 5.1-2 5.1-1.3 5-.7 5.5,0 5.9,1 5,1.4 10.6,3.4 4.6,1.4" stroke="#111" stroke-width="1.8" stroke-dasharray="5.2,2.5" fill="none"/>
<path d="M165.5,1168l2.4,3.2 2.3,3.7 10.9,19.6 2.8,4.4 2.3,3.4 3.1,3.8 2.7,2.5 2.8,1.6 2.7,.7 2.3,0 2.4-.8 2.3-1.3 2.4-1.8 2.3-2.3 2.7-3.1 11.3-15.1 5.1-5.8 3.1-2.8 2.8-1.8 2.7-1.2 2.7-.6 2.4,.1 2.3,.6 2.3,.9 2.4,1.4 2.3,1.7 2.8,2.4 11.3,11.2 5,4.3 2.8,1.9 2.7,1.4 2.7,.9 2.4,.5 2.3,0 2.3-.3 2.4-.6 2.7-1.1 5.5-3.3 11.3-8.3 5.1-3.3 2.7-1.3 2.7-1.1 2.7-.7 2.8-.3 2.3,0 2.4,.3 2.3,.5 2.7,.9 5.1,2.3 10.9,6 4.7,2.3 5.1,1.8 5,.9 5.1,0 5.5-.9 5.4-1.8 11.3-4.6 5.1-1.8 5.1-1.4 5-.6 5.5,.1 5.9,.9 4.6,1.2 15.6,4.6" stroke="#111" stroke-width="1.8" stroke-dasharray="5.2,2.5" fill="none"/>
<path d="M165.5,1147.1l2.4,3.2 2.3,3.6 10.9,18.8 2.8,4.3 2.3,3.3 3.1,3.6 2.7,2.4 2.8,1.5 2.7,.7 2-.1 2.3-.6 2.3-1.2 2.4-1.6 2.7-2.6 2.7-2.9 11.3-14.3 5.1-5.5 3.1-2.7 2.8-1.7 2.7-1.1 2.7-.5 2,.1 2.3,.4 2.4,.9 2.3,1.2 2.7,1.9 2.8,2.2 10.9,10.1 5,4.1 2.8,1.8 2.7,1.3 2.7,.9 2.8,.5 2.3,0 2.3-.2 2.4-.6 2.7-1.1 5.5-2.9 10.9-7.4 5.1-3 2.7-1.3 2.7-1 2.8-.7 2.7-.3 4.7,.2 5,1.2 5.5,2.2 10.9,5.4 4.7,2 5.1,1.6 5,.9 5.1,0 5.5-.9 5.4-1.6 11.3-4.1 4.7-1.4 5.5-1.3 5-.6 5.5,.1 5.9,.8 20.2,5.1" stroke="#111" stroke-width="1.8" stroke-dasharray="5.2,2.5" fill="none"/>
<path d="M165.5,1127.7l4.3,5.6 10.9,16.9 2.8,3.8 2.7,3.4 3.1,3.2 2.7,2.1 2.8,1.3 2.7,.6 2-.1 2.3-.5 2.3-1.1 2.4-1.5 2.3-1.9 2.7-2.6 11.4-12.4 5.4-5.2 2.7-2.1 2.8-1.5 2.7-1 2.7-.5 2.4,.1 2.3,.4 2.4,.7 2.3,1.1 5.1,3.2 11.3,8.9 5,3.5 2.8,1.5 2.7,1.1 2.7,.8 2.8,.4 2.3,0 2.3-.3 4.7-1.2 5.5-2.5 11.3-6.3 5.1-2.5 5.4-1.9 2.8-.5 2.7-.3 4.7,.2 5,1 5.1,1.7 10.9,4.4 5.1,1.8 5.1,1.3 5,.6 5.1,0 5.5-.7 5.4-1.3 10.9-3.1 5.1-1.3 5.1-.9 5.1-.5 5.4,.1 5.9,.6 20.6,3.9" stroke="#111" stroke-width="1.8" stroke-dasharray="5.2,2.5" fill="none"/>
<path d="M165.5,1110.3l5.1,5.3 10.9,13.3 4.7,4.8 3.1,2.4 2.7,1.6 2.8,1 2.7,.4 2,0 2.3-.5 2.3-.8 2.4-1.2 5-3.5 11.4-9.5 5-3.7 3.1-1.8 2.8-1.1 2.7-.8 2.7-.3 4.3,.3 4.7,1.3 5.1,2.4 11.7,6.8 5,2.6 5.5,1.9 2.7,.6 2.8,.3 4.6-.2 4.7-1 5.5-1.8 10.9-4.5 5.1-1.8 5.4-1.4 5.5-.6 4.7,.1 5,.7 5.5,1.2 15.6,4.4 5.1,.9 5,.5 5.1,0 5.5-.5 5.4-.8 16-3.1 5.5-.7 5.1-.3 5.4,0 5.9,.4 20.6,2.7" stroke="#111" stroke-width="1.8" stroke-dasharray="5.2,2.5" fill="none"/>
<path d="M165.5,1092l5.1,4.2 10.5,10.1 4.7,3.7 3.1,2 2.8,1.3 2.7,.8 2.7,.4 2,0 2.3-.3 2.3-.6 2.4-.9 5.1-2.6 11.3-7.3 5-2.9 3.2-1.4 2.7-.9 2.7-.6 2.7-.3 4.7,.2 4.7,1 5.1,1.8 11.3,5 5.1,2 5.4,1.4 5.5,.7 4.7-.1 4.6-.7 5.5-1.3 11.3-3.4 5.1-1.3 5.4-1 5.5-.4 4.7,.1 5,.5 5.1,.8 16,3.1 5.1,.7 5,.4 5.1,0 5.5-.4 21-2.7 10.6-.7 5.4,0 5.9,.3 21,1.8" stroke="#111" stroke-width="1.8" stroke-dasharray="5.2,2.5" fill="none"/>
<path d="M165.5,1299.9l1.4-.3 .7-.4 1.3-1.3 1.4-2 2.1-4.2 1.3-3.6 2.1-6.5 2-7.7 2.1-8.9 2.7-13.4 3.4-18.8 11-66.9 4.1-23.9 3.4-17.9 3.4-15.2 3.4-12.1 2.7-7 2.1-3.6 1.3-1.6 1.4-1 1.4-.3 163.3,0 1.3,.3 1.4,1 1.4,1.6 1.3,2.2 1.4,2.9 2.1,5.5 2.7,9.4 3.4,14.6 2.7,13.8 3.5,19.1 10.2,62.9 4.1,23.9 3.4,18 3.4,15.4 3.5,12.2 2.7,7.1 2,3.7 1.4,1.7 1.4,1 1.3,.3" stroke="#000" stroke-width="4.6" fill="none" stroke-linejoin="round" stroke-linecap="round"/>
</g>
<path d="M139.04,1354.10v-4.30M139.04,1050.85v4.30M167.08,1354.10v-4.30M167.08,1050.85v4.30M195.12,1354.10v-4.30M195.12,1050.85v4.30M223.16,1354.10v-4.30M223.16,1050.85v4.30M279.24,1354.10v-4.30M279.24,1050.85v4.30M307.28,1354.10v-4.30M307.28,1050.85v4.30M335.32,1354.10v-4.30M335.32,1050.85v4.30M363.36,1354.10v-4.30M363.36,1050.85v4.30M419.44,1354.10v-4.30M419.44,1050.85v4.30M251.20,1354.10v-9.00M251.20,1050.85v9.00M391.40,1354.10v-9.00M391.40,1050.85v9.00M127.10,1343.27h4.30M437.90,1343.27h-4.30M127.10,1321.61h4.30M437.90,1321.61h-4.30M127.10,1278.29h4.30M437.90,1278.29h-4.30M127.10,1256.63h4.30M437.90,1256.63h-4.30M127.10,1234.97h4.30M437.90,1234.97h-4.30M127.10,1213.31h4.30M437.90,1213.31h-4.30M127.10,1169.98h4.30M437.90,1169.98h-4.30M127.10,1148.32h4.30M437.90,1148.32h-4.30M127.10,1126.66h4.30M437.90,1126.66h-4.30M127.10,1105.00h4.30M437.90,1105.00h-4.30M127.10,1061.68h4.30M437.90,1061.68h-4.30M127.10,1299.95h9.00M437.90,1299.95h-9.00M127.10,1191.64h9.00M437.90,1191.64h-9.00M127.10,1083.34h9.00M437.90,1083.34h-9.00" stroke="#000" stroke-width="1.90" fill="none" stroke-linecap="round"/>
<rect x="127.10" y="1050.85" width="310.80" height="303.25" fill="none" stroke="#000" stroke-width="2.00"/>
<text x="251.20" y="1384.10" font-size="25.00" text-anchor="middle" font-weight="normal" letter-spacing="0.35">0.02</text>
<text x="391.40" y="1384.10" font-size="25.00" text-anchor="middle" font-weight="normal" letter-spacing="0.35">0.03</text>
<text x="113.00" y="1306.55" font-size="25.00" text-anchor="end" font-weight="normal" letter-spacing="0.35">0</text>
<text x="113.00" y="1198.24" font-size="25.00" text-anchor="end" font-weight="normal" letter-spacing="0.35">50</text>
<text x="113.00" y="1089.94" font-size="25.00" text-anchor="end" font-weight="normal" letter-spacing="0.35">100</text>
<text x="300.50" y="1333.80" font-size="17.50" text-anchor="middle" font-weight="bold">FFT window</text>
<path d="M165.82,1339.00H435.60 M165.82,1339.00l12.3,-5.4 M165.82,1339.00l12.3,5.4 M435.60,1339.00l-12.3,-5.4 M435.60,1339.00l-12.3,5.4" stroke="#000" stroke-width="2.6" fill="none" stroke-linecap="round" stroke-linejoin="round"/>
<text font-size="25"><tspan x="233.00" y="1437.90">B</tspan><tspan x="251.00" y="1419.80" font-size="16.5">−1</tspan><tspan x="275.80" y="1437.90">(T</tspan><tspan x="301.30" y="1419.80" font-size="16.5">−1</tspan><tspan x="323.50" y="1437.90">)</tspan></text>
<text transform="translate(40.90,1252.00) rotate(-90)" font-size="25"><tspan x="0" y="0">ΔR</tspan><tspan x="36.3" y="8" font-size="17.5">xx</tspan><tspan x="60.4" y="0">(Ω)</tspan></text>
<clipPath id="c10"><rect x="553.40" y="1050.85" width="310.60" height="303.25"/></clipPath>
<g clip-path="url(#c10)">
<path d="M553.4,1336.1l.8-1.4 .9-3.6 2.4-13 .9-3.2 .8-2.4 .8-1.4 .9-.5 .8,.2 1.6,1.2 .9,.2 .8-.5 .8-1.4 .9-2.1 2.4-7.8 .9-2 .8-1.3 .8-.6 1.7-.7 .8-1.3 .8-3.3 .9-6.1 1.6-21.1 1.7-30.5 3.3-69.6 2.5-41.7 .8-9.5 .8-6.7 .9-3.8 .8-.8 .8,2.3 .8,5.2 .9,8.2 1.6,24 1.7,31.9 4.1,90.1 1.7,27.2 .8,8.6 .8,4.4 .9,.9 .8-1.5 1.7-4.5 .8-1.3 .8-.2 .8,1.2 .9,2.3 .8,3.4 4.1,23.9 .9,3.3 .8,1.8 .8,.2 .8-1.1 2.5-5.1 .9-1.1 .8-.6 .8,0 .8,.5 1.7,2.2 4.1,8.2 1.7,2.7 5,6.1 2.5,2.4 1.6,.6 .8-.1 3.4-1 1.6-.1 .8,.2 1.7,.7 5,3.5 1.6,.8 1.7,.3 3.3,.2 1.6,.2 4.2,1.4 .8,.1 5.8-2.3 1.7-.4 1.6-.1 2.5,.3 6.6,2.1 6.7-.5 5.8,.3 1.6-.6 1.7-1.1 5.8-5.5 1.6-1.2 1.7-.9 1.6-.4 1.7,.3 1.7,.7 1.6,1.3 5.8,5.2 1.7,.9 1.6,.3 5.8-.3 5.8-1.6 2.5-.4 2.5,.2 5,1.7 1.6,.2 .8-.1 1.7-.7 5.8-3.2 2.5-.8 1.6-.1 1.7,.3 2.5,.9 6.6,4.2 2.5,1.2 7.4-1 5.8-1.6 3.4-.5 1.6,.2 2.5,.6 6.6,2.6 .9,0 2.4-.6 2.5-.2 2.5,.2 5,.7 5.8-.4 7.4,.3 37.3,.1" stroke="#2331d6" stroke-width="1.9" fill="none" stroke-linejoin="round"/>
<path d="M553.4,1328l.8-1.1 .9-2.8 2.4-11.7 .9-3 .8-2.1 .8-1.2 .9-.2 .8,.6 1.6,2 .9,.7 .8,0 .8-.9 .9-1.9 3.3-9.9 .8-1.4 .8-.8 1.7-.9 .8-1.5 .8-3.4 .9-6.2 1.6-21.4 1.7-31.3 3.3-71.4 2.5-42.7 .8-9.7 .8-6.8 .9-3.9 .8-.6 .8,2.4 .8,5.6 1.7,19.8 2.5,46.6 4.1,91.9 1.7,27.1 .8,8.5 .8,4.4 .9,1.1 .8-1.1 1.7-3.7 .8-.9 .8,.3 .8,1.4 .9,2.7 .8,3.5 4.1,22.2 .9,2.7 .8,1.5 .8,.4 .8-.3 1.7-1.2 .8-.2 .9,.2 .8,.8 .8,1.1 2.5,4 .8,.9 .9,.3 .8-.2 .8-.7 2.5-3 .8-.6 .9-.3 .8,.1 .8,.6 1.7,2.2 1.6,3.5 3.3,7.9 1.7,2.7 .8,.6 .9,.2 3.3-.6 1.6,.5 1.7,1.1 4.1,3.5 2.5-1.5 2.5-.7 5.8,.1 6.6-.8 2.5,.1 2.5,.5 7.4,2.2 5-.9 2.5-.3 2.5,0 4.1,.5 .8-.1 2.5-1.3 4.2-3.2 2.5-1.7 1.6-.6 1.7-.3 1.6,.3 2.5,1.3 2.5,2.3 3.3,3.7 .8,0 2.5-2.5 2.5-2 1.7-.7 1.6-.3 1.7,.1 1.6,.4 5.8,2.4 1.7,.3 4.1,.1 1.7,.3 3.3,1 .8,0 1.7-.8 4.1-3.2 1.7-1.1 2.5-1 1.6-.1 1.7,.3 1.6,.6 1.7,.9 5.8,4 1.6,.8 .9,.2 1.6-.2 9.1-1.7 3.4-.3 4.1,.6 7.5,2.3 5.7-.7 2.5,.1 5.8,.6 5.8-.3 6.7,.3 5.8-.1 6.6,.2 24,0" stroke="#3a76e2" stroke-width="1.9" fill="none" stroke-linejoin="round"/>
<path d="M553.4,1329.5l.8-1.2 .9-3.4 2.4-13 .9-3.4 .8-2.4 .8-1.3 .9-.3 .8,.5 1.6,1.9 .9,.7 .8-.1 .8-1.1 .9-2 3.3-10.5 .8-1.6 .8-.9 1.7-1.1 .8-1.8 .8-3.8 .9-6.7 1.6-23 1.7-33.1 3.3-75.5 2.5-45.2 .8-10.2 .8-7.3 .9-4.1 .8-.8 .8,2.5 .8,5.8 1.7,20.8 2.5,49.1 4.1,97.8 1.7,29.3 .8,9.2 .8,4.8 .9,1 .8-1.4 1.7-4.6 .8-1.3 .8-.1 .8,1.3 .9,2.7 .8,3.7 4.1,25.4 .9,3.6 .8,1.9 .8,.4 .8-.8 1.7-3 .8-1.2 .9-.8 .8-.1 .8,.4 .8,1 .9,1.4 4.1,9.6 .8,1.5 1.7,2.2 4.1,3.4 3.4,3.7 1.6,1.3 .8,.2 .9,0 3.3-.9 1.6,.3 .9,.5 1.6,1.2 3.3,3.5 1.7-1.7 1.6-1.3 1.7-.8 1.7-.2 2.4,.5 4.2,2.3 1.6,.6 5-1.7 2.5-.4 2.5-.1 9.1,.4 2.5,.4 4.1,1.2 1.7-.5 4.9-3.3 2.5-1.4 1.7-.6 1.6-.1 1.7,.2 1.7,.7 1.6,1.1 3.3,2.6 1.7,.9 .8-.1 4.2-1.8 1.6-.4 1.7-.1 10.7,1.5 6.7,1.9 2.4-.6 2.5-.4 2.5,.3 2.5,.7 1.7-.6 4.9-3 2.5-1.2 2.5-.7 1.7-.2 1.6,.2 2.5,.8 7.4,3.8 2.5,1 5.8-1.1 14.9-1.3 2.5,.1 2.5,.4 7.5,1.9 5.8-.5 7.4,.6 5-.3 7.4,.3 28.2,0" stroke="#4ba6e6" stroke-width="1.9" fill="none" stroke-linejoin="round"/>
<path d="M553.4,1332.9l.8-1.4 .9-3.4 2.4-13.1 .9-3.3 .8-2.4 .8-1.4 .9-.5 .8,.3 1.6,1.3 .9,.3 .8-.4 .8-1.2 .9-2.1 2.4-7.9 .9-2 .8-1.3 .8-.6 1.7-.5 .8-1.5 .8-3.4 .9-6.4 1.6-22.3 1.7-32.2 3.3-73.3 2.5-43.7 .8-9.9 .8-7 .9-4 .8-.7 .8,2.5 .8,5.6 1.7,20.1 2.5,47.5 4.1,94.2 1.7,28.1 .8,8.7 .8,4.5 .9,.9 .8-1.4 1.7-4.1 .8-1.1 .8,.2 .8,1.4 .9,2.7 .8,3.7 4.1,23.9 .9,2.9 .8,1.4 .8,0 2.5-3.2 .8-.6 .9-.1 .8,.5 .8,1.1 .8,1.7 3.4,8.4 .8,1.4 .8,.7 .8-.1 .9-.6 2.5-2.4 .8-.4 .8,0 .8,.4 .9,.8 1.6,2.4 5,10.4 .8,1.2 .9,.3 2.4-1.9 .9-.4 1.6-.4 4.2,.6 4.1-.1 2.5,.3 2.5,1 3.3,2.1 .8,.2 2.5-1.4 1.7-.7 1.6-.4 1.7-.1 5.8,.6 5.8,.3 2.5,.5 3.3,1.2 .8,0 10.8-5.3 2.4-.8 2.5-.3 1.7,.2 2.5,.8 2.5,1.5 4.1,3.2 .8,.4 .9-.3 2.4-1.4 1.7-.7 1.7-.4 1.6-.1 3.3,.6 7.5,2.1 4.1,.4 6.6,0 5,.2 9.1-2.1 4.2-.4 4.1,.4 6.6,1.6 3.3,.6 4.2-.2 8.3-1.9 3.3-.3 4.1,.6 6.6,1.7 5.8-.5 7.5,.6 5-.3 8.3,.3 30.6,0" stroke="#5fdcec" stroke-width="1.9" fill="none" stroke-linejoin="round"/>
<path d="M553.4,1336.9l.8-1.5 3.3-17.2 .9-3.3 .8-2.4 .8-1.4 .9-.5 .8,.2 1.6,1.2 .9,.2 .8-.5 .8-1.4 .9-2.2 2.4-7.9 .9-2 .8-1.3 .8-.7 1.7-.7 .8-1.4 .8-3.5 .9-6.2 1.6-21.5 1.7-31 3.3-70.4 2.5-42 .8-9.5 .8-6.8 .9-3.7 .8-.7 .8,2.4 .8,5.5 1.7,19.3 2.5,45.9 4.1,90.6 1.7,26.9 .8,8.4 .8,4.3 .9,.9 .8-1.2 1.7-3.9 .8-.9 .8,.3 .8,1.4 .9,2.7 .8,3.7 3.3,19.3 .8,4 .9,2.8 .8,1.2 .8-.1 2.5-3.1 .8-.5 .9,0 .8,.8 .8,1.3 .8,2 3.4,10.5 .8,2.1 .8,1 .8-.3 3.4-5.4 .8-.8 .8-.3 .8,0 .9,.4 .8,.8 5,7.2 1.6,1.3 .9,.2 3.3,.3 1.6,.7 2.5,1.4 .8,.2 .9-.1 4.1-1.9 .8-.2 1.7,0 1.6,.5 4.2,2.3 1.6,.7 5-.9 5.8,.3 5.8-.5 2.5,.2 4.1,1 1.7,.1 5-1.2 7.4-2.7 3.3-.5 1.7,.1 2.5,.7 2.5,1.3 4.1,2.4 .8,.2 4.2-1.6 2.5-.4 2.4-.1 6.7,.5 7.4,1.4 5-.2 4.1,.3 1.7-.3 7.4-2.8 3.4-.4 1.6,.1 2.5,.5 7.4,2.8 1.7,.3 6.6-1.5 5.8-.5 4.2,.2 9.9,1.9 5.8-.3 8.3,.3 47.2,0" stroke="#62e6c4" stroke-width="1.9" fill="none" stroke-linejoin="round"/>
<path d="M553.4,1337.3l.8-1.5 3.3-17.5 .9-3.4 .8-2.5 .8-1.5 .9-.6 .8,.1 1.6,1.1 .9,.3 .8-.5 .8-1.2 .9-2 2.4-7.8 .9-2 .8-1.5 .8-.8 1.7-1.1 .8-1.6 .8-3.5 .9-6 1.6-20.6 1.7-29.8 3.3-68.1 2.5-40.7 .8-9.3 .8-6.5 .9-3.7 .8-.8 .8,2.3 .8,5.2 1.7,18.7 2.5,44.3 4.1,87.7 1.7,26.2 .8,8.2 .8,4.5 .9,1.1 .8-.9 1.7-3.6 .8-1 .8,.1 .8,1.3 .9,2.4 .8,3.4 4.1,22.4 .9,3 .8,1.7 .8,.4 .8-.6 2.5-3 .9-.4 .8,.2 .8,.6 .8,1.1 1.7,3.3 2.5,5.8 1.6,2.8 .9,.8 .8,.5 2.5,.7 1.6,.7 4.2,3.7 1.6,1.1 1.7,.3 2.5-.1 1.6,.3 1.7,.8 3.3,2.2 .8,.2 .9-.1 3.3-1.1 1.6-.2 2.5,.5 3.3,1.3 1.7,.5 4.1-.4 5,.2 4.1-.7 2.5-.2 5.8,.5 5.8-.3 5.8,.9 1.7-.5 4.9-1.9 2.5-.4 1.7-.1 3.3,.4 6.6,1.4 2.5,.4 2.5,0 5-.6 3.3-.1 4.1,.4 9.1,1.3 7.5-.6 2.5,.3 2.5,.5 7.4-2.4 2.5-.5 2.5-.1 4.1,.6 6.6,2.2 .9,0 4.9-1.3 4.2-.3 4.1,.3 8.3,1.4 5.8-.2 7.5,.2 48,.1" stroke="#6ce68c" stroke-width="1.9" fill="none" stroke-linejoin="round"/>
<path d="M553.4,1341.8l.8-1.8 3.3-18 1.7-6 .8-1.6 .9-.9 .8-.2 1.6,.4 .9-.1 .8-.7 .8-1.3 .9-1.9 2.4-7.2 .9-1.9 .8-1.3 2.5-2.2 .8-1.7 .8-3.3 .9-5.6 1.6-19 1.7-27.2 3.3-62.2 2.5-37.3 .8-8.4 .8-6 .9-3.3 .8-.6 .8,2.1 .8,4.9 1.7,17.2 1.7,25.6 4.9,94.9 1.7,23.5 .8,7.4 .8,4.2 .9,1.3 .8-.5 1.7-2.4 .8-.6 .8,.3 .8,1.4 .9,2.4 .8,3.2 4.1,19.9 .9,2.5 .8,1.4 .8,.4 .8-.4 1.7-1.4 .8-.4 .9-.1 .8,.4 1.6,2.1 2.5,4.8 1.7,2.7 .8,.7 .8,.4 .9,0 2.5-.3 1.6,.5 .8,.6 1.7,2 3.3,5.5 .8,1.2 .9,.7 .8,.2 .8-.4 1.7-1.2 1.6-.8 1.7,0 .8,.2 1.7,.8 4.1,3.2 1.7,.9 .8,.1 2.5-.7 1.6-.2 5.8,.9 5-1 2.5-.1 3.3,.3 4.2,1 .8,.1 4.1-.9 2.5-.2 2.5,.2 5,.8 7.4-1.7 3.3-.3 3.3-.1 6.7,.5 7.4,1.6 6.6-1 4.2-.2 5,.3 6.6,1.2 3.3-.3 3.3,.2 2.5-.5 6.6-2.2 2.5-.4 1.7-.1 1.6,.1 2.5,.6 7.5,2.5 5.8-1 7.4-.3 5,.3 8.3,1.1 4.9-.3 8.3,.3 46.4,0" stroke="#e2c42e" stroke-width="1.9" fill="none" stroke-linejoin="round"/>
<path d="M553.4,1343.6l.8-1.7 3.3-16.4 1.7-5.5 .8-1.6 .9-.9 .8-.2 2.5,.4 .8-.3 .8-.8 .9-1.5 3.3-7.6 .8-1.4 2.5-3.2 .8-1.8 .8-3.1 .9-4.8 1.6-15.6 1.7-22.2 4.1-62.6 1.7-19.1 .8-7 .8-5 .9-2.8 .8-.5 .8,1.8 .8,4 1.7,14.3 1.7,21.2 4.9,78.4 1.7,19.1 .8,6.2 .8,3.5 .9,1.4 .8,0 1.7-1.3 .8-.1 .8,.5 .8,1.4 1.7,5.1 3.3,14.2 .8,2.9 .9,2 .8,1.1 .8,.2 .8-.4 1.7-1.3 .8-.3 .9,0 .8,.5 .8,.9 .8,1.3 4.2,9.5 .8,1.5 .8,.8 .9,.2 .8-.4 2.5-1.9 .8-.3 1.7-.1 1.6,.9 5,4.3 1.7,.7 1.6,.1 3.3-.4 2.5,.2 2.5,.6 8.3,2.5 6.6,.6 6.6-.6 2.5,0 4.2,.6 4.9-.7 5.8,.3 1.7-.4 4.9-1.6 3.4-.5 1.6,.1 2.5,.4 9.1,2.6 6.6-1.5 4.2-.3 4.1,.3 7.5,1.5 4.1-.5 2.5-.1 2.5,.2 2.5,.4 8.3-2.3 4.1-.5 4.1,.4 7.5,2.1 1.6,.3 4.2-.5 5.8,.4 6.6-1.1 3.3-.3 3.3,.2 7.5,1.2 1.6,.1 5-.2 7.5,.2 44.7,.1" stroke="#e6922c" stroke-width="1.9" fill="none" stroke-linejoin="round"/>
<path d="M553.4,1348.1l.8-1.6 3.3-13.5 1.7-4.5 .8-1.3 .9-.9 .8-.3 2.5-.1 .8-.3 .8-.7 1.7-2.3 2.5-4.2 3.3-4.1 .8-1.7 .8-2.5 .9-3.7 1.6-11.6 1.7-16.2 4.1-45.4 1.7-13.9 .8-5 .8-3.5 .9-2 .8-.3 .8,1.4 .8,2.9 1.7,10.5 1.7,15.5 4.9,56.7 1.7,13.9 .8,4.5 .8,2.8 .9,1.3 .8,.4 1.7-.4 .8,.1 .8,.6 .8,1 1.7,3.6 4.1,12 .9,1.6 .8,.9 .8,.5 .8,0 2.5-.4 1.7,.5 1.6,1.4 3.4,3.8 1.6,1.5 1.7,.9 2.5,.8 1.6,.9 4.2,3.5 .8,.5 .8,.1 .8-.2 3.4-1.8 1.6-.3 .8,0 1.7,.5 5,3 .8,.3 .8,.2 3.3-.8 1.7-.2 1.6,.1 5.8,1 12.5-.5 2.5,.2 4.9,.6 7.5-1 9.9-.3 4.2,.2 6.6,.9 5.8-.2 5.8,.2 8.3-.5 8.2,.6 7.5-.1 5,.3 9.9-1.8 4.1-.3 4.2,.4 8.3,1.8 3.3-.5 4.1-.1 10.8,0 9.9,.5 54.7,.1" stroke="#e66228" stroke-width="1.9" fill="none" stroke-linejoin="round"/>
<path d="M553.4,1350.7l.8-1.6 3.3-11.2 1.7-3.6 .8-1.1 .9-.6 .8-.2 3.3,.2 .8-.3 .9-.7 6.6-8.7 .8-1.5 .8-2 1.7-6.6 1.6-10 4.2-32.7 2.5-16.1 .8-3.7 .8-2.6 .9-1.5 .8-.3 .8,1 .8,2.1 1.7,7.5 1.7,11.2 4.9,41.2 1.7,10.1 .8,3.4 .8,2.2 .9,1.2 .8,.4 2.5,.1 .8,.4 .8,.8 1.7,2.6 4.1,8.9 .9,1.3 .8,.8 .8,.5 .8,.1 2.5-.5 1.7,0 1.6,.5 6.7,4.7 7.4,4.1 2.5,.6 4.2-.2 2.4,.2 8.3,2.6 5-.1 6.6,.4 10.8-1 3.3,.2 5,.6 5.8-.2 4.9,.4 6.7-1.1 3.3-.2 4.1,.2 10.8,1.1 14.1-.8 4.1,.1 5.8,.7 5.8-.3 4.1,.3 7.5-1.2 4.1-.3 3.3,.2 9.2,1.3 9.1-.2 9.1-.5 4.1,.2 7.5,.6 5.8-.2 7.4,.2 43.1,0" stroke="#e4321c" stroke-width="1.9" fill="none" stroke-linejoin="round"/>
<circle cx="588.19" cy="1101.39" r="4.2" fill="#2331d6"/>
<circle cx="588.19" cy="1094.46" r="4.2" fill="#3a76e2"/>
<circle cx="588.19" cy="1078.78" r="4.2" fill="#4ba6e6"/>
<circle cx="588.19" cy="1088.89" r="4.2" fill="#5fdcec"/>
<circle cx="588.19" cy="1098.79" r="4.2" fill="#62e6c4"/>
<circle cx="588.19" cy="1104.34" r="4.2" fill="#6ce68c"/>
<circle cx="588.19" cy="1122.49" r="4.2" fill="#e2c42e"/>
<circle cx="588.19" cy="1158.44" r="4.2" fill="#e6922c"/>
<circle cx="588.19" cy="1208.50" r="4.2" fill="#e66228"/>
<circle cx="588.19" cy="1245.94" r="4.2" fill="#e4321c"/>
</g>
<path d="M574.11,1354.10v-4.30M574.11,1050.85v4.30M594.81,1354.10v-4.30M594.81,1050.85v4.30M615.52,1354.10v-4.30M615.52,1050.85v4.30M636.23,1354.10v-4.30M636.23,1050.85v4.30M677.64,1354.10v-4.30M677.64,1050.85v4.30M698.35,1354.10v-4.30M698.35,1050.85v4.30M719.05,1354.10v-4.30M719.05,1050.85v4.30M739.76,1354.10v-4.30M739.76,1050.85v4.30M781.17,1354.10v-4.30M781.17,1050.85v4.30M801.88,1354.10v-4.30M801.88,1050.85v4.30M822.59,1354.10v-4.30M822.59,1050.85v4.30M843.29,1354.10v-4.30M843.29,1050.85v4.30M656.93,1354.10v-9.00M656.93,1050.85v9.00M760.47,1354.10v-9.00M760.47,1050.85v9.00M553.40,1341.46h4.30M864.00,1341.46h-4.30M553.40,1328.83h4.30M864.00,1328.83h-4.30M553.40,1316.19h4.30M864.00,1316.19h-4.30M553.40,1303.56h4.30M864.00,1303.56h-4.30M553.40,1278.29h4.30M864.00,1278.29h-4.30M553.40,1265.65h4.30M864.00,1265.65h-4.30M553.40,1253.02h4.30M864.00,1253.02h-4.30M553.40,1240.38h4.30M864.00,1240.38h-4.30M553.40,1215.11h4.30M864.00,1215.11h-4.30M553.40,1202.47h4.30M864.00,1202.47h-4.30M553.40,1189.84h4.30M864.00,1189.84h-4.30M553.40,1177.20h4.30M864.00,1177.20h-4.30M553.40,1151.93h4.30M864.00,1151.93h-4.30M553.40,1139.30h4.30M864.00,1139.30h-4.30M553.40,1126.66h4.30M864.00,1126.66h-4.30M553.40,1114.03h4.30M864.00,1114.03h-4.30M553.40,1088.76h4.30M864.00,1088.76h-4.30M553.40,1076.12h4.30M864.00,1076.12h-4.30M553.40,1063.49h4.30M864.00,1063.49h-4.30M553.40,1290.92h9.00M864.00,1290.92h-9.00M553.40,1227.75h9.00M864.00,1227.75h-9.00M553.40,1164.57h9.00M864.00,1164.57h-9.00M553.40,1101.39h9.00M864.00,1101.39h-9.00" stroke="#000" stroke-width="1.90" fill="none" stroke-linecap="round"/>
<rect x="553.40" y="1050.85" width="310.60" height="303.25" fill="none" stroke="#000" stroke-width="2.00"/>
<text x="553.40" y="1384.10" font-size="25.00" text-anchor="middle" font-weight="normal" letter-spacing="0.35">0</text>
<text x="656.93" y="1384.10" font-size="25.00" text-anchor="middle" font-weight="normal" letter-spacing="0.35">500</text>
<text x="760.47" y="1384.10" font-size="25.00" text-anchor="middle" font-weight="normal" letter-spacing="0.35">1000</text>
<text x="864.00" y="1384.10" font-size="25.00" text-anchor="middle" font-weight="normal" letter-spacing="0.35">1500</text>
<text x="538.80" y="1361.20" font-size="25.00" text-anchor="end" font-weight="normal" letter-spacing="0.35">0.00</text>
<text x="538.80" y="1298.02" font-size="25.00" text-anchor="end" font-weight="normal" letter-spacing="0.35">0.25</text>
<text x="538.80" y="1234.85" font-size="25.00" text-anchor="end" font-weight="normal" letter-spacing="0.35">0.50</text>
<text x="538.80" y="1171.67" font-size="25.00" text-anchor="end" font-weight="normal" letter-spacing="0.35">0.75</text>
<text x="538.80" y="1108.49" font-size="25.00" text-anchor="end" font-weight="normal" letter-spacing="0.35">1.00</text>
<text x="708.70" y="1425.90" font-size="26.00" text-anchor="middle" font-weight="normal">Frequency (T)</text>
<text transform="translate(469.10,1202.47) rotate(-90)" font-size="26.00" text-anchor="middle">FFT amplitude (a.u.)</text>
<text x="842.50" y="1303.30" font-size="19.50" text-anchor="end" font-weight="normal" letter-spacing="0.2">FFT window:</text>
<text font-size="19.5" y="1324.50"><tspan x="762.30">30</tspan><tspan x="787.90" y="1328.30" font-size="25.5">~</tspan><tspan x="805.90" y="1324.50">72</tspan><tspan x="830.80">T</tspan></text>
<rect x="165.52" y="1471.35" width="74.89" height="303.25" fill="#f7f8f0"/>
<text x="419.00" y="1519.10" font-size="18.30" text-anchor="end" font-weight="normal">15.0 K</text>
<text x="419.00" y="1712.10" font-size="18.30" text-anchor="end" font-weight="normal">1.8 K</text>
<clipPath id="c11"><rect x="127.10" y="1471.35" width="310.80" height="303.25"/></clipPath>
<g clip-path="url(#c11)">
<path d="M165.5,1715l.8,.4 1.2,1.4 3.5,7.2 1.2,2 1.1,1.1 .8,.1 .8-.3 1.2-1.2 4.2-7 1.2-1.1 1.2-.3 .8,.2 1.1,.8 3.9,4.5 1.2,.7 .8,.2 .8-.1 1.1-.7 4.7-4.7 1.2-.5 .8-.1 .7,.1 1.2,.7 4.7,4.3 1.2,.5 .7,.1 .8-.2 1.2-.5 4.3-3.8 1.2-.6 .7-.1 .8,0 1.2,.4 4.3,3.2 1.1,.6 1.2,.3 2-.5 3.9-2.3 1.5-.6 2,.1 4.7,2.1 1.9,.3 2-.5 4.6-2.3 2.4-.4 6.2,.7 7-.5 3.2,0 10.5,1.5 13.6,1.1 17.2-.4 7.8,.4 7.8-1.3 7.8,.1 6.6-.5 2.4,.1 7.8,1.2 9.7-.5 9.4,.4 7-.5 2.3,.2 4.3,.7 2,.1 2.3-.2 10.5-1.7 4.7-.3 6.7,.2 6.6,1 2.3,.2 3.1-.2 5.5-.8 2.3-.1 2.4,.3 5.4,1.1 4.3,.1" stroke="#2331d6" stroke-width="3.4" fill="none" stroke-linejoin="round"/>
<path d="M165.5,1693.9l.8,.8 1.2,1.7 3.9,7.7 1.1,1.3 .8,.2 .8-.3 1.2-1.2 3.1-5.7 1.2-1.8 1.1-1 .8-.3 .8,.2 1.2,.8 4.3,5.3 1.1,.9 .8,.2 1.2-.3 1.1-.9 4.3-5 1.2-.7 .8-.2 .8,.2 1.1,.8 4.7,5 1.2,.7 .8,.2 1.1-.3 1.2-.7 3.5-3.3 1.2-.9 1.2-.5 .7-.1 .8,.1 1.2,.4 4.3,3.1 .8,.3 1.1,.2 2-.5 4.7-3 1.9-.4 2,.4 3.9,1.7 1.5,.3 2-.3 4.6-1.9 2-.2 1.9,.3 3.9,1.4 2.4,.5 1.9-.1 4.3-1.1 2-.3 2.7,.3 5.5,1.4 2.7,.2 18.7-1.7 2.7,.3 6.3,1.7 3.1,.3 6.6-.3 5.5-.1 6.6-.7 2.4-.1 2.3,.3 5.1,1 2.3,.2 2.7-.2 5.1-1.1 2.7-.4 2.4,.1 5.1,.9 2.3,.1 7.8-.8 8.6,.1 7-.4 3.1,.4 5.5,1.7 2.3,.2 2.4-.2 6.6-1.5 1.9-.1 6.7,.1 8.2-1.3 3.5,.2 5.8,1.6 2.4,.4 2.3-.2 6.2-1.1" stroke="#3a76e2" stroke-width="3.4" fill="none" stroke-linejoin="round"/>
<path d="M165.5,1673.5l1.6,2.4 3.5,6.9 1.2,1.4 .7,.4 .8-.2 1.2-1.2 4.3-8.3 1.2-1.3 1.1-.3 .8,.2 .8,.5 3.5,4 1.2,1 .7,.3 1.2,.1 .8-.3 1.2-.9 3.5-3.4 1.1-.7 1.2-.1 .8,.2 1.2,.6 4.6,4.4 1.2,.6 .8,.1 .8,0 1.1-.5 4.7-3.6 1.2-.6 1.2-.2 .7,.1 1.2,.4 4.3,3 2,.6 .7-.1 1.2-.4 4.7-2.9 1.9-.4 2,.5 4.3,2.2 1.9,.3 2-.4 4.7-1.8 2.3-.4 1.9,.3 3.9,1.1 2,.3 2.3,.1 4.7-.6 2.7,0 2.4,.2 5.1,1.2 1.9,.2 6.6-.6 6.7,.6 2.3,0 7-.9 2.4-.2 6.6,.7 5.5-.1 5.8,.5 2.3,0 12.9-.8 8.6-1.4 3.5-.4 2.7,.2 7.4,1 18.4-.2 3.1,.3 5.8,.9 3.2,.3 4.6-.4 9.8-1.6 2.7-.1 2.8,.4 6.6,1.7 3.1,.3 4.3-.3 10.5-1.8 3.1,0 4.3,.4" stroke="#4ba6e6" stroke-width="3.4" fill="none" stroke-linejoin="round"/>
<path d="M165.5,1653.4l1.6,2.5 3.5,6.5 1.2,1.4 .7,.3 .8-.3 .8-.8 1.2-2 2.7-5.8 1.2-1.6 .8-.5 .7-.2 1.2,.3 4.3,3.8 1.2,.6 .7,.1 .8-.1 1.2-.6 4.3-3.9 1.2-.7 1.1-.3 .8,.1 1.2,.3 4.3,2.9 1.9,.7 2,0 4.6-1.6 2-.2 1.9,.6 4.3,2.2 2,.4 1.9-.3 4.3-2.1 2-.5 1.1,.1 1.2,.3 3.9,1.8 1.2,.2 1.2,0 1.9-.7 3.9-2 1.6-.5 1.1-.1 1.6,.1 5.8,1.1 6.3,.2 5.4,.5 2.8-.1 11.3-1 2.3,.2 5.9,1 2.7,.2 3.1-.1 6.7-.7 9.7,.5 8.6-.5 7.8,.2 7-.3 10.1,.9 16.8-.3 10.9,1.1 9-.6 12.5-.2 5.4,.1 6.7,.7 2.7,.1 5.1-.4 7.4-1.6 2.7-.3 9-.1 5.8,.4" stroke="#5fdcec" stroke-width="3.4" fill="none" stroke-linejoin="round"/>
<path d="M165.5,1633.7l4.7,7.7 1.2,1.2 .8,.2 .7-.3 1.2-1.4 3.1-7 1.2-2.1 .8-.9 1.1-.4 .8,.1 .8,.4 4.3,3.7 .8,.3 1.1,.2 2-.5 3.9-2.2 1.9-.4 2,.3 4.3,2 1.9,.4 2.4-.3 4.3-1.7 1.9-.4 2.4,.4 4.2,1.8 2,.3 2.3-.6 4.7-2.1 2-.2 1.9,.5 4.7,2.3 2.3,.5 2-.1 6.2-1.2 7.4-.1 7.8-.9 2.8,.2 5.8,1.7 3.1,.3 7.8-.9 5.5,.2 2.3-.1 5.5-1.2 1.9-.2 2.4,.1 4.3,1.1 1.9,.2 2,0 5-1 2.4-.1 2.3,.2 5.5,1 4.3,.2 7.4-.2 15.2-1.7 2.7,0 6.7,.6 8.5-.9 2.4,.1 5,.7 2.8,.2 14.4,.2 9.4-.4 16,1.1 8.1-.6 7.5,.7 4.6-.3" stroke="#62e6c4" stroke-width="3.4" fill="none" stroke-linejoin="round"/>
<path d="M165.5,1612.5l4.7,6.4 1.2,1.1 .8,.3 .7-.2 1.2-1.1 3.1-5.8 1.2-1.7 .8-.7 1.1-.3 1.6,.5 3.5,2.5 1.6,.5 1.9-.3 4.3-2.6 1.2-.5 1.2-.2 1.9,.4 3.5,1.9 1.6,.5 1.9,0 4.3-1.4 2-.1 1.9,.5 3.9,1.9 2,.3 2.3-.3 3.9-1.7 2-.6 2.3,.1 4.3,1.4 2.3,.2 2.4-.4 5-1.8 3.2-.4 2.7,.3 5.4,1.4 2.8,.4 2.3-.1 7.8-1.1 11.7,0 13.7,1.4 2.7-.1 5.1-.7 2.7,0 2.3,.3 4.7,1 2.4,.3 2.7-.3 7-1.5 5.9-.4 17.1,.9 7.4-.6 6.7,.4 8.5-.1 6.7-.9 2.3-.1 2.7,.4 4.7,1.1 2.7,.2 2-.1 7-1.2 9,.1 8.6-.8 10.9,1.2 9.7,.7 3.9-.1" stroke="#6ce68c" stroke-width="3.4" fill="none" stroke-linejoin="round"/>
<path d="M165.5,1591.7l3.5,3.1 1.6,.9 1.2,.3 .7-.1 1.2-.7 3.9-4.3 .8-.5 1.2-.3 1.5,.3 3.1,1.3 2,.3 1.9-.4 4.3-1.6 2.4-.2 1.9,.4 4.7,1.8 2,.3 2.3-.3 4.3-1.5 1.9-.3 2,.1 4.7,1.3 1.9,.2 2-.2 5.4-1.3 2.4,0 3.9,.5 1.9,.1 2-.3 4.3-.9 1.9-.2 2,.2 4.6,1 2.4,.2 3.1-.2 6.2-1 3.5-.1 12.5,.6 9.4,1.1 8.2-.2 7.8,.6 3.5-.1 7.4-.9 12.5,.1 7.4-.5 8.2,.8 12.5,.3 7.4,.8 2.7,.2 9.7-.7 8.2,.1 9.8-.4 9.7-.8 13.7,.2 7.8-1.1 7.8,.8 5.8,.1" stroke="#e2c42e" stroke-width="3.4" fill="none" stroke-linejoin="round"/>
<path d="M165.5,1569.6l3.1,1.8 1.6,.5 1.2,.1 1.9-.5 3.1-2.2 1.6-.6 1.6,.1 3.9,1.8 1.9,.4 2-.4 3.9-1.9 1.5-.4 2,0 3.9,1.1 1.9,.3 2-.2 3.9-1.2 1.9-.3 2.4,.4 5,1.9 2.4,.4 2.3-.3 5.1-1.9 2.3-.4 1.6,0 5.4,.8 5.9-.3 2.3,.1 6.3,1.1 1.9,.2 2.4-.3 5-1.6 2.4-.2 6.6,1 2.3,.2 7.8-.7 8.6-.4 3.1,.2 5.5,1 2,.2 2.3-.1 5.5-.8 4.2,0 14.1,.7 6.2,1.1 2.8,.3 3.1-.3 6.2-1.5 3.5-.4 10.2,.8 12.1-.8 2.7,.3 5.1,1.3 3.5,.4 4.3-.2 5.8-1 3.1-.3 3.9,0 5.9,.7 2.3,.1 6.3-.5 7-.2 7.4-.7 3.5,.1 7,1 3.1,.1" stroke="#e6922c" stroke-width="3.4" fill="none" stroke-linejoin="round"/>
<path d="M165.5,1548.8l2.4,.8 2.7,.2 2.3-.5 3.5-1.7 1.6-.4 1.6,0 3.5,.9 1.9,.2 2-.4 3.9-1.1 1.9-.3 2.4,.2 4.3,1 1.9,.2 2-.3 4.2-1 2-.1 1.6,.1 5.8,.9 2,0 6.2-.8 7.8,.6 2.3-.3 4.3-1 2.4-.2 2.3,.2 6.2,1.4 3.2,.4 2.7-.1 7.4-1 3.5-.2 2.4,.1 6.6,.8 6.6-.3 6.6,.3 22.7-.2 10.5,.4 3.1-.2 6.3-1 3.1-.2 23,1.4 7,0 6.2-.4 2.8,0 10.1,1.5 3.1,.2 11.7-1 7.8-1 3.5,.1 6.3,1.2 2.7,.2 2.7-.2 9.8-1.7 3.1-.2 3.1,.2" stroke="#e66228" stroke-width="3.4" fill="none" stroke-linejoin="round"/>
<path d="M165.5,1526.2l2,0 5.4-1.2 2.8-.1 1.9,.3 4.7,1.8 1.9,.2 2.4-.6 4.3-2 2.3-.4 7,1.2 2-.1 3.9-.6 1.9,0 2,.3 4.3,1.2 2.7,.3 2-.2 6.6-1.1 6.6,0 6.3-.4 3.1,.2 7,1.4 3.1,.2 7.8-.5 8.2,.4 6.2-.8 2.8-.1 9.7,.3 14.8,.2 14.1-.2 16-1 13.6,.5 12.9-1 7.8,1 1.9-.1 5.5-.8 2.3-.1 11.4,1.1 14.8-.9 9.3,.5 8.6,.1 7,.4 11.7,.3" stroke="#e4321c" stroke-width="3.4" fill="none" stroke-linejoin="round"/>
<path d="M165.5,1720.4l.4-.3 .6-1.7 .9-6.2 .9-10.1 1.2-16.6 1.7-32.2 4.1-90.8 1.9-33.1 .9-12.1 .7-7 1-5.2 .4-1 .3-.3 44.9,0 .4,.3 .4,1 .7,3.8 .9,8.4 1.7,24 1.7,32.9 4,86.8 1.8,33.4 1,12.2 .7,7.1 1,5.4 .3,1 .4,.3" stroke="#000" stroke-width="4.6" fill="none" stroke-linejoin="round" stroke-linecap="round"/>
</g>
<path d="M139.04,1774.60v-4.30M139.04,1471.35v4.30M167.08,1774.60v-4.30M167.08,1471.35v4.30M195.12,1774.60v-4.30M195.12,1471.35v4.30M223.16,1774.60v-4.30M223.16,1471.35v4.30M279.24,1774.60v-4.30M279.24,1471.35v4.30M307.28,1774.60v-4.30M307.28,1471.35v4.30M335.32,1774.60v-4.30M335.32,1471.35v4.30M363.36,1774.60v-4.30M363.36,1471.35v4.30M419.44,1774.60v-4.30M419.44,1471.35v4.30M251.20,1774.60v-9.00M251.20,1471.35v9.00M391.40,1774.60v-9.00M391.40,1471.35v9.00M127.10,1763.77h4.30M437.90,1763.77h-4.30M127.10,1742.11h4.30M437.90,1742.11h-4.30M127.10,1698.79h4.30M437.90,1698.79h-4.30M127.10,1677.13h4.30M437.90,1677.13h-4.30M127.10,1655.47h4.30M437.90,1655.47h-4.30M127.10,1633.81h4.30M437.90,1633.81h-4.30M127.10,1590.48h4.30M437.90,1590.48h-4.30M127.10,1568.82h4.30M437.90,1568.82h-4.30M127.10,1547.16h4.30M437.90,1547.16h-4.30M127.10,1525.50h4.30M437.90,1525.50h-4.30M127.10,1482.18h4.30M437.90,1482.18h-4.30M127.10,1720.45h9.00M437.90,1720.45h-9.00M127.10,1612.14h9.00M437.90,1612.14h-9.00M127.10,1503.84h9.00M437.90,1503.84h-9.00" stroke="#000" stroke-width="1.90" fill="none" stroke-linecap="round"/>
<rect x="127.10" y="1471.35" width="310.80" height="303.25" fill="none" stroke="#000" stroke-width="2.00"/>
<text x="251.20" y="1804.60" font-size="25.00" text-anchor="middle" font-weight="normal" letter-spacing="0.35">0.02</text>
<text x="391.40" y="1804.60" font-size="25.00" text-anchor="middle" font-weight="normal" letter-spacing="0.35">0.03</text>
<text x="113.00" y="1727.05" font-size="25.00" text-anchor="end" font-weight="normal" letter-spacing="0.35">0</text>
<text x="113.00" y="1618.74" font-size="25.00" text-anchor="end" font-weight="normal" letter-spacing="0.35">50</text>
<text x="113.00" y="1510.44" font-size="25.00" text-anchor="end" font-weight="normal" letter-spacing="0.35">100</text>
<text x="203.00" y="1750.90" font-size="17.50" text-anchor="middle" font-weight="bold">FFT window</text>
<path d="M165.82,1759.30H239.10 M165.82,1759.30l12.3,-5.4 M165.82,1759.30l12.3,5.4 M239.10,1759.30l-12.3,-5.4 M239.10,1759.30l-12.3,5.4" stroke="#000" stroke-width="2.6" fill="none" stroke-linecap="round" stroke-linejoin="round"/>
<text font-size="25"><tspan x="233.00" y="1858.40">B</tspan><tspan x="251.00" y="1840.30" font-size="16.5">−1</tspan><tspan x="275.80" y="1858.40">(T</tspan><tspan x="301.30" y="1840.30" font-size="16.5">−1</tspan><tspan x="323.50" y="1858.40">)</tspan></text>
<text transform="translate(38.40,1714.40) rotate(-90)" font-size="25"><tspan x="0" y="0">ΔR</tspan><tspan x="36.0" y="8.1" font-size="17.5">xx</tspan><tspan x="59.5" y="0">−</tspan><tspan x="78.8" y="0">ΔR</tspan><tspan x="115.9" y="12.8" font-size="17.5">xx</tspan><tspan x="116.5" y="-18.7" font-size="17.5">LH</tspan><tspan x="143.0" y="0">(Ω)</tspan></text>
<clipPath id="c12"><rect x="553.40" y="1471.35" width="310.60" height="303.25"/></clipPath>
<g clip-path="url(#c12)">
<path d="M553.4,1710.3l2.5,.5 1.6,.7 1.7,1.1 1.7,1.5 1.6,1.8 3.3,4.6 3.3,5.7 3.4,6.8 9.9,22.9 2.5,5.3 1.6,2.8 .9,1 .8,.7 .8,.3 .8-.2 1.7-1.5 1.7-2.3 4.9-7.8 2.5-3.5 3.3-3.6 2.5-2 2.5-1.4 3.3-.8 2.5-.1 5.8,.4 2.5-.3 1.6-.5 1.7-.9 2.5-2 2.5-2.9 2.4-3.7 9.2-15.8 3.3-5.3 3.3-4.2 2.5-2.5 2.4-1.8 2.5-1.1 2.5-.7 5-.8 1.6-.5 2.5-1.5 1.7-1.7 2.5-3.8 2.5-5.7 2.4-7.6 3.4-12.8 4.9-23.9 12.4-66.4 3.4-15.6 3.3-13.5 3.3-11 1.6-4.4 1.7-3.7 1.7-2.9 1.6-2.1 1.7-1.2 1.6-.5 1.7,.3 .8,.5 1.7,1.6 1.6,2.3 2.5,4.9 1.7,4.2 2.4,7.5 2.5,8.9 2.5,10.2 4.2,19.3 4.1,21.6 15.7,90.1 6.7,35.8 2.4,12.2 2.5,10.9 1.7,5.9 .8,2.2 .8,1.4 .9,.5 .8-.6 .8-1.3 1.7-4.2 5-14.8 2.4-6.7 2.5-5.8 2.5-4.8 2.5-3.7 2.5-2.7 2.5-1.6 2.5-.5 2.4,.6 2.5,1.5 2.5,2.4 2.5,3.3 2.5,4 3.3,6.3 8.3,18.4 2.5,5.1 1.6,2.7 .8,1 .9,.6 .8,.3 .8-.2 .9-.5 .8-.9 2.5-4.2 2.5-5.3 9.1-20.8 5.8-11.7 2.4-4.4 2.5-3.7 2.5-3.2 2.5-2.6" stroke="#2331d6" stroke-width="1.9" fill="none" stroke-linejoin="round"/>
<path d="M553.4,1537.8l.8,.2 1.7,1.1 1.6,2.2 1.7,3.3 2.5,6.9 3.3,12.6 2.5,11.7 3.3,18 10.8,65 1.6,8.5 1.7,7.3 1.6,5.8 .9,2.3 1.6,3.1 .8,.8 .9,.4 .8-.1 .8-.5 .9-.9 .8-1.3 1.6-3.4 7.5-20.5 2.5-5.8 1.6-3.1 1.7-2.3 .8-.8 1.7-1 .8-.2 1.7,.4 .8,.5 1.6,1.9 1.7,2.7 2.5,5.9 2.5,7.9 2.5,9.7 2.4,11.2 2.5,12.6 9.1,50.4 1.7,7.1 .8,2.1 .9,.7 .8-1 .8-2.4 .8-3.1 5.8-26.9 3.3-13.7 3.4-11.2 2.4-6.5 2.5-5 1.7-2.5 1.6-1.9 1.7-1.4 1.7-1 5.8-2.6 2.4-2.2 1.7-2.2 1.7-3.1 2.4-6.4 1.7-5.4 1.7-6.4 3.3-15.3 3.3-17.6 9.1-51.5 3.3-16.7 2.5-11.1 3.3-12.1 1.7-4.9 1.6-4 1.7-3 1.6-2.2 1.7-1.1 .8-.2 1.7,.3 1.6,1.3 1.7,2.2 1.6,3.2 1.7,4 1.6,5 1.7,5.7 2.5,10.1 3.3,15.8 4.1,22.7 13.3,82.1 5,28 2.5,12 2.4,10.1 2.5,7.7 1.7,3.7 .8,1.3 1.7,1.7 .8,.4 1.6,0 .9-.3 1.6-1 6.7-6.3 3.3-2.4 1.6-.8 1.7-.4 1.6-.2 2.5,.4 1.7,.6 2.5,1.5 4.1,3.6 4.1,4.7 10,12.9 4.1,4.8 4.2,3.9 2.5,1.7 1.6,.9 3.3,1 1.7,.2 2.5-.1 4.1-.6 12.4-2.6 5-.6 5.8-.5" stroke="#3a76e2" stroke-width="1.9" fill="none" stroke-linejoin="round"/>
<path d="M553.4,1607.5l.8,.1 1.7,.7 .8,.6 1.7,1.7 2.5,3.7 2.4,5 2.5,6.1 2.5,7.1 7.5,23.7 3.3,9.9 3.3,8.2 1.6,3.2 1.7,2.5 .8,1 1.7,1.5 1.6,.9 1.7,.2 1.7-.2 1.6-.6 6.6-3.2 2.5-.5 1.7,.2 2.5,1.1 1.6,1.4 2.5,3 1.7,2.8 3.3,7.1 4.1,11.7 4.2,14.1 6.6,24.7 2.5,8 1.6,3.8 .9,1.1 .8,.5 .8-.3 .8-.9 1.7-3.3 8.3-22.2 2.5-5.6 2.4-4.6 2.5-3.8 2.5-2.9 2.5-2.4 5-4 3.3-3.6 1.6-2.4 1.7-2.9 2.5-5.5 1.6-4.4 2.5-7.9 4.2-15.9 4.1-18.3 12.4-58.1 4.2-17.2 4.1-14.8 2.5-7.5 2.5-6.5 2.5-5.3 1.6-2.8 2.5-3.2 2.5-1.9 1.7-.5 .8,0 1.6,.3 1.7,1 1.6,1.6 1.7,2.1 2.5,4.3 3.3,7.6 4.1,12.6 3.4,12.1 4.1,17.3 12.4,58.5 5,21.3 2.5,9 2.5,7.5 2.4,5.7 1.7,2.7 .8,1.1 1.7,1.5 1.6,.8 1.7,.1 1.7-.4 1.6-.8 8.3-5.8 2.5-1.2 1.6-.6 2.5-.3 2.5,.4 2.5,1 2.5,1.7 2.5,2.3 2.4,2.9 2.5,3.3 3.3,5.1 5.8,10.2 11.6,22 5,8.5 2.5,3.5 1.6,1.9 1.7,1.6 1.7,1 1.6,.4 1.7-.1 1.6-.7 1.7-1.2 1.6-1.7 2.5-3 5-7.1" stroke="#4ba6e6" stroke-width="1.9" fill="none" stroke-linejoin="round"/>
<path d="M553.4,1572.8l.8,.2 1.7,1 .8,1 1.7,2.6 2.5,5.9 1.6,5.2 1.7,6.1 2.5,10.6 3.3,16.7 9.1,53.1 3.3,17.6 1.6,7.2 1.7,5.6 1.7,3.7 .8,1.1 .8,.4 .8,0 .9-.6 .8-1 1.7-3.3 2.4-7 6.7-21.2 2.5-6.5 1.6-3.6 2.5-4 1.7-1.7 1.6-.9 1.7-.1 1.6,.7 .8,.6 1.7,1.9 2.5,4 2.5,5.5 4.1,11.6 8.3,26.7 2.5,6.8 1.6,3.6 1.7,2.6 .8,1 1.7,1 .8,.1 .8-.2 .9-.4 1.6-1.4 2.5-3.3 7.5-11.9 3.3-4.3 1.6-1.7 2.5-2.2 7.5-4.6 2.5-2 1.6-1.7 1.7-2.1 2.5-4.2 3.3-7.4 4.1-12.3 4.1-14.6 10-37.7 3.3-11.1 3.3-9.7 3.3-7.7 1.7-3 1.6-2.5 1.7-1.9 1.7-1.3 1.6-.6 1.7-.1 .8,.2 1.7,.9 1.6,1.5 1.7,2.1 1.6,2.6 1.7,3.2 3.3,8 3.3,9.7 3.3,11.2 4.2,15.4 9.1,35.7 3.3,12 2.5,8.2 3.3,9.4 2.5,5.7 2.4,4.4 2.5,3.2 1.7,1.5 1.6,1 1.7,.6 1.7,.2 3.3-.1 8.3-1.7 3.3-.5 3.3-.2 4.1,0 5,.5 5,.8 4.1,1.2 4.1,1.9 3.4,2.1 2.4,2 2.5,2.5 2.5,2.9 5,7.1 9.9,16.7 2.5,3.2 1.7,1.2 .8,.4 .8,.1 1.7-.5 .8-.6 1.7-1.7 3.3-4.9 6.6-11.6" stroke="#5fdcec" stroke-width="1.9" fill="none" stroke-linejoin="round"/>
<path d="M553.4,1657.4l.8,.1 1.7,.6 2.5,2 2.5,3.4 2.4,4.5 2.5,5.5 2.5,6.5 7.5,21.4 2.4,6.5 2.5,5.4 1.7,2.6 .8,1 1.7,1.3 .8,.2 1.7-.2 1.6-1.1 1.7-1.9 1.6-2.4 7.5-13 3.3-4.7 2.5-2.4 1.6-1 1.7-.5 .8,0 1.7,.3 1.6,.9 1.7,1.5 1.6,2 2.5,3.9 1.7,3.2 2.5,5.6 8.3,21.8 2.4,5.8 1.7,3 1.7,2 .8,.6 .8,.3 .8-.1 .9-.4 .8-.7 .8-.9 1.7-2.5 2.5-5 7.4-16.1 3.3-5.9 2.5-3.5 2.5-2.7 3.3-2.6 2.5-1.3 5.8-2.3 3.3-2.1 1.7-1.6 1.6-2 2.5-3.9 3.3-7 3.3-8.9 3.3-10.4 10.8-36 3.3-9.7 2.5-6.3 2.5-5.4 1.7-3 1.6-2.6 1.7-1.9 1.6-1.5 1.7-.9 1.6-.3 1.7,.2 1.7,.8 1.6,1.3 1.7,1.8 1.6,2.4 3.3,6.2 3.3,8 3.4,9.4 4.1,13.5 13.3,48.3 4.9,16.5 3.3,9.3 2.5,5.8 2.5,4.6 2.5,3.3 1.6,1.6 1.7,1 1.7,.5 1.6,.1 3.3-.6 9.1-3.7 4.2-1.2 4.1-.4 2.5,.2 2.5,.4 3.3,1 3.3,1.5 3.3,1.8 3.3,2.1 7.5,5.8 14.9,13 3.3,2.4 3.3,1.7 2.5,.8 1.7,.1 1.6-.1 1.7-.4 1.6-.7 2.5-1.3 5-3.8" stroke="#62e6c4" stroke-width="1.9" fill="none" stroke-linejoin="round"/>
<path d="M553.4,1640.3l.8,.1 1.7,.5 2.5,1.7 2.5,2.7 2.4,3.7 2.5,4.5 2.5,5.2 7.5,17.2 3.3,7.1 3.3,5.7 2.5,3.1 1.6,1.3 1.7,.7 1.6,.2 1.7-.3 1.7-.8 2.4-1.9 8.3-8.1 2.5-2 1.7-1.1 2.5-.9 2.4-.3 2.5,.6 1.7,.9 1.6,1.3 2.5,2.5 2.5,3.4 2.5,4.1 4.1,8 8.3,18 2.5,4.8 1.7,2.7 1.6,2.2 1.7,1.7 1.6,1 1.7,.3 1.6-.4 1.7-1 1.6-1.5 1.7-1.9 2.5-3.4 9.9-14.5 4.2-5.3 9.1-10.8 5-7 3.3-5.6 4.1-8.2 10.8-24.4 3.3-7 3.3-6.2 2.5-3.8 1.6-2.1 1.7-1.7 2.5-1.8 2.5-.8 2.5,.3 1.6,.7 1.7,1.2 1.6,1.7 1.7,2.2 3.3,5.6 3.3,7.1 3.3,8.6 3.3,9.6 13.3,43.1 5,14.8 3.3,8.3 2.4,5.1 2.5,3.9 2.5,2.4 .8,.6 1.7,.6 1.7,.1 1.6-.4 3.3-1.6 6.7-4.5 4.1-2.3 2.5-.9 1.6-.3 1.7-.2 2.5,0 1.6,.3 2.5,.7 4.2,2 4.1,2.9 8.3,6.5 3.3,2.1 3.3,1.4 1.7,.4 1.6,0 2.5-.5 3.3-1.7 3.3-2.4 8.3-7 2.5-1.7 2.5-1.3 2.5-.8 2.5-.1 2.4,.6 1.7,.7" stroke="#6ce68c" stroke-width="1.9" fill="none" stroke-linejoin="round"/>
<path d="M553.4,1654.8l2.5,.5 2.5,1.6 2.5,2.6 2.4,3.5 2.5,4.3 2.5,4.9 7.5,16.6 3.3,6.9 3.3,5.5 1.6,2.1 1.7,1.5 1.7,.9 1.6,.3 1.7-.2 1.6-.8 1.7-1.2 1.6-1.6 9.2-11 2.4-2.6 2.5-2.1 2.5-1.6 2.5-.9 2.5-.1 2.5,.5 1.6,.8 2.5,1.8 2.5,2.5 2.5,3.1 2.5,3.6 3.3,5.7 9.9,19.3 3.3,5.7 1.7,2.4 1.6,1.9 1.7,1.3 1.6,.7 1.7,0 .8-.3 1.7-1 1.6-1.7 2.5-3.4 4.2-7.4 10.7-21.2 4.2-7 3.3-4.7 2.5-2.9 1.6-1.6 3.3-2.5 3.4-1.5 1.6-.3 1.7-.1 2.5,.3 3.3,1.3 3.3,2.1 3.3,3 2.5,2.6 3.3,3.9 14.1,18.9 4.1,5 3.3,3.7 5,4.9 11.6,10.7 11.6,11.8 3.3,2.7 1.7,1 1.6,.8 1.7,.4 1.6,0 1.7-.4 1.6-.7 3.4-2.1 8.2-6.6 2.5-1.7 2.5-1.2 2.5-.8 2.5-.2 2.5,.2 1.6,.5 2.5,1.2 2.5,1.7 2.5,2.3 2.5,2.7 2.4,3.1 3.4,4.8 9.1,14.4 1.6,1.9 .9,.4 .8-.2 .8-.6 1.7-2.1 9.9-16.1 3.3-4.7 3.3-4 3.3-3.1 2.5-1.6 2.5-1 2.5-.2" stroke="#e2c42e" stroke-width="1.9" fill="none" stroke-linejoin="round"/>
<path d="M553.4,1753.3l7.5,.4 4.9,1 4.2,1.5 6.6,3.6 2.5,.9 1.6,0 1.7-.5 .8-.6 1.7-1.6 1.6-2.3 2.5-4.6 4.2-9.7 4.1-11.4 12.4-36.4 4.2-10.8 3.3-7.4 2.5-4.7 1.6-2.8 1.7-2.3 1.6-1.9 1.7-1.5 1.6-1.1 1.7-.6 1.7-.2 1.6,.2 1.7,.7 1.6,1.2 2.5,2.5 1.7,2.2 2.5,4.1 4.1,8.6 4.1,10.6 4.2,12.1 13.2,43.1 4.2,12.9 3.3,8.7 .8,1.5 .8,.6 .9-.3 1.6-2.7 5.8-12.7 4.2-7.9 3.3-5.4 3.3-4.5 4.1-4.3 4.2-3.1 4.1-1.9 4.2-.9 4.1,0 4.1,.8 4.2,1.7 2.5,1.4 2.4,1.7 4.2,3.5 5,5.1 4.1,4.9 7.5,9.4 2.4,2.8 1.7,1.6 1.7,1.2 1.6,.8 .8,.1 .9,.1 1.6-.4 1.7-.9 1.6-1.3 2.5-2.4 8.3-9 2.5-2.4 2.5-2 2.5-1.6 2.4-1.3 2.5-.7 1.7-.3 1.6-.1 2.5,.2 4.2,1.3 4.1,2.2 7.5,4.9 3.3,2 3.3,1.3 2.5,.3 2.5-.1 3.3-1 3.3-1.7 7.4-4.3 4.2-1.8 4.1-.9 2.5-.1 1.7,.2 3.3,.9 4.1,2.2 4.2,3.3 4.1,4.2" stroke="#e6922c" stroke-width="1.9" fill="none" stroke-linejoin="round"/>
<path d="M553.4,1767.9l2.5-.2 3.3-.8 3.3-1.5 3.3-2 3.3-2.5 4.2-3.5 12.4-12.1 5-4.3 3.3-2.4 2.5-1.4 2.5-1 2.4-.6 3.4,0 2.4,.7 2.5,1.1 2.5,1.8 2.5,2.2 2.5,2.8 2.5,3.2 5.8,8.2 2.4,2.9 1.7,1.3 .8,.4 .9,.1 .8-.2 .8-.4 1.7-1.5 2.5-3.7 2.4-4.5 7.5-14.6 5-8.5 2.4-3.4 1.7-2 2.5-2.3 1.6-1.2 1.7-.9 2.5-.7 1.6-.1 2.5,.3 1.7,.6 2.5,1.3 8.3,5.9 2.4,1.5 1.7,.7 1.7,.3 2.4,0 2.5-.9 1.7-1 1.6-1.4 3.3-3.3 7.5-8.5 3.3-3 3.3-2.1 1.7-.6 1.6-.3 1.7,.1 1.7,.4 1.6,.8 1.7,1.1 1.6,1.5 1.7,1.9 3.3,4.7 3.3,5.9 4.1,8.9 12.5,30.4 1.6,3.3 .9,1.3 .8,.8 .8,.3 .8-.2 1.7-1.9 7.5-13.1 2.4-3.7 2.5-3.1 2.5-2.5 2.5-1.7 1.6-.7 2.5-.5 2.5,.2 2.5,.9 2.5,1.6 3.3,3.1 2.5,2.9 3.3,4.6 9.9,16 1.7,1.8 .8,.2 .8-.4 1.7-2 8.3-12.8 3.3-4.5 2.5-2.9 3.3-3.2 2.5-1.9 3.3-1.7 2.5-.8 2.5-.3 3.3,.4 2.5,.8 3.3,1.6 4.9,3.6 9.2,8.2 4.1,3.2" stroke="#e66228" stroke-width="1.9" fill="none" stroke-linejoin="round"/>
<path d="M553.4,1769l.8-.2 .9-.4 1.6-1.3 7.5-8.5 4.1-3.9 2.5-1.6 1.7-.8 1.6-.5 1.7-.2 1.6,.1 1.7,.3 1.6,.7 2.5,1.5 1.7,1.4 2.5,2.5 5.8,7.1 1.6,1.7 .8,.6 .9,.3 .8-.1 .8-.4 1.7-1.8 1.6-2.5 11.6-21.9 3.3-5.5 2.5-3.6 3.3-3.9 2.5-2.1 1.7-1.1 1.6-.7 2.5-.5 2.5,.3 1.7,.6 1.6,.9 2.5,2 3.3,3.6 2.5,3.4 3.3,5.3 9.1,16.8 2.5,4.2 2.5,3.2 1.7,1.1 .8,.1 .8-.1 1.7-1 1.6-1.7 5.8-7 3.3-3.5 3.4-2.5 3.3-1.5 1.6-.4 1.7-.1 1.6,.2 2.5,.6 4.2,2.1 7.4,5.4 2.5,1.4 2.5,.9 2.5,.1 2.5-.8 2.4-1.5 9.2-7.8 4.1-2.9 2.5-1.3 1.6-.6 2.5-.5 1.7-.1 1.6,.2 2.5,.6 2.5,1.1 2.5,1.6 4.1,3.4 10,9.8 2.5,1.7 2.4,.8 .9,0 1.6-.3 2.5-1.2 2.5-1.9 7.4-6.4 2.5-1.9 2.5-1.6 2.5-1.2 2.5-.8 2.5-.3 1.6-.1 2.5,.4 3.3,1 2.5,1.2 3.3,2.1 5.8,4.9 13.3,13.1 2.5,1.9 1.6,.7 .8,.1 1.7-.3 9.9-5.8 4.2-1.7 3.3-.9 4.1-.3 3.3,.3 3.4,.8 4.1,1.7" stroke="#e4321c" stroke-width="1.9" fill="none" stroke-linejoin="round"/>
<circle cx="718.23" cy="1521.89" r="4.2" fill="#2331d6"/>
<circle cx="720.71" cy="1515.57" r="4.2" fill="#3a76e2"/>
<circle cx="725.68" cy="1529.88" r="4.2" fill="#4ba6e6"/>
<circle cx="721.54" cy="1577.06" r="4.2" fill="#5fdcec"/>
<circle cx="721.54" cy="1594.58" r="4.2" fill="#62e6c4"/>
<circle cx="723.19" cy="1622.66" r="4.2" fill="#6ce68c"/>
<circle cx="699.17" cy="1677.58" r="4.2" fill="#e2c42e"/>
</g>
<path d="M574.11,1774.60v-4.30M574.11,1471.35v4.30M594.81,1774.60v-4.30M594.81,1471.35v4.30M615.52,1774.60v-4.30M615.52,1471.35v4.30M636.23,1774.60v-4.30M636.23,1471.35v4.30M677.64,1774.60v-4.30M677.64,1471.35v4.30M698.35,1774.60v-4.30M698.35,1471.35v4.30M719.05,1774.60v-4.30M719.05,1471.35v4.30M739.76,1774.60v-4.30M739.76,1471.35v4.30M781.17,1774.60v-4.30M781.17,1471.35v4.30M801.88,1774.60v-4.30M801.88,1471.35v4.30M822.59,1774.60v-4.30M822.59,1471.35v4.30M843.29,1774.60v-4.30M843.29,1471.35v4.30M656.93,1774.60v-9.00M656.93,1471.35v9.00M760.47,1774.60v-9.00M760.47,1471.35v9.00M553.40,1761.96h4.30M864.00,1761.96h-4.30M553.40,1749.33h4.30M864.00,1749.33h-4.30M553.40,1736.69h4.30M864.00,1736.69h-4.30M553.40,1724.06h4.30M864.00,1724.06h-4.30M553.40,1698.79h4.30M864.00,1698.79h-4.30M553.40,1686.15h4.30M864.00,1686.15h-4.30M553.40,1673.52h4.30M864.00,1673.52h-4.30M553.40,1660.88h4.30M864.00,1660.88h-4.30M553.40,1635.61h4.30M864.00,1635.61h-4.30M553.40,1622.97h4.30M864.00,1622.97h-4.30M553.40,1610.34h4.30M864.00,1610.34h-4.30M553.40,1597.70h4.30M864.00,1597.70h-4.30M553.40,1572.43h4.30M864.00,1572.43h-4.30M553.40,1559.80h4.30M864.00,1559.80h-4.30M553.40,1547.16h4.30M864.00,1547.16h-4.30M553.40,1534.53h4.30M864.00,1534.53h-4.30M553.40,1509.26h4.30M864.00,1509.26h-4.30M553.40,1496.62h4.30M864.00,1496.62h-4.30M553.40,1483.99h4.30M864.00,1483.99h-4.30M553.40,1711.42h9.00M864.00,1711.42h-9.00M553.40,1648.25h9.00M864.00,1648.25h-9.00M553.40,1585.07h9.00M864.00,1585.07h-9.00M553.40,1521.89h9.00M864.00,1521.89h-9.00" stroke="#000" stroke-width="1.90" fill="none" stroke-linecap="round"/>
<rect x="553.40" y="1471.35" width="310.60" height="303.25" fill="none" stroke="#000" stroke-width="2.00"/>
<text x="553.40" y="1804.60" font-size="25.00" text-anchor="middle" font-weight="normal" letter-spacing="0.35">0</text>
<text x="656.93" y="1804.60" font-size="25.00" text-anchor="middle" font-weight="normal" letter-spacing="0.35">500</text>
<text x="760.47" y="1804.60" font-size="25.00" text-anchor="middle" font-weight="normal" letter-spacing="0.35">1000</text>
<text x="864.00" y="1804.60" font-size="25.00" text-anchor="middle" font-weight="normal" letter-spacing="0.35">1500</text>
<text x="538.80" y="1781.70" font-size="25.00" text-anchor="end" font-weight="normal" letter-spacing="0.35">0.00</text>
<text x="538.80" y="1718.52" font-size="25.00" text-anchor="end" font-weight="normal" letter-spacing="0.35">0.25</text>
<text x="538.80" y="1655.35" font-size="25.00" text-anchor="end" font-weight="normal" letter-spacing="0.35">0.50</text>
<text x="538.80" y="1592.17" font-size="25.00" text-anchor="end" font-weight="normal" letter-spacing="0.35">0.75</text>
<text x="538.80" y="1528.99" font-size="25.00" text-anchor="end" font-weight="normal" letter-spacing="0.35">1.00</text>
<text x="708.70" y="1846.40" font-size="26.00" text-anchor="middle" font-weight="normal">Frequency (T)</text>
<text transform="translate(469.10,1622.97) rotate(-90)" font-size="26.00" text-anchor="middle">FFT amplitude (a.u.)</text>
<text x="574.00" y="1516.30" font-size="19.50" text-anchor="start" font-weight="normal" letter-spacing="0.2">FFT window:</text>
<text font-size="19.5" y="1537.40"><tspan x="574.10">52</tspan><tspan x="599.70" y="1541.20" font-size="25.5">~</tspan><tspan x="617.70" y="1537.40">72</tspan><tspan x="642.60">T</tspan></text>
<text x="954.80" y="996.80" font-size="44.00" text-anchor="start" font-weight="bold">d</text>
<text x="1206.70" y="996.30" font-size="30.65" text-anchor="start" font-weight="normal">Tukey window with r = 0.2</text>
<rect x="1095.82" y="1050.85" width="272.61" height="303.25" fill="#f7f8f0"/>
<text x="1349.30" y="1096.90" font-size="18.30" text-anchor="end" font-weight="normal">15.0 K</text>
<text x="1349.30" y="1290.60" font-size="18.30" text-anchor="end" font-weight="normal">1.8 K</text>
<clipPath id="c13"><rect x="1057.40" y="1050.85" width="310.80" height="303.25"/></clipPath>
<g clip-path="url(#c13)">
<path d="M1095.8,1271.9l.8,1.3 1.2,3 4.3,15.2 1.9,5.1 .8,1.2 1.2,1.1 1.1,.3 2-.1 1.2,.2 1.1,.7 .8,.9 2,3.6 3.5,9.3 1.5,3.6 1.6,2.4 .8,.6 .7,.2 .8,0 .8-.4 3.5-2.8 1.2-.6 .8-.2 .7,.1 1.2,.3 2.7,1.6 1.2,.4 .8,.1 .8-.2 1.1-.8 2-2.7 4.7-9.7 1.9-3.1 2-2 3.9-2.1 1.5-1.3 2-2.4 3.9-6.5 1.5-2.2 2-1.8 .8-.4 1.1-.3 1.2,.1 4.7,1 5.5-.4 1.5,.4 1.2,.5 2.7,2.3 7.4,7.8 12.9,11.7 2.3,1.7 2,1 2.3,.7 2.4,.4 2.7,0 2.7-.3 2.4-.6 2.3-.9 3.9-2.4 10.5-8 6.7-4.4 3.5-1.9 2.7-1.1 2.7-.8 2.4-.3 2.7,.1 2.7,.4 2.8,.6 2.7,.9 3.5,1.6 9,5.5 6.2,3.2 5.9,2.3 2.7,.7 2.3,.4 2.8,.1 3.1-.3 3.9-.7 3.9-1 4.3-1.6 8.9-4.2 5.5-2.3 4.7-1.4 4.3-.6 2.7-.1 3.1,.3 9.8,1.7 4.3,1.2 8.5,3.2 4.3,1.3" stroke="#2331d6" stroke-width="3.5" fill="none" stroke-linejoin="round"/>
<path d="M1095.8,1251.3l2,4.6 4.3,13.1 1.5,3.5 .8,1.2 1.2,1.1 3.5,1.6 1.2,1 .7,.9 1.2,1.9 1.2,2.4 3.5,8.5 1.5,3.3 1.2,1.8 .8,.8 .8,.6 1.1,.4 1.2-.2 3.1-1.3 1.6-.4 1.9,.3 3.2,1.2 1.1,.3 1.6-.3 1.2-.8 1.1-1.3 1.2-1.8 4.7-8.6 2.3-3.5 1.6-1.6 3.5-2.9 1.9-2 2-2.7 3.9-6.1 1.9-2.5 2-1.5 1.2-.5 1.1-.2 4.7,.1 4.7-.2 1.9,.4 1.6,.7 2.7,2.2 7.1,7.6 13.6,12.9 2.3,1.7 2,1 1.9,.7 2.4,.4 2.3,.1 2.8-.3 2.3-.6 2.3-.9 4.7-2.8 16-11.4 3.1-2 2.8-1.3 2.3-.9 2.3-.5 2.8-.4 2.3,0 2,.2 3.9,1.2 3.1,1.4 10.1,5.4 10.2,5.6 3.5,1.3 3.9,.7 5.8,.1 2.7-.3 2.8-.6 3.1-1 6.6-2.7 6.7-2.4 8.9-3.7 3.1-.8 3.6-.4 7,0 5,.8 3.6,1 8.5,3.4 7.8,2" stroke="#3a76e2" stroke-width="3.5" fill="none" stroke-linejoin="round"/>
<path d="M1095.8,1230.3l2,4.2 3.9,9.9 1.5,3.3 1.6,2.4 3.5,3.8 2,2.7 1.9,3.5 4.3,9.1 2.3,3.8 1.6,1.7 1.9,1.1 9.4,1.7 1.6-.1 1.5-.5 1.2-.8 1.6-1.5 1.9-2.7 5.9-9.1 7-8.6 6.2-9.2 2.4-2.8 1.5-1.3 2-1 2.3-.6 3.1-.4 2.8-.2 2.3,.3 1.9,.6 2,1.2 3.5,3.1 13.7,14.7 5.8,5.7 2.3,1.8 2.4,1.2 2.3,.8 2.4,.4 2.7,0 2.3-.3 2.4-.6 2.3-1.1 3.9-2.6 12.1-9.8 5.9-4.2 2.7-1.5 2.7-1.1 3.1-.9 2.8-.3 2.3,0 2.3,.3 2.8,.7 2.7,1 7,3.5 10.6,6.5 3.5,1.9 4.6,1.8 4.7,.8 2.8,.1 2.7-.2 3.1-.6 3.5-1 7-2.6 9.8-4.7 4.7-2 3.5-1.1 3.5-.6 2.7,0 2.7,.3 9,1.7 8.2,2.3 10.5,3.5" stroke="#4ba6e6" stroke-width="3.5" fill="none" stroke-linejoin="round"/>
<path d="M1095.8,1210.8l2,3.5 5.4,11.1 1.6,2.5 4.7,6.6 5.8,10.6 2.4,3.7 2.3,2.7 2.3,1.6 3.2,1.2 3.5,.6 2.3,0 2.4-.7 1.9-1.2 2.3-2.1 2.8-3.1 8.2-10.7 8.5-11.6 2-2.3 1.6-1.5 1.9-1.4 2.3-1.2 3.2-1 3.1-.5 2.3,0 2,.5 1.9,1 2.4,1.6 5.4,5.1 10.9,11.7 2.8,2.5 2.7,2.1 2.7,1.7 2.4,1.1 2.3,.7 2.7,.4 2.4,.1 2.3-.3 2.4-.7 2.3-1.1 4.3-2.7 10.9-8.7 6.3-4.3 2.7-1.5 2.7-1.2 2.4-.7 2.7-.4 2.3,0 2.8,.3 2.7,.6 2.3,.8 4.3,2.1 10.9,6.7 5.1,2.7 5.9,2.2 2.7,.7 3.1,.5 4.7,0 4.3-.9 5.4-2 11.7-5.3 4.3-1.7 5.1-1.5 5.1-.6 6.6,0 3.9,.4 3.5,.6 4.3,1.1 14,4.7" stroke="#5fdcec" stroke-width="3.5" fill="none" stroke-linejoin="round"/>
<path d="M1095.8,1190.7l7.4,12.7 5.5,8.2 6.2,10.7 2.8,4 2.3,2.7 2.7,2.2 2.8,1.4 2.7,.6 2.3-.1 2-.5 1.9-1 2.4-1.7 2.3-2.3 2.7-3.2 13.7-18 3.9-4.5 2.3-2.1 2.4-1.4 2.7-1 2.7-.5 2.8,.1 2.3,.4 2.3,.9 2.8,1.6 2.7,2 2.7,2.5 12.5,12.5 3.9,3.5 2.4,1.6 2.3,1.3 2.3,.7 2.4,.4 2.3,.1 2.4-.2 2.3-.6 2.3-.9 3.9-2.4 16.4-11.9 3.1-2.1 2.4-1.2 1.9-.7 2.4-.5 2.7-.4 2.7,.1 2.8,.3 2.7,.6 2.7,.9 5.1,2.3 10.1,5.5 6.3,3.1 3.9,1.5 3.9,.8 3.1,.1 3.5-.1 3.1-.4 3.1-.7 4.3-1.5 11.3-4.8 5.5-2.1 4.7-1.3 4.3-.6 5.4,.1 5.5,.9 7.8,2 9,3.1 4.6,1.3" stroke="#62e6c4" stroke-width="3.5" fill="none" stroke-linejoin="round"/>
<path d="M1095.8,1168.8l2.4,3.6 5.4,9.7 5.5,8.8 5.1,8.7 3.1,4.7 2.3,2.7 2.7,2.3 2.8,1.4 3.1,.8 2.7-.1 2.4-.9 2.3-1.5 2.7-2.4 6.3-6.9 3.1-4 7-9.8 2.7-3.3 2.4-2.2 2.7-2.1 3.1-1.8 2.8-1.1 2.3-.4 2,0 1.9,.4 2.3,1 2,1.1 3.9,3.1 10.9,10.8 7,6.1 2.8,1.9 2.7,1.4 2.7,1 2.8,.5 2.7,0 2.3-.3 2.4-.7 2.7-1.1 4.3-2.6 9.7-7.4 6.3-3.8 3.9-2 3.1-1.4 2.7-.8 2.4-.3 1.9,0 2.4,.3 2.3,.5 2.3,.8 4.7,2.1 9.8,5.5 7.4,3.5 4.7,1.7 4.6,.8 4.3,.1 4.7-.9 11.3-3.5 9.4-4 3.5-1.3 4.7-1.1 5.8-.7 4.7,0 4.3,.7 5.8,1.7 11.3,3.7 4.3,1.1" stroke="#6ce68c" stroke-width="3.5" fill="none" stroke-linejoin="round"/>
<path d="M1095.8,1148.1l3.9,5.8 13.3,22.1 3.9,5.6 3.1,3.5 2.7,2.2 2.8,1.4 2.7,.6 2.3-.1 2-.6 1.9-.9 2.4-1.7 2.3-2.2 2.4-2.6 12.4-15.6 5.1-5.5 2.7-2.3 2.8-1.8 2.7-1.1 2.7-.6 2,0 1.9,.3 2,.7 2.3,1.2 2.4,1.5 2.7,2.2 12.5,11.1 5.4,4.3 2.8,1.7 2.7,1.3 2.7,.9 2.7,.4 2,0 2.3-.2 2.4-.6 2.3-.9 5.9-3.3 12.4-8.3 3.9-2.3 2.8-1.3 2.3-.8 2.4-.5 2.7-.3 2.3,0 2.8,.2 2.7,.6 2.7,.7 3.9,1.6 10.5,5.5 5.1,2.3 6.3,2.1 2.7,.7 2.3,.3 4.7-.1 5.5-1 6.6-2 9.7-3.6 6.3-2.1 4.7-1.1 4.3-.5 3.1-.1 3.1,.2 9.4,1.4 3.5,.8 8.2,2.5 4.6,1.1" stroke="#e2c42e" stroke-width="3.5" fill="none" stroke-linejoin="round"/>
<path d="M1095.8,1128.4l4.7,6.4 12.5,19.1 3.5,4.6 2.7,2.7 2.8,2 3.1,1.6 2.7,.6 2-.1 2.3-.6 2.3-1.2 2.4-1.5 3.5-2.9 3.5-3.3 10.9-12.2 3.9-3.7 2.7-2.1 2.8-1.5 2.7-1 2.7-.4 2,0 2.3,.4 2,.7 2.3,1 3.5,2.1 5.9,3.9 9.3,7.4 3.9,2.7 2.4,1.2 2.7,1.1 2.7,.7 2.4,.3 2.3,0 2.7-.3 3.2-.7 3.5-1.1 4.7-2.1 8.5-5.2 5.9-2.9 3.1-1.2 2.7-.8 2.8-.6 2.3-.3 2.3,.1 2.8,.3 8.2,1.9 5.8,1.8 9.8,4 3.5,1.2 3.9,.9 4.3,.6 8.2,0 5-.5 5.1-1.2 9-3.1 4.6-1.2 5.5-.9 7.8-.7 5.1,.2 8.6,1 16.3,3.5" stroke="#e6922c" stroke-width="3.5" fill="none" stroke-linejoin="round"/>
<path d="M1095.8,1111.3l4.7,5 12.1,14.2 3.9,4 2.7,2.1 3.1,1.8 2.8,1 2.7,.4 2,0 2.3-.5 1.9-.6 2.4-1.2 2.7-1.7 3.1-2.3 10.6-9 5-3.7 3.5-2 3.2-1.3 2.7-.9 2.7-.4 2,0 1.9,.3 3.9,1.3 3.9,1.8 12.9,7.3 7,3.5 4.7,1.7 4.3,.7 5.1-.2 4.6-.8 5.5-1.8 10.9-4.5 5.9-2.1 5-1.2 5.9-.6 5.8,.1 4.7,.5 3.9,1 16.4,4.8 5.1,1 4.6,.5 5.5-.1 10.1-1.1 6.7-1.1 11.7-2.3 5.4-.8 3.9-.3 5.1,.2 7.4,.9 11.3,1 7.4,.9" stroke="#e66228" stroke-width="3.5" fill="none" stroke-linejoin="round"/>
<path d="M1095.8,1092.7l5.5,4.5 10.5,10.4 3.9,3.2 2.7,1.6 2.8,1.1 3.5,1 3.1,.5 2,0 2.3-.4 2.3-.7 2.8-1 6.6-3.4 9.7-6.5 4.7-2.6 2.8-1.3 2.7-1 2.7-.6 2.4-.3 2.3,.1 2.3,.2 5.1,1.4 7.4,2.8 10.9,4.8 3.5,1.2 5.5,1.3 5.5,.6 4.6-.1 4.7-.7 5.5-1.3 11.7-3.6 3.9-1 7-1.3 5.5-.4 4.3,.1 4.2,.4 17.6,3.4 14.8,1.7 3.9-.1 13.7-1.3 14.8-2 7-.5 6.2,0 7.5,.4 20.2,2" stroke="#e4321c" stroke-width="3.5" fill="none" stroke-linejoin="round"/>
<path d="M1095.8,1276.8l2.4,3.1 2.3,3.6 11.3,19.9 2.7,4.3 2.4,3.3 2.7,3.2 2.7,2.5 2.8,1.6 2.7,.7 2.3-.1 2.4-.7 2.3-1.2 2.4-1.8 2.3-2.3 2.7-3.1 11.7-15.4 5.1-5.8 2.7-2.4 2.8-1.8 2.7-1.2 2.7-.6 2.4,.1 2.3,.5 2.3,1 2.4,1.4 2.3,1.7 2.8,2.3 11.3,11.3 5,4.4 2.8,1.9 2.7,1.4 2.7,1 2.8,.4 2.3,0 2.3-.3 2.4-.7 2.3-1 2.7-1.5 2.8-1.8 11.3-8.5 5.1-3.3 2.7-1.4 2.7-1 2.7-.8 2.8-.3 2.3,0 2.4,.3 2.3,.5 2.7,.9 5.1,2.3 10.9,6.2 4.7,2.4 5.1,1.9 5,1 2.4,.1 2.7-.1 5.5-1 5.4-1.8 11.3-4.9 5.1-1.9 5.1-1.3 5-.7 5.5,.1 5.9,.9 5,1.4 10.6,3.4 4.6,1.3" stroke="#111" stroke-width="1.8" stroke-dasharray="5.2,2.5" fill="none"/>
<path d="M1095.8,1254.3l2.4,3.2 2.3,3.7 11.3,20.4 2.7,4.5 2.4,3.4 2.7,3.3 2.7,2.5 2.8,1.7 2.7,.7 2.3-.1 2.4-.7 2.3-1.3 2.4-1.8 2.3-2.4 2.7-3.1 11.7-15.9 5.1-5.9 2.7-2.5 2.8-1.9 2.7-1.2 2.7-.6 2.4,.1 2.3,.5 2.3,1 2.4,1.4 2.3,1.8 2.8,2.4 11.3,11.6 5,4.5 2.8,2 2.7,1.4 2.7,1 2.8,.5 2.3,0 2.3-.4 2.4-.7 2.3-1 2.7-1.5 2.8-1.8 11.3-8.8 5.1-3.4 2.7-1.4 2.7-1.1 2.7-.8 2.8-.3 2.3,0 2.4,.2 2.3,.6 2.7,.9 5.1,2.4 10.9,6.4 4.7,2.4 5.1,2 2.7,.6 2.3,.4 2.4,.1 2.7-.1 2.7-.4 2.8-.6 5.4-1.9 11.3-5 5.1-1.9 5.1-1.4 5-.8 5.5,.1 5.9,1 5,1.4 10.6,3.5 4.6,1.4" stroke="#111" stroke-width="1.8" stroke-dasharray="5.2,2.5" fill="none"/>
<path d="M1095.8,1231.2l2.4,3.5 2.3,3.9 11.3,21.7 2.7,4.7 2.4,3.6 2.7,3.5 2.7,2.7 2.8,1.8 2.7,.8 2.3-.1 2.4-.8 2.3-1.4 2.4-1.9 2.3-2.5 2.7-3.4 11.7-16.8 5.1-6.3 2.7-2.6 2.8-2 2.7-1.3 2.7-.6 2.4,0 2.3,.6 2.3,1.1 2.4,1.5 2.3,1.8 2.8,2.6 11.3,12.3 5,4.8 2.8,2.1 2.7,1.5 2.7,1.1 2.8,.5 2.3,0 2.3-.4 2.4-.8 2.3-1 2.7-1.7 2.8-1.9 11.3-9.3 5.1-3.6 2.7-1.5 2.7-1.2 2.7-.8 2.8-.4 2.3,0 2.4,.3 2.3,.6 2.7,1 5.1,2.5 10.9,6.8 4.7,2.6 5.1,2 2.7,.8 2.3,.3 2.4,.2 2.7-.1 2.7-.5 2.8-.6 5.4-2 11.3-5.3 5.1-2.1 5.1-1.5 5-.7 5.5,.1 5.9,1 5,1.5 10.6,3.7 4.6,1.5" stroke="#111" stroke-width="1.8" stroke-dasharray="5.2,2.5" fill="none"/>
<path d="M1095.8,1210.6l2.4,3.3 2.3,3.8 11.3,20.8 2.7,4.6 2.4,3.4 2.7,3.4 2.7,2.6 2.8,1.7 2.7,.8 2.3-.1 2.4-.7 2.3-1.4 2.4-1.9 2.3-2.3 2.7-3.3 11.7-16.2 5.1-6.1 2.7-2.5 2.8-1.9 2.7-1.3 2.7-.5 2.4,0 2.3,.6 2.3,1 2.4,1.4 2.3,1.8 2.8,2.5 11.3,11.9 5,4.6 2.8,1.9 2.7,1.5 2.7,1.1 2.8,.5 2.3,0 2.3-.4 2.4-.7 2.3-1.1 2.7-1.5 2.8-1.9 11.3-8.9 5.1-3.5 2.7-1.5 2.7-1.1 2.7-.8 2.8-.3 2.3,0 2.4,.2 2.3,.6 2.7,.9 5.1,2.5 10.9,6.5 4.7,2.5 5.1,2 2.7,.7 2.3,.3 2.4,.1 2.7-.1 2.7-.4 2.8-.6 5.4-1.9 11.3-5.1 5.1-2 5.1-1.5 5-.7 5.5,.1 5.9,1 5,1.4 10.6,3.6 4.6,1.4" stroke="#111" stroke-width="1.8" stroke-dasharray="5.2,2.5" fill="none"/>
<path d="M1095.8,1189.8l2.4,3.2 2.3,3.7 11.3,20.1 2.7,4.4 2.4,3.3 2.7,3.3 2.7,2.4 2.8,1.7 2.7,.7 2.3-.1 2.4-.7 2.3-1.2 2.4-1.9 2.3-2.3 2.7-3.1 11.7-15.6 5.1-5.8 2.7-2.5 2.8-1.8 2.7-1.3 2.7-.5 2.4,.1 2.3,.5 2.3,1 2.4,1.4 2.3,1.7 2.8,2.4 11.3,11.4 5,4.4 2.8,1.9 2.7,1.5 2.7,1 2.8,.5 2.3,0 2.3-.4 2.4-.7 2.3-1 2.7-1.5 2.8-1.8 11.3-8.6 5.1-3.4 2.7-1.4 2.7-1.1 2.7-.7 2.8-.4 2.3,0 2.4,.3 2.3,.6 2.7,.9 5.1,2.3 10.9,6.3 4.7,2.4 5.1,1.9 5,1 2.4,.1 2.7-.1 2.7-.4 2.8-.6 5.4-1.8 11.3-4.9 5.1-2 5.1-1.3 5-.7 5.5,0 5.9,1 5,1.4 10.6,3.4 4.6,1.4" stroke="#111" stroke-width="1.8" stroke-dasharray="5.2,2.5" fill="none"/>
<path d="M1095.8,1168l2.4,3.2 2.3,3.7 10.9,19.6 2.8,4.4 2.3,3.4 3.1,3.8 2.7,2.5 2.8,1.6 2.7,.7 2.3,0 2.4-.8 2.3-1.3 2.4-1.8 2.3-2.3 2.7-3.1 11.3-15.1 5.1-5.8 3.1-2.8 2.8-1.8 2.7-1.2 2.7-.6 2.4,.1 2.3,.6 2.3,.9 2.4,1.4 2.3,1.7 2.8,2.4 11.3,11.2 5,4.3 2.8,1.9 2.7,1.4 2.7,.9 2.4,.5 2.3,0 2.3-.3 2.4-.6 2.7-1.1 5.5-3.3 11.3-8.3 5.1-3.3 2.7-1.3 2.7-1.1 2.7-.7 2.8-.3 2.3,0 2.4,.3 2.3,.5 2.7,.9 5.1,2.3 10.9,6 4.7,2.3 5.1,1.8 5,.9 5.1,0 5.5-.9 5.4-1.8 11.3-4.6 5.1-1.8 5.1-1.4 5-.6 5.5,.1 5.9,.9 4.6,1.2 15.6,4.6" stroke="#111" stroke-width="1.8" stroke-dasharray="5.2,2.5" fill="none"/>
<path d="M1095.8,1147.1l2.4,3.2 2.3,3.6 10.9,18.8 2.8,4.3 2.3,3.3 3.1,3.6 2.7,2.4 2.8,1.5 2.7,.7 2-.1 2.3-.6 2.3-1.2 2.4-1.6 2.7-2.6 2.7-2.9 11.3-14.3 5.1-5.5 3.1-2.7 2.8-1.7 2.7-1.1 2.7-.5 2,.1 2.3,.4 2.4,.9 2.3,1.2 2.7,1.9 2.8,2.2 10.9,10.1 5,4.1 2.8,1.8 2.7,1.3 2.7,.9 2.8,.5 2.3,0 2.3-.2 2.4-.6 2.7-1.1 5.5-2.9 10.9-7.4 5.1-3 2.7-1.3 2.7-1 2.8-.7 2.7-.3 4.7,.2 5,1.2 5.5,2.2 10.9,5.4 4.7,2 5.1,1.6 5,.9 5.1,0 5.5-.9 5.4-1.6 11.3-4.1 4.7-1.4 5.5-1.3 5-.6 5.5,.1 5.9,.8 20.2,5.1" stroke="#111" stroke-width="1.8" stroke-dasharray="5.2,2.5" fill="none"/>
<path d="M1095.8,1127.7l4.3,5.6 10.9,16.9 2.8,3.8 2.7,3.4 3.1,3.2 2.7,2.1 2.8,1.3 2.7,.6 2-.1 2.3-.5 2.3-1.1 2.4-1.5 2.3-1.9 2.7-2.6 11.4-12.4 5.4-5.2 2.7-2.1 2.8-1.5 2.7-1 2.7-.5 2.4,.1 2.3,.4 2.4,.7 2.3,1.1 5.1,3.2 11.3,8.9 5,3.5 2.8,1.5 2.7,1.1 2.7,.8 2.8,.4 2.3,0 2.3-.3 4.7-1.2 5.5-2.5 11.3-6.3 5.1-2.5 5.4-1.9 2.8-.5 2.7-.3 4.7,.2 5,1 5.1,1.7 10.9,4.4 5.1,1.8 5.1,1.3 5,.6 5.1,0 5.5-.7 5.4-1.3 10.9-3.1 5.1-1.3 5.1-.9 5.1-.5 5.4,.1 5.9,.6 20.6,3.9" stroke="#111" stroke-width="1.8" stroke-dasharray="5.2,2.5" fill="none"/>
<path d="M1095.8,1110.3l5.1,5.3 10.9,13.3 4.7,4.8 3.1,2.4 2.7,1.6 2.8,1 2.7,.4 2,0 2.3-.5 2.3-.8 2.4-1.2 5-3.5 11.4-9.5 5-3.7 3.1-1.8 2.8-1.1 2.7-.8 2.7-.3 4.3,.3 4.7,1.3 5.1,2.4 11.7,6.8 5,2.6 5.5,1.9 2.7,.6 2.8,.3 4.6-.2 4.7-1 5.5-1.8 10.9-4.5 5.1-1.8 5.4-1.4 5.5-.6 4.7,.1 5,.7 5.5,1.2 15.6,4.4 5.1,.9 5,.5 5.1,0 5.5-.5 5.4-.8 16-3.1 5.5-.7 5.1-.3 5.4,0 5.9,.4 20.6,2.7" stroke="#111" stroke-width="1.8" stroke-dasharray="5.2,2.5" fill="none"/>
<path d="M1095.8,1092l5.1,4.2 10.5,10.1 4.7,3.7 3.1,2 2.8,1.3 2.7,.8 2.7,.4 2,0 2.3-.3 2.3-.6 2.4-.9 5.1-2.6 11.3-7.3 5-2.9 3.2-1.4 2.7-.9 2.7-.6 2.7-.3 4.7,.2 4.7,1 5.1,1.8 11.3,5 5.1,2 5.4,1.4 5.5,.7 4.7-.1 4.6-.7 5.5-1.3 11.3-3.4 5.1-1.3 5.4-1 5.5-.4 4.7,.1 5,.5 5.1,.8 16,3.1 5.1,.7 5,.4 5.1,0 5.5-.4 21-2.7 10.6-.7 5.4,0 5.9,.3 21,1.8" stroke="#111" stroke-width="1.8" stroke-dasharray="5.2,2.5" fill="none"/>
<path d="M1095.8,1299.9l.7-.3 .7-1 .7-1.7 1.3-5.2 1.4-7.8 2.1-15.8 3.4-35.3 7.5-90.8 2-21.2 1.4-11.9 2.1-14.1 1.3-6.4 1.4-3.8 .7-1 .7-.3 217.9,0 .7,.3 .7,1 .7,1.6 .6,2.2 1.4,6.4 1.4,8.8 2,17.2 2.8,28.9 7.5,90.8 2,21.3 1.4,12.1 2,14.2 1.4,6.5 1.4,4 .7,1 .6,.3" stroke="#000" stroke-width="4.6" fill="none" stroke-linejoin="round" stroke-linecap="round"/>
</g>
<path d="M1069.34,1354.10v-4.30M1069.34,1050.85v4.30M1097.38,1354.10v-4.30M1097.38,1050.85v4.30M1125.42,1354.10v-4.30M1125.42,1050.85v4.30M1153.46,1354.10v-4.30M1153.46,1050.85v4.30M1209.54,1354.10v-4.30M1209.54,1050.85v4.30M1237.58,1354.10v-4.30M1237.58,1050.85v4.30M1265.62,1354.10v-4.30M1265.62,1050.85v4.30M1293.66,1354.10v-4.30M1293.66,1050.85v4.30M1349.74,1354.10v-4.30M1349.74,1050.85v4.30M1181.50,1354.10v-9.00M1181.50,1050.85v9.00M1321.70,1354.10v-9.00M1321.70,1050.85v9.00M1057.40,1343.27h4.30M1368.20,1343.27h-4.30M1057.40,1321.61h4.30M1368.20,1321.61h-4.30M1057.40,1278.29h4.30M1368.20,1278.29h-4.30M1057.40,1256.63h4.30M1368.20,1256.63h-4.30M1057.40,1234.97h4.30M1368.20,1234.97h-4.30M1057.40,1213.31h4.30M1368.20,1213.31h-4.30M1057.40,1169.98h4.30M1368.20,1169.98h-4.30M1057.40,1148.32h4.30M1368.20,1148.32h-4.30M1057.40,1126.66h4.30M1368.20,1126.66h-4.30M1057.40,1105.00h4.30M1368.20,1105.00h-4.30M1057.40,1061.68h4.30M1368.20,1061.68h-4.30M1057.40,1299.95h9.00M1368.20,1299.95h-9.00M1057.40,1191.64h9.00M1368.20,1191.64h-9.00M1057.40,1083.34h9.00M1368.20,1083.34h-9.00" stroke="#000" stroke-width="1.90" fill="none" stroke-linecap="round"/>
<rect x="1057.40" y="1050.85" width="310.80" height="303.25" fill="none" stroke="#000" stroke-width="2.00"/>
<text x="1181.50" y="1384.10" font-size="25.00" text-anchor="middle" font-weight="normal" letter-spacing="0.35">0.02</text>
<text x="1321.70" y="1384.10" font-size="25.00" text-anchor="middle" font-weight="normal" letter-spacing="0.35">0.03</text>
<text x="1043.30" y="1306.55" font-size="25.00" text-anchor="end" font-weight="normal" letter-spacing="0.35">0</text>
<text x="1043.30" y="1198.24" font-size="25.00" text-anchor="end" font-weight="normal" letter-spacing="0.35">50</text>
<text x="1043.30" y="1089.94" font-size="25.00" text-anchor="end" font-weight="normal" letter-spacing="0.35">100</text>
<text x="1230.80" y="1333.80" font-size="17.50" text-anchor="middle" font-weight="bold">FFT window</text>
<path d="M1096.12,1339.00H1365.90 M1096.12,1339.00l12.3,-5.4 M1096.12,1339.00l12.3,5.4 M1365.90,1339.00l-12.3,-5.4 M1365.90,1339.00l-12.3,5.4" stroke="#000" stroke-width="2.6" fill="none" stroke-linecap="round" stroke-linejoin="round"/>
<text font-size="25"><tspan x="1163.30" y="1437.90">B</tspan><tspan x="1181.30" y="1419.80" font-size="16.5">−1</tspan><tspan x="1206.10" y="1437.90">(T</tspan><tspan x="1231.60" y="1419.80" font-size="16.5">−1</tspan><tspan x="1253.80" y="1437.90">)</tspan></text>
<text transform="translate(971.20,1252.00) rotate(-90)" font-size="25"><tspan x="0" y="0">ΔR</tspan><tspan x="36.3" y="8" font-size="17.5">xx</tspan><tspan x="60.4" y="0">(Ω)</tspan></text>
<clipPath id="c14"><rect x="1483.70" y="1050.85" width="310.60" height="303.25"/></clipPath>
<g clip-path="url(#c14)">
<path d="M1483.7,1353.9l1.7-24.8 1.6-21.1 1.7-14.3 .8-4 .8-1.7 .9,.4 .8,2.3 2.5,12.3 .8,2.7 .8,.1 .9-2.8 .8-5.1 2.5-18.4 .8-4.3 .8-2.5 .9-.6 .8,1.1 1.6,4.4 .9,.8 .8-2.3 .8-6.8 1.7-26.6 3.3-75.9 1.6-33.3 1.7-22.9 .8-6.4 .9-2.8 .8,.9 .8,4.6 .8,8.1 .9,11.3 1.6,30.7 4.2,96.4 1.6,30 .9,9.4 .8,4.9 .8,1.1 .8-1.3 1.7-3.4 .8-.3 .9,1 .8,2.6 .8,3.7 3.3,20.3 .9,3.5 .8,1.9 .8,0 .8-1.2 1.7-3.4 .8-1.2 .8-.5 .9,.3 .8,1 .8,1.6 2.5,6.2 .8,1.6 .9,1 .8,.5 2.5-.1 .8,.3 .8,.7 .9,1.2 1.6,3.9 2.5,7.2 .8,1.2 .9-.3 3.3-6.8 .8-1.1 .8-.4 .9,.2 .8,.7 .8,1.2 4.2,10 .8,.1 3.3-5.9 .8-.9 .9-.4 .8-.1 .8,.2 .8,.5 2.5,2.1 .9,.4 .8,.1 .8-.2 2.5-1 1.7,0 1.6,.9 2.5,2.1 .8,.4 .9,0 .8-.4 3.3-2.5 .8-.3 .9,.1 .8,.2 1.6,1.3 3.4,4.1 .8,.7 .8-.1 2.5-1.7 1.7-.6 1.6,.4 3.3,2.6 .8,.3 .9-.4 2.5-1.9 1.6-.5 1.7,.3 1.6,.9 .9,.2 .8-.3 .8-.8 3.3-4.9 1.7-2 1.6-1.2 .9-.2 .8,.1 .8,.3 1.7,1.3 4.1,5.3 1.7,1.6 .8,.3 .8,0 2.5-.6 1.7,.1 4.1,2 .8-.1 .9-.4 2.5-1.7 1.6-.8 .8-.3 1.7-.1 2.5,.7 6.6,3.7 .8,.2 2.5-1.5 5.8-4 2.5-1.1 1.7-.2 1.6,.2 2.5,1.1 5.8,4.8 .8,.5 .9-.1 2.4-1.1 1.7-.2 5,.4 1.6-.4 3.3-1.5 2.5-.5 1.7,.1 1.6,.5 5.8,3 .9,0 2.5-.8 2.4-.3 2.5,.4 3.3,.9 3.3-.7 2.5-.2 2.5,.3 3.3,.6 5.8-.6 5.8,.6 5.8-.4 6.6,.4 5-.2 5.8,.3 8.3-.1" stroke="#2331d6" stroke-width="1.9" fill="none" stroke-linejoin="round"/>
<path d="M1483.7,1346.2l.8-7.6 2.5-33.6 1.7-14.9 .8-4.1 .8-1.7 .9,.5 .8,2.5 2.5,13.8 .8,3.2 .8,.5 .9-2.6 .8-5.3 2.5-19.6 .8-4.6 .8-2.8 .9-.8 .8,1 1.6,4.8 .9,1.1 .8-2 .8-6.7 .8-11.4 .9-15.6 3.3-78.6 1.6-34.7 1.7-23.8 .8-6.7 .9-2.9 .8,1 .8,4.8 .8,8.4 .9,11.9 1.6,32 4.2,99.6 1.6,30 .9,9 .8,4.4 .8,.7 1.7-3.2 .8-1.1 .8,.1 .9,1.7 .8,3.1 .8,4.4 3.3,21.2 .9,2.9 .8,.9 .8-.9 2.5-5.2 .8-.6 .8,.4 .9,1.3 .8,2.3 2.5,9.2 .8,2.2 .8,.7 .9-.8 3.3-9.2 .8-1.3 .8-.5 .9,.4 .8,1.2 .8,2.1 1.7,6.1 2.5,10.8 .8,2.6 .8,.8 .9-.8 1.6-3.3 .8-1.3 .9-.7 .8,0 .8,.5 .9,1 2.4,4.6 .9,1 .8,.1 .8-.9 2.5-4 .8-.9 .9-.5 .8-.2 .8,.3 .8,.7 3.4,4.4 .8,.7 .8,.4 .8-.2 2.5-1.4 1.7-.3 .8,.1 3.3,1.4 .9,.1 1.6-.7 2.5-1.6 1.7-.4 .8,.1 1.6,.9 3.4,3.3 .8,.6 .8,.4 .8,0 3.4-1.5 1.6-.2 1.7,.3 2.4,1 1.7,.4 7.5-.3 .8-.3 1.6-1 4.2-3.3 1.6-.8 1.7,0 .8,.2 1.7,1 1.6,1.7 3.4,4.1 .8,.9 .8,.2 .8-.6 2.5-2.4 1.7-1.2 1.6-.7 1.7-.2 2.5,.5 6.6,3.3 1.7,.3 4.9-.2 1.7,.2 3.3,1.1 .8,.1 1.7-.8 4.1-3.1 1.7-1 1.6-.7 1.7-.3 1.7,.2 1.6,.6 1.7,.9 5.8,3.9 1.6,.6 .8,.1 5.8-.4 5.8-1.4 3.4-.3 3.3,.4 7.4,2.1 5.8-.6 2.5,.1 5,.6 4.9-.4 6.7,.5 5.8-.4 5.8,.4 5.8-.2 5.8,.2 4.9-.2 5.8,.3 5-.2" stroke="#3a76e2" stroke-width="1.9" fill="none" stroke-linejoin="round"/>
<path d="M1483.7,1349.2l3.3-46.4 1.7-15.8 .8-4.3 .8-1.9 .9,.5 .8,2.6 2.5,14.1 .8,3.3 .8,.4 .9-2.8 .8-5.4 2.5-20.3 .8-4.8 .8-2.8 .9-.8 .8,1 1.6,4.6 .9,.8 .8-2.6 .8-7.3 1.7-28.9 3.3-82.8 1.6-36.3 1.7-24.8 .8-7 .9-3 .8,1.1 .8,5.1 .8,8.9 .9,12.4 1.6,33.6 4.2,105 1.6,32.4 .9,10.1 .8,5.1 .8,1.1 .8-1.3 1.7-3.5 .8-.2 .9,1.4 .8,2.9 .8,4.2 3.3,22.4 .9,3.9 .8,1.9 .8-.1 .8-1.3 1.7-3.6 .8-1.2 .8-.2 .9,.6 .8,1.5 .8,2.1 2.5,8.2 .8,2 .9,1.3 .8,.3 .8-.4 1.7-1.2 .8-.3 .8,.3 .9,.9 .8,1.5 3.3,8.7 .8,1.1 .9-.2 .8-1.5 2.5-5.4 .8-1.1 .8-.5 .9,0 .8,.7 .8,1.1 3.3,7.1 .9,1 .8,0 .8-.8 2.5-4 .8-.9 .9-.6 .8-.1 .8,.2 .8,.6 3.4,4 1.6,1.3 .8,.2 3.4-.8 1.6,0 5,2.2 5,.6 1.6,.9 3.3,2.8 .9,.4 .8-.1 2.5-1.9 1.6-1.1 1.7-.4 .8,.1 1.7,.5 1.6,1.1 2.5,2.1 .8,.4 .9-.3 4.1-4 1.7-1.4 1.6-.9 1.7-.4 1.6,.2 1.7,.8 4.1,3.5 1.7,.9 .8,0 4.2-1.7 1.6-.1 1.7,.5 4.1,2.1 .8,.1 .9-.1 3.3-1.2 1.6-.1 2.5,.6 4.2,2 .8-.1 2.5-1.1 2.5-.4 2.4,.5 2.5,1.3 .9,.1 4.1-3.1 2.5-1.6 2.5-.9 1.6-.2 1.7,.3 1.6,.5 2.5,1.3 4.2,2.6 1.6,.8 .8,.2 4.2-.5 6.6,.2 3.3-.1 2.5-.5 5-1.4 3.3-.4 3.3,.6 4.1,1.6 1.7,.4 3.3-.6 2.5-.2 5.8,.8 5.8-.4 6.6,.5 5-.2 5.8,.3 5.8-.2 5.8,.3 9.1,0" stroke="#4ba6e6" stroke-width="1.9" fill="none" stroke-linejoin="round"/>
<path d="M1483.7,1351.7l3.3-46.2 1.7-15.1 .8-4.2 .8-1.8 .9,.4 .8,2.3 2.5,12.9 .8,2.9 .8,.2 .9-2.8 .8-5.2 2.5-19.1 .8-4.5 .8-2.6 .9-.6 .8,1.1 1.6,4.6 .9,.9 .8-2.4 .8-7.1 1.7-27.9 3.3-79.9 1.6-35 1.7-24.1 .8-6.8 .9-3 .8,1 .8,4.8 .8,8.5 .9,11.9 1.6,32.4 4.2,101.5 1.6,31.4 .9,9.7 .8,4.9 .8,.9 2.5-5 .8-.2 .9,1.3 .8,2.9 .8,4.2 3.3,22.2 .9,3.6 .8,1.5 .8-.4 2.5-5.7 .8-1.1 .8-.2 .9,.8 .8,1.8 .8,2.6 2.5,9.6 .8,2.3 .9,.9 .8-.4 2.5-5.4 .8-1.4 .8-.8 .9,0 .8,.7 .8,1.5 .9,2 3.3,10.7 .8,1.7 .8,.5 .9-.7 2.4-3.7 .9-.7 .8-.2 .8,.2 .9,.5 2.4,2.4 .9,.4 .8,0 .8-.4 2.5-2.2 .8-.4 .9-.2 .8,.1 .8,.5 .8,.8 3.4,5 .8,1 .8,.6 .8-.1 3.4-2.5 1.6-.6 .8,0 1.7,.7 3.3,2.5 1.7,1 2.5,.6 4.1,.1 4.1-1 1.7-.2 1.7,.2 3.3,1.2 1.6,.4 .8,0 3.4-1.1 1.6-.3 1.7,.1 3.3,.6 1.6-.3 4.2-1.9 1.6-.3 1.7,.2 1.7,.8 4.1,3.4 .8,.4 .9,0 4.1-2.3 2.5-.5 1.6,.2 1.7,.5 5,2.3 2.4,.8 4.2-.1 4.1,.3 3.3-.4 2.5-.1 5,.4 8.3-2.2 2.5-.3 1.6-.1 3.3,.5 5.8,2 .9,.1 4.1-.6 1.7,.1 2.4,.6 5.8-2.1 1.7-.5 1.7-.1 1.6,.1 1.7,.3 5.8,2 4.1-.6 1.7,0 5.8,.7 5.8-.4 5.8,.5 5.8-.3 5.8,.4 5.7-.2 5.8,.2 5.8-.1 7.5,.2" stroke="#5fdcec" stroke-width="1.9" fill="none" stroke-linejoin="round"/>
<path d="M1483.7,1352.9l3.3-45.5 1.7-14.5 .8-4.1 .8-1.7 .9,.3 .8,2.3 2.5,12.4 .8,2.8 .8,.2 .9-2.7 .8-5.1 2.5-18.5 .8-4.3 .8-2.5 .9-.7 .8,.9 1.6,4.3 .9,.6 .8-2.4 .8-6.9 1.7-26.8 3.3-76.7 1.6-33.7 1.7-23.1 .8-6.5 .9-2.8 .8,.9 .8,4.7 .8,8.2 .9,11.6 1.6,31.3 4.2,97.9 1.6,30.3 .9,9.3 .8,4.7 .8,.8 2.5-4.8 .8-.1 .9,1.3 .8,2.9 .8,4.2 2.5,16.8 .8,5 .9,3.6 .8,1.4 .8-.6 2.5-5.9 .8-1.1 .8-.1 .9,.9 .8,1.8 .8,2.7 2.5,10.4 .8,2.5 .9,1.1 .8-.7 3.3-8.2 .8-1.1 .9-.4 .8,.4 .8,1 .9,1.5 2.4,5.9 .9,1.5 .8,.9 .8,.2 .9-.3 2.4-1.8 .9-.2 .8,.3 1.7,1.7 2.4,3.8 .9,.8 .8,.1 .8-.5 3.3-3.8 .9-.5 .8-.1 .8,.2 .8,.5 1.7,1.8 2.5,3.4 .8,.8 .8,.3 .9,0 3.3-1.2 1.6,0 1.7,.7 3.3,2.4 1.7,.6 1.6-.1 4.2-.9 2.5,0 2.4,.3 11.6,2 2.5,1.1 2.5,1.6 4.1-3.5 1.7-1.2 1.7-.7 1.6-.2 .8,.2 1.7,.6 4.1,3 1.7,.7 .8-.1 3.3-1.2 2.5-.2 1.7,.3 4.1,1.2 1.7,.2 3.3-.4 2.5,0 2.5,.4 3.3,1 .8,0 2.5-.5 1.6-.2 4.2,.5 1.6-.5 5.8-2.4 1.7-.4 1.7-.1 2.4,.4 6.7,2.4 2.4,.4 5-.2 5.8-1.2 3.3-.3 3.3,.3 5.8,1.4 2.5,.4 4.2-.2 4.9,.2 54.7,0" stroke="#62e6c4" stroke-width="1.9" fill="none" stroke-linejoin="round"/>
<path d="M1483.7,1352.3l3.3-44.5 1.7-14.5 .8-4 .8-1.9 .9,.3 .8,2.1 2.5,11.9 .8,2.6 .8,.2 .9-2.6 .8-4.8 2.5-18 .8-4.3 .8-2.6 .9-.8 .8,.8 1.6,3.7 .9,.5 .8-2.5 .8-6.6 1.7-25.8 3.3-73.9 1.6-32.6 1.7-22.3 .8-6.3 .9-2.7 .8,.9 .8,4.6 .8,8 .9,11.2 1.6,30.3 4.2,94.3 1.6,29 .9,9 .8,4.8 .8,1.3 .8-.9 1.7-2.7 .8,0 .9,1.4 .8,2.6 .8,3.9 3.3,20 .9,3.3 .8,1.6 .8,0 2.5-4.2 .8-.8 .8-.1 .9,.7 .8,1.5 3.3,10 .8,2 .9,1 .8,.2 .8-.6 1.7-1.7 .8-.5 .8,0 .9,.5 .8,1.1 .8,1.6 2.5,5.7 .8,1.2 .9,.2 .8-.8 2.5-4 .8-.9 .8-.5 .9,.1 .8,.5 .8,1 3.3,5.9 .9,.8 .8,0 .8-.7 2.5-3.2 .8-.8 .9-.3 .8,0 .8,.4 .8,.7 3.4,4.3 .8,.8 .8,.3 .8-.2 3.4-1.9 1.6,0 1.7,.8 3.3,2.9 .8,.4 .8,.1 .9-.2 2.5-1.2 1.6-.4 1.7,.1 3.3,1.1 1.6,.3 5-.3 1.7,.1 4.9,1.5 1.7,.2 1.6-.1 5-1.3 2.5-.2 1.7,.3 1.6,.5 5,2.9 1.6,.7 3.4-.8 4.9-.3 5-1 2.5-.2 2.5,.3 6.6,2 5.8-.3 5.8,0 5,.4 6.6-1.9 4.1-.5 4.2,.4 9.1,2 7.4-1.3 3.3-.1 3.4,.2 6.6,1.1 5.8-.3 5.8,.3 5.8-.1 5.8,.2 38.9,.2" stroke="#6ce68c" stroke-width="1.9" fill="none" stroke-linejoin="round"/>
<path d="M1483.7,1348.1l.8-7.2 2.5-30 1.7-13.4 .8-3.9 .8-1.9 .9,.1 .8,1.7 2.5,9.7 .8,2 .8,0 .9-2.4 .8-4.3 2.5-16 .8-3.9 .8-2.4 .9-.9 .8,.5 1.6,2.7 .9,.1 .8-2.6 .8-6.2 1.7-23.3 3.3-67 1.6-29.6 1.7-20.3 .8-5.7 .9-2.4 .8,.9 .8,4.3 .8,7.4 .9,10.2 1.6,27.8 4.2,85.9 1.6,26.1 .9,8.2 .8,4.5 .8,1.5 .8-.4 .9-1.1 .8-.6 .8,.3 .9,1.4 .8,2.6 .8,3.7 2.5,14 .8,4 .9,2.9 .8,1.4 .8-.1 2.5-3.4 .8-.7 .8,.1 .9,.8 .8,1.6 3.3,9.4 .8,1.6 .9,.7 .8-.2 2.5-3.2 .8-.7 .8-.2 .9,.4 .8,1 .8,1.6 3.3,8.7 .9,1.5 .8,.4 .8-.7 2.5-3.8 .8-.9 .9-.5 .8,0 .8,.3 .9,.8 3.3,4.6 .8,.7 .8,.4 .9-.2 2.4-1.3 1.7-.4 1.6,.4 2.5,1.2 1.7,.4 .8-.1 2.5-.7 1.7-.2 1.6,.4 3.3,1.7 1.7,.5 4.1-.4 1.7,.2 1.6,.7 2.5,1.5 1.7,.6 1.6-.2 2.5-.9 1.7-.3 2.5,.4 3.3,1.3 1.6,.4 1.7-.2 3.3-.7 2.5-.1 3.3,.6 5.8,2.2 .8-.1 4.2-1.2 2.5-.2 1.6,.2 3.3,.9 1.7,.2 4.9-.9 2.5-.1 4.2,.4 8.3,1.3 4.9-.5 4.2,.5 6.6-2.6 2.5-.6 1.6,0 3.3,.6 6.7,2.5 4.1-.5 5.8,.1 5-.8 2.5-.2 2.5,.2 7.4,1 5-.2 6.6,.3 49.7,.3" stroke="#e2c42e" stroke-width="1.9" fill="none" stroke-linejoin="round"/>
<path d="M1483.7,1347.5l.8-5.6 1.7-17.7 1.6-14.6 .9-5.2 .8-3.5 .8-1.9 .9-.2 .8,1.1 2.5,7.6 .8,1.8 .8,.2 .9-1.6 .8-3.3 2.5-13 .8-3.3 .8-2.3 .9-1.1 .8-.1 1.6,1.1 .9-.4 .8-2.4 .8-5.2 1.7-18.8 3.3-54.5 1.6-24.3 1.7-16.7 .8-4.7 .9-2 .8,.8 .8,3.5 .8,6.2 .9,8.5 1.6,23.1 4.2,70.9 1.6,21.4 .9,6.7 .8,4 .8,1.5 .8,.1 1.7-.6 .8,.5 .9,1.5 1.6,5.6 2.5,12 .8,3.5 .9,2.4 .8,1.2 .8,.1 2.5-2.9 .8-.6 .8,.1 .9,.7 .8,1.3 .8,1.9 2.5,6.9 .8,1.8 .9,1.1 .8,.3 .8-.5 2.5-2.8 .8-.5 .9-.1 .8,.3 .8,.6 2.5,2.9 1.7,1.3 .8,.2 .8-.1 2.5-.8 1.7,.1 1.6,1 2.5,2.4 .8,.5 .9,.2 .8,0 3.3-1.4 1.7,.1 1.6,.9 3.3,3.4 .9,.5 .8,.2 .8-.2 3.3-1.7 1.7-.2 1.6,.7 2.5,1.5 1.7,.6 .8,0 3.3-1 1.7,0 1.6,.6 3.4,2.1 .8,.2 .8,0 3.3-1.3 1.7-.3 1.6,.3 2.5,1 1.7,.3 1.6-.4 3.3-1.7 1.7-.3 .8,0 1.7,.5 1.6,.9 5,3.5 2.5-1 1.7-.4 2.4,0 4.2,1.3 .8,0 4.2-1.1 3.3-.3 5.8,.4 6.6,.9 5.8-.3 5,.5 6.6-2 2.5-.5 1.6-.1 4.2,.6 7.4,2 5.8-.6 5.8,.5 5.8-1.1 3.3-.2 2.5,.1 7.5,1.1 4.9-.1 5.8,.2 48.9,.2" stroke="#e6922c" stroke-width="1.9" fill="none" stroke-linejoin="round"/>
<path d="M1483.7,1346.4l.8-3.1 3.3-23.1 .9-3.9 .8-2.7 .8-1.5 .9-.3 .8,.6 2.5,5 .8,1.1 .8,.1 .9-1.1 .8-2.3 2.5-9.1 .8-2.5 .8-1.7 .9-1 .8-.3 1.6,.1 .9-.7 .8-2 .8-4 1.7-13.7 3.3-39.2 1.6-17.6 1.7-12 .8-3.3 .9-1.3 .8,.6 .8,2.7 .8,4.6 .9,6.3 1.6,16.9 4.2,51.4 1.6,15.3 .9,5 .8,3 .8,1.4 .8,.4 1.7,.2 .8,.7 .9,1.2 1.6,4.3 2.5,8.5 .8,2.4 .9,1.6 .8,.9 .8,.2 2.5-1.4 .8-.1 .8,.2 .9,.7 .8,1 2.5,4.5 1.6,2.2 .9,.4 .8,0 2.5-1.4 .8-.2 .8,.1 .9,.5 .8,.8 3.3,4.7 .8,.7 .9,.1 .8-.6 3.3-3.7 .8-.5 .9-.2 .8,.2 .8,.4 .9,.7 3.3,3.7 .8,.6 .8,.3 .9-.1 3.3-1.4 1.6,0 1.7,.5 2.5,1.3 1.6,.4 5-.4 1.6,.3 3.4,1.2 1.6,.3 4.2-.5 1.6,0 1.7,.4 4.1,1.6 1.7,.3 4.9-.9 2.5,0 3.3,.6 5.8,1.9 1.7-.2 4.1-1.1 2.5-.2 2.5,.1 5,.7 5.8-.1 5.8,.3 6.6-.3 7.4,1 7.5-.3 6.6,.4 8.3-1.8 4.1-.4 3.4,.4 6.6,1.8 .8,0 4.2-.5 6.6,.4 7.4-.6 13.3,.5 53,.3" stroke="#e66228" stroke-width="1.9" fill="none" stroke-linejoin="round"/>
<path d="M1483.7,1346.8l.8-2.1 3.3-16.9 .9-3 .8-2 .8-1.2 .9-.3 .8,.4 2.5,3.8 .8,1 .8,.3 .9-.7 .8-1.5 2.5-6.8 1.6-3.5 .9-1 .8-.5 1.6-.5 .9-.8 .8-1.6 .8-2.9 1.7-9.7 4.9-40.7 1.7-8.7 .8-2.4 .9-1 .8,.5 .8,1.9 .8,3.3 .9,4.5 1.6,12.2 3.3,30.1 1.7,13.1 .8,5 .9,3.7 .8,2.3 .8,1.3 .8,.6 1.7,.6 .8,.6 .9,.9 1.6,3.1 3.3,7.6 .9,1.3 .8,.8 .8,.3 2.5-.5 1.6,.2 1.7,1 2.5,2.6 1.6,1.3 1.7,.5 2.5,.1 1.6,.5 1.7,1.3 2.5,2.7 .8,.7 .8,.3 .9-.1 3.3-2.1 1.6-.5 1.7,.3 1.7,1.1 2.4,2.1 .9,.4 .8,.2 .8-.1 3.3-1.3 1.7-.1 1.6,.3 2.5,1 1.7,.4 5-.6 1.6,.2 3.3,1 1.7,.2 4.1-.9 1.7-.1 2.5,.4 4.1,1.3 1.7,.1 4.9-.4 5.8,1.1 1.7-.1 4.1-.8 2.5-.2 2.5,.2 6.6,1.2 3.3,.3 10,.1 4.9,.2 8.3-.4 6.7,.7 4.9-.4 5,.4 5.8-1.2 3.3-.2 3.3,.2 9.1,1.2 5-.1 5,.2 6.6-.7 3.3-.1 9.1,.7 5-.2 5.8,.2 47.2,.1" stroke="#e4321c" stroke-width="1.9" fill="none" stroke-linejoin="round"/>
<circle cx="1517.66" cy="1101.39" r="4.2" fill="#2331d6"/>
<circle cx="1517.66" cy="1093.58" r="4.2" fill="#3a76e2"/>
<circle cx="1517.66" cy="1078.52" r="4.2" fill="#4ba6e6"/>
<circle cx="1517.66" cy="1088.72" r="4.2" fill="#5fdcec"/>
<circle cx="1517.66" cy="1098.17" r="4.2" fill="#62e6c4"/>
<circle cx="1517.66" cy="1103.69" r="4.2" fill="#6ce68c"/>
<circle cx="1517.66" cy="1121.50" r="4.2" fill="#e2c42e"/>
<circle cx="1517.66" cy="1156.91" r="4.2" fill="#e6922c"/>
<circle cx="1517.66" cy="1206.87" r="4.2" fill="#e66228"/>
<circle cx="1517.66" cy="1244.51" r="4.2" fill="#e4321c"/>
</g>
<path d="M1504.41,1354.10v-4.30M1504.41,1050.85v4.30M1525.11,1354.10v-4.30M1525.11,1050.85v4.30M1545.82,1354.10v-4.30M1545.82,1050.85v4.30M1566.53,1354.10v-4.30M1566.53,1050.85v4.30M1607.94,1354.10v-4.30M1607.94,1050.85v4.30M1628.65,1354.10v-4.30M1628.65,1050.85v4.30M1649.35,1354.10v-4.30M1649.35,1050.85v4.30M1670.06,1354.10v-4.30M1670.06,1050.85v4.30M1711.47,1354.10v-4.30M1711.47,1050.85v4.30M1732.18,1354.10v-4.30M1732.18,1050.85v4.30M1752.89,1354.10v-4.30M1752.89,1050.85v4.30M1773.59,1354.10v-4.30M1773.59,1050.85v4.30M1587.23,1354.10v-9.00M1587.23,1050.85v9.00M1690.77,1354.10v-9.00M1690.77,1050.85v9.00M1483.70,1341.46h4.30M1794.30,1341.46h-4.30M1483.70,1328.83h4.30M1794.30,1328.83h-4.30M1483.70,1316.19h4.30M1794.30,1316.19h-4.30M1483.70,1303.56h4.30M1794.30,1303.56h-4.30M1483.70,1278.29h4.30M1794.30,1278.29h-4.30M1483.70,1265.65h4.30M1794.30,1265.65h-4.30M1483.70,1253.02h4.30M1794.30,1253.02h-4.30M1483.70,1240.38h4.30M1794.30,1240.38h-4.30M1483.70,1215.11h4.30M1794.30,1215.11h-4.30M1483.70,1202.47h4.30M1794.30,1202.47h-4.30M1483.70,1189.84h4.30M1794.30,1189.84h-4.30M1483.70,1177.20h4.30M1794.30,1177.20h-4.30M1483.70,1151.93h4.30M1794.30,1151.93h-4.30M1483.70,1139.30h4.30M1794.30,1139.30h-4.30M1483.70,1126.66h4.30M1794.30,1126.66h-4.30M1483.70,1114.03h4.30M1794.30,1114.03h-4.30M1483.70,1088.76h4.30M1794.30,1088.76h-4.30M1483.70,1076.12h4.30M1794.30,1076.12h-4.30M1483.70,1063.49h4.30M1794.30,1063.49h-4.30M1483.70,1290.92h9.00M1794.30,1290.92h-9.00M1483.70,1227.75h9.00M1794.30,1227.75h-9.00M1483.70,1164.57h9.00M1794.30,1164.57h-9.00M1483.70,1101.39h9.00M1794.30,1101.39h-9.00" stroke="#000" stroke-width="1.90" fill="none" stroke-linecap="round"/>
<rect x="1483.70" y="1050.85" width="310.60" height="303.25" fill="none" stroke="#000" stroke-width="2.00"/>
<text x="1483.70" y="1384.10" font-size="25.00" text-anchor="middle" font-weight="normal" letter-spacing="0.35">0</text>
<text x="1587.23" y="1384.10" font-size="25.00" text-anchor="middle" font-weight="normal" letter-spacing="0.35">500</text>
<text x="1690.77" y="1384.10" font-size="25.00" text-anchor="middle" font-weight="normal" letter-spacing="0.35">1000</text>
<text x="1794.30" y="1384.10" font-size="25.00" text-anchor="middle" font-weight="normal" letter-spacing="0.35">1500</text>
<text x="1469.10" y="1361.20" font-size="25.00" text-anchor="end" font-weight="normal" letter-spacing="0.35">0.00</text>
<text x="1469.10" y="1298.02" font-size="25.00" text-anchor="end" font-weight="normal" letter-spacing="0.35">0.25</text>
<text x="1469.10" y="1234.85" font-size="25.00" text-anchor="end" font-weight="normal" letter-spacing="0.35">0.50</text>
<text x="1469.10" y="1171.67" font-size="25.00" text-anchor="end" font-weight="normal" letter-spacing="0.35">0.75</text>
<text x="1469.10" y="1108.49" font-size="25.00" text-anchor="end" font-weight="normal" letter-spacing="0.35">1.00</text>
<text x="1639.00" y="1425.90" font-size="26.00" text-anchor="middle" font-weight="normal">Frequency (T)</text>
<text transform="translate(1399.40,1202.47) rotate(-90)" font-size="26.00" text-anchor="middle">FFT amplitude (a.u.)</text>
<text x="1772.80" y="1303.30" font-size="19.50" text-anchor="end" font-weight="normal" letter-spacing="0.2">FFT window:</text>
<text font-size="19.5" y="1324.50"><tspan x="1692.60">30</tspan><tspan x="1718.20" y="1328.30" font-size="25.5">~</tspan><tspan x="1736.20" y="1324.50">72</tspan><tspan x="1761.10">T</tspan></text>
<rect x="1095.82" y="1471.35" width="74.89" height="303.25" fill="#f7f8f0"/>
<text x="1349.30" y="1519.10" font-size="18.30" text-anchor="end" font-weight="normal">15.0 K</text>
<text x="1349.30" y="1712.10" font-size="18.30" text-anchor="end" font-weight="normal">1.8 K</text>
<clipPath id="c15"><rect x="1057.40" y="1471.35" width="310.80" height="303.25"/></clipPath>
<g clip-path="url(#c15)">
<path d="M1095.8,1715l.8,.4 1.2,1.4 3.5,7.2 1.2,2 1.1,1.1 .8,.1 .8-.3 1.2-1.2 4.2-7 1.2-1.1 1.2-.3 .8,.2 1.1,.8 3.9,4.5 1.2,.7 .8,.2 .8-.1 1.1-.7 4.7-4.7 1.2-.5 .8-.1 .7,.1 1.2,.7 4.7,4.3 1.2,.5 .7,.1 .8-.2 1.2-.5 4.3-3.8 1.2-.6 .7-.1 .8,0 1.2,.4 4.3,3.2 1.1,.6 1.2,.3 2-.5 3.9-2.3 1.5-.6 2,.1 4.7,2.1 1.9,.3 2-.5 4.6-2.3 2.4-.4 6.2,.7 7-.5 3.2,0 10.5,1.5 13.6,1.1 17.2-.4 7.8,.4 7.8-1.3 7.8,.1 6.6-.5 2.4,.1 7.8,1.2 9.7-.5 9.4,.4 7-.5 2.3,.2 4.3,.7 2,.1 2.3-.2 10.5-1.7 4.7-.3 6.7,.2 6.6,1 2.3,.2 3.1-.2 5.5-.8 2.3-.1 2.4,.3 5.4,1.1 4.3,.1" stroke="#2331d6" stroke-width="3.4" fill="none" stroke-linejoin="round"/>
<path d="M1095.8,1693.9l.8,.8 1.2,1.7 3.9,7.7 1.1,1.3 .8,.2 .8-.3 1.2-1.2 3.1-5.7 1.2-1.8 1.1-1 .8-.3 .8,.2 1.2,.8 4.3,5.3 1.1,.9 .8,.2 1.2-.3 1.1-.9 4.3-5 1.2-.7 .8-.2 .8,.2 1.1,.8 4.7,5 1.2,.7 .8,.2 1.1-.3 1.2-.7 3.5-3.3 1.2-.9 1.2-.5 .7-.1 .8,.1 1.2,.4 4.3,3.1 .8,.3 1.1,.2 2-.5 4.7-3 1.9-.4 2,.4 3.9,1.7 1.5,.3 2-.3 4.6-1.9 2-.2 1.9,.3 3.9,1.4 2.4,.5 1.9-.1 4.3-1.1 2-.3 2.7,.3 5.5,1.4 2.7,.2 18.7-1.7 2.7,.3 6.3,1.7 3.1,.3 6.6-.3 5.5-.1 6.6-.7 2.4-.1 2.3,.3 5.1,1 2.3,.2 2.7-.2 5.1-1.1 2.7-.4 2.4,.1 5.1,.9 2.3,.1 7.8-.8 8.6,.1 7-.4 3.1,.4 5.5,1.7 2.3,.2 2.4-.2 6.6-1.5 1.9-.1 6.7,.1 8.2-1.3 3.5,.2 5.8,1.6 2.4,.4 2.3-.2 6.2-1.1" stroke="#3a76e2" stroke-width="3.4" fill="none" stroke-linejoin="round"/>
<path d="M1095.8,1673.5l1.6,2.4 3.5,6.9 1.2,1.4 .7,.4 .8-.2 1.2-1.2 4.3-8.3 1.2-1.3 1.1-.3 .8,.2 .8,.5 3.5,4 1.2,1 .7,.3 1.2,.1 .8-.3 1.2-.9 3.5-3.4 1.1-.7 1.2-.1 .8,.2 1.2,.6 4.6,4.4 1.2,.6 .8,.1 .8,0 1.1-.5 4.7-3.6 1.2-.6 1.2-.2 .7,.1 1.2,.4 4.3,3 2,.6 .7-.1 1.2-.4 4.7-2.9 1.9-.4 2,.5 4.3,2.2 1.9,.3 2-.4 4.7-1.8 2.3-.4 1.9,.3 3.9,1.1 2,.3 2.3,.1 4.7-.6 2.7,0 2.4,.2 5.1,1.2 1.9,.2 6.6-.6 6.7,.6 2.3,0 7-.9 2.4-.2 6.6,.7 5.5-.1 5.8,.5 2.3,0 12.9-.8 8.6-1.4 3.5-.4 2.7,.2 7.4,1 18.4-.2 3.1,.3 5.8,.9 3.2,.3 4.6-.4 9.8-1.6 2.7-.1 2.8,.4 6.6,1.7 3.1,.3 4.3-.3 10.5-1.8 3.1,0 4.3,.4" stroke="#4ba6e6" stroke-width="3.4" fill="none" stroke-linejoin="round"/>
<path d="M1095.8,1653.4l1.6,2.5 3.5,6.5 1.2,1.4 .7,.3 .8-.3 .8-.8 1.2-2 2.7-5.8 1.2-1.6 .8-.5 .7-.2 1.2,.3 4.3,3.8 1.2,.6 .7,.1 .8-.1 1.2-.6 4.3-3.9 1.2-.7 1.1-.3 .8,.1 1.2,.3 4.3,2.9 1.9,.7 2,0 4.6-1.6 2-.2 1.9,.6 4.3,2.2 2,.4 1.9-.3 4.3-2.1 2-.5 1.1,.1 1.2,.3 3.9,1.8 1.2,.2 1.2,0 1.9-.7 3.9-2 1.6-.5 1.1-.1 1.6,.1 5.8,1.1 6.3,.2 5.4,.5 2.8-.1 11.3-1 2.3,.2 5.9,1 2.7,.2 3.1-.1 6.7-.7 9.7,.5 8.6-.5 7.8,.2 7-.3 10.1,.9 16.8-.3 10.9,1.1 9-.6 12.5-.2 5.4,.1 6.7,.7 2.7,.1 5.1-.4 7.4-1.6 2.7-.3 9-.1 5.8,.4" stroke="#5fdcec" stroke-width="3.4" fill="none" stroke-linejoin="round"/>
<path d="M1095.8,1633.7l4.7,7.7 1.2,1.2 .8,.2 .7-.3 1.2-1.4 3.1-7 1.2-2.1 .8-.9 1.1-.4 .8,.1 .8,.4 4.3,3.7 .8,.3 1.1,.2 2-.5 3.9-2.2 1.9-.4 2,.3 4.3,2 1.9,.4 2.4-.3 4.3-1.7 1.9-.4 2.4,.4 4.2,1.8 2,.3 2.3-.6 4.7-2.1 2-.2 1.9,.5 4.7,2.3 2.3,.5 2-.1 6.2-1.2 7.4-.1 7.8-.9 2.8,.2 5.8,1.7 3.1,.3 7.8-.9 5.5,.2 2.3-.1 5.5-1.2 1.9-.2 2.4,.1 4.3,1.1 1.9,.2 2,0 5-1 2.4-.1 2.3,.2 5.5,1 4.3,.2 7.4-.2 15.2-1.7 2.7,0 6.7,.6 8.5-.9 2.4,.1 5,.7 2.8,.2 14.4,.2 9.4-.4 16,1.1 8.1-.6 7.5,.7 4.6-.3" stroke="#62e6c4" stroke-width="3.4" fill="none" stroke-linejoin="round"/>
<path d="M1095.8,1612.5l4.7,6.4 1.2,1.1 .8,.3 .7-.2 1.2-1.1 3.1-5.8 1.2-1.7 .8-.7 1.1-.3 1.6,.5 3.5,2.5 1.6,.5 1.9-.3 4.3-2.6 1.2-.5 1.2-.2 1.9,.4 3.5,1.9 1.6,.5 1.9,0 4.3-1.4 2-.1 1.9,.5 3.9,1.9 2,.3 2.3-.3 3.9-1.7 2-.6 2.3,.1 4.3,1.4 2.3,.2 2.4-.4 5-1.8 3.2-.4 2.7,.3 5.4,1.4 2.8,.4 2.3-.1 7.8-1.1 11.7,0 13.7,1.4 2.7-.1 5.1-.7 2.7,0 2.3,.3 4.7,1 2.4,.3 2.7-.3 7-1.5 5.9-.4 17.1,.9 7.4-.6 6.7,.4 8.5-.1 6.7-.9 2.3-.1 2.7,.4 4.7,1.1 2.7,.2 2-.1 7-1.2 9,.1 8.6-.8 10.9,1.2 9.7,.7 3.9-.1" stroke="#6ce68c" stroke-width="3.4" fill="none" stroke-linejoin="round"/>
<path d="M1095.8,1591.7l3.5,3.1 1.6,.9 1.2,.3 .7-.1 1.2-.7 3.9-4.3 .8-.5 1.2-.3 1.5,.3 3.1,1.3 2,.3 1.9-.4 4.3-1.6 2.4-.2 1.9,.4 4.7,1.8 2,.3 2.3-.3 4.3-1.5 1.9-.3 2,.1 4.7,1.3 1.9,.2 2-.2 5.4-1.3 2.4,0 3.9,.5 1.9,.1 2-.3 4.3-.9 1.9-.2 2,.2 4.6,1 2.4,.2 3.1-.2 6.2-1 3.5-.1 12.5,.6 9.4,1.1 8.2-.2 7.8,.6 3.5-.1 7.4-.9 12.5,.1 7.4-.5 8.2,.8 12.5,.3 7.4,.8 2.7,.2 9.7-.7 8.2,.1 9.8-.4 9.7-.8 13.7,.2 7.8-1.1 7.8,.8 5.8,.1" stroke="#e2c42e" stroke-width="3.4" fill="none" stroke-linejoin="round"/>
<path d="M1095.8,1569.6l3.1,1.8 1.6,.5 1.2,.1 1.9-.5 3.1-2.2 1.6-.6 1.6,.1 3.9,1.8 1.9,.4 2-.4 3.9-1.9 1.5-.4 2,0 3.9,1.1 1.9,.3 2-.2 3.9-1.2 1.9-.3 2.4,.4 5,1.9 2.4,.4 2.3-.3 5.1-1.9 2.3-.4 1.6,0 5.4,.8 5.9-.3 2.3,.1 6.3,1.1 1.9,.2 2.4-.3 5-1.6 2.4-.2 6.6,1 2.3,.2 7.8-.7 8.6-.4 3.1,.2 5.5,1 2,.2 2.3-.1 5.5-.8 4.2,0 14.1,.7 6.2,1.1 2.8,.3 3.1-.3 6.2-1.5 3.5-.4 10.2,.8 12.1-.8 2.7,.3 5.1,1.3 3.5,.4 4.3-.2 5.8-1 3.1-.3 3.9,0 5.9,.7 2.3,.1 6.3-.5 7-.2 7.4-.7 3.5,.1 7,1 3.1,.1" stroke="#e6922c" stroke-width="3.4" fill="none" stroke-linejoin="round"/>
<path d="M1095.8,1548.8l2.4,.8 2.7,.2 2.3-.5 3.5-1.7 1.6-.4 1.6,0 3.5,.9 1.9,.2 2-.4 3.9-1.1 1.9-.3 2.4,.2 4.3,1 1.9,.2 2-.3 4.2-1 2-.1 1.6,.1 5.8,.9 2,0 6.2-.8 7.8,.6 2.3-.3 4.3-1 2.4-.2 2.3,.2 6.2,1.4 3.2,.4 2.7-.1 7.4-1 3.5-.2 2.4,.1 6.6,.8 6.6-.3 6.6,.3 22.7-.2 10.5,.4 3.1-.2 6.3-1 3.1-.2 23,1.4 7,0 6.2-.4 2.8,0 10.1,1.5 3.1,.2 11.7-1 7.8-1 3.5,.1 6.3,1.2 2.7,.2 2.7-.2 9.8-1.7 3.1-.2 3.1,.2" stroke="#e66228" stroke-width="3.4" fill="none" stroke-linejoin="round"/>
<path d="M1095.8,1526.2l2,0 5.4-1.2 2.8-.1 1.9,.3 4.7,1.8 1.9,.2 2.4-.6 4.3-2 2.3-.4 7,1.2 2-.1 3.9-.6 1.9,0 2,.3 4.3,1.2 2.7,.3 2-.2 6.6-1.1 6.6,0 6.3-.4 3.1,.2 7,1.4 3.1,.2 7.8-.5 8.2,.4 6.2-.8 2.8-.1 9.7,.3 14.8,.2 14.1-.2 16-1 13.6,.5 12.9-1 7.8,1 1.9-.1 5.5-.8 2.3-.1 11.4,1.1 14.8-.9 9.3,.5 8.6,.1 7,.4 11.7,.3" stroke="#e4321c" stroke-width="3.4" fill="none" stroke-linejoin="round"/>
<path d="M1095.8,1720.4l.4-1.3 .6-6.9 .9-23.6 3.9-159.2 1-20.5 .4-3.8 .3-1.3 59.9,0 .2,.3 .4,2.6 .5,8.6 1,26 2.8,119.7 .9,33.4 1,20.7 .3,4 .4,1.3" stroke="#000" stroke-width="4.6" fill="none" stroke-linejoin="round" stroke-linecap="round"/>
</g>
<path d="M1069.34,1774.60v-4.30M1069.34,1471.35v4.30M1097.38,1774.60v-4.30M1097.38,1471.35v4.30M1125.42,1774.60v-4.30M1125.42,1471.35v4.30M1153.46,1774.60v-4.30M1153.46,1471.35v4.30M1209.54,1774.60v-4.30M1209.54,1471.35v4.30M1237.58,1774.60v-4.30M1237.58,1471.35v4.30M1265.62,1774.60v-4.30M1265.62,1471.35v4.30M1293.66,1774.60v-4.30M1293.66,1471.35v4.30M1349.74,1774.60v-4.30M1349.74,1471.35v4.30M1181.50,1774.60v-9.00M1181.50,1471.35v9.00M1321.70,1774.60v-9.00M1321.70,1471.35v9.00M1057.40,1763.77h4.30M1368.20,1763.77h-4.30M1057.40,1742.11h4.30M1368.20,1742.11h-4.30M1057.40,1698.79h4.30M1368.20,1698.79h-4.30M1057.40,1677.13h4.30M1368.20,1677.13h-4.30M1057.40,1655.47h4.30M1368.20,1655.47h-4.30M1057.40,1633.81h4.30M1368.20,1633.81h-4.30M1057.40,1590.48h4.30M1368.20,1590.48h-4.30M1057.40,1568.82h4.30M1368.20,1568.82h-4.30M1057.40,1547.16h4.30M1368.20,1547.16h-4.30M1057.40,1525.50h4.30M1368.20,1525.50h-4.30M1057.40,1482.18h4.30M1368.20,1482.18h-4.30M1057.40,1720.45h9.00M1368.20,1720.45h-9.00M1057.40,1612.14h9.00M1368.20,1612.14h-9.00M1057.40,1503.84h9.00M1368.20,1503.84h-9.00" stroke="#000" stroke-width="1.90" fill="none" stroke-linecap="round"/>
<rect x="1057.40" y="1471.35" width="310.80" height="303.25" fill="none" stroke="#000" stroke-width="2.00"/>
<text x="1181.50" y="1804.60" font-size="25.00" text-anchor="middle" font-weight="normal" letter-spacing="0.35">0.02</text>
<text x="1321.70" y="1804.60" font-size="25.00" text-anchor="middle" font-weight="normal" letter-spacing="0.35">0.03</text>
<text x="1043.30" y="1727.05" font-size="25.00" text-anchor="end" font-weight="normal" letter-spacing="0.35">0</text>
<text x="1043.30" y="1618.74" font-size="25.00" text-anchor="end" font-weight="normal" letter-spacing="0.35">50</text>
<text x="1043.30" y="1510.44" font-size="25.00" text-anchor="end" font-weight="normal" letter-spacing="0.35">100</text>
<text x="1133.30" y="1750.90" font-size="17.50" text-anchor="middle" font-weight="bold">FFT window</text>
<path d="M1096.12,1759.30H1169.40 M1096.12,1759.30l12.3,-5.4 M1096.12,1759.30l12.3,5.4 M1169.40,1759.30l-12.3,-5.4 M1169.40,1759.30l-12.3,5.4" stroke="#000" stroke-width="2.6" fill="none" stroke-linecap="round" stroke-linejoin="round"/>
<text font-size="25"><tspan x="1163.30" y="1858.40">B</tspan><tspan x="1181.30" y="1840.30" font-size="16.5">−1</tspan><tspan x="1206.10" y="1858.40">(T</tspan><tspan x="1231.60" y="1840.30" font-size="16.5">−1</tspan><tspan x="1253.80" y="1858.40">)</tspan></text>
<text transform="translate(968.70,1714.40) rotate(-90)" font-size="25"><tspan x="0" y="0">ΔR</tspan><tspan x="36.0" y="8.1" font-size="17.5">xx</tspan><tspan x="59.5" y="0">−</tspan><tspan x="78.8" y="0">ΔR</tspan><tspan x="115.9" y="12.8" font-size="17.5">xx</tspan><tspan x="116.5" y="-18.7" font-size="17.5">LH</tspan><tspan x="143.0" y="0">(Ω)</tspan></text>
<clipPath id="c16"><rect x="1483.70" y="1471.35" width="310.60" height="303.25"/></clipPath>
<g clip-path="url(#c16)">
<path d="M1483.7,1722.9l2.5,.2 2.5,.4 2.5,.8 2.4,1.1 4.2,2.7 4.1,3.9 4.2,5.2 4.1,6.4 3.3,6 8.3,15.9 1.7,2.2 .8,.6 .8,0 .8-.4 1.7-2.1 5.8-9.8 3.3-4.9 3.3-3.6 2.5-1.8 2.5-.9 1.6,0 1.7,.3 1.7,.8 1.6,1 5.8,4.4 1.7,.7 1.6-.1 .9-.4 1.6-1.5 2.5-4.1 2.5-5.7 8.3-23.2 4.1-10.4 3.3-6.4 1.7-2.4 1.6-1.9 .9-.7 1.6-.9 1.7-.3 1.6,.2 2.5,1.1 5,3.5 1.6,.7 .9,.1 .8-.1 .8-.4 1.7-1.6 1.6-3.1 .9-2.1 1.6-5.3 1.7-6.7 2.5-12.4 3.3-19.8 10.7-70.7 3.4-18.7 2.4-12 1.7-6.8 1.7-5.8 2.4-6.7 1.7-3 .8-1 .9-.8 .8-.5 .8-.2 .8,.1 .9,.4 .8,.7 .8,.9 1.7,2.8 2.5,6.1 1.6,5.3 1.7,6.2 2.5,10.8 3.3,16.6 13.2,75.5 4.2,21.4 3.3,15.4 5.8,23.4 6.6,23.5 5,15.7 1.6,4.2 1.7,3 .8,.9 .8,.3 .9-.2 .8-.7 .8-1.3 2.5-5.6 7.5-21.3 3.3-7.7 2.5-4.4 1.6-2.1 1.7-1.3 .8-.5 1.7-.3 1.6,.5 .9,.5 1.6,1.6 1.7,2.3 2.4,4.7 1.7,3.9 2.5,6.8 8.3,26.6 1.6,4.2 .9,1.5 .8,.8 .8,.1 .8-.6 .9-1.2 5.8-12.6 2.5-4.3 1.6-2.1 .8-.7 1.7-.9 .8-.2 1.7,.3 .8,.5 .8,.7 1.7,2 1.6,2.8 1.7,3.4 5,12.1 .8,1.1 .8,.2 .9-.9 .8-1.8 1.6-5.6 2.5-10.6 5-23.4" stroke="#2331d6" stroke-width="1.9" fill="none" stroke-linejoin="round"/>
<path d="M1483.7,1564.7l1.7,.4 1.6,1.1 1.7,2 1.6,2.6 1.7,3.5 1.6,4.1 3.4,10.5 2.4,9.4 3.4,14.6 9.9,50.6 2.5,11.7 2.5,10 2.4,7.2 1.7,2.9 .8,.8 .9,.4 .8,0 .8-.4 .8-.7 .9-1.1 1.6-3 1.7-3.8 5.8-14.9 2.5-5.4 1.6-2.7 1.7-2 .8-.7 1.7-.7 1.6,.3 1.7,1.2 1.6,2.2 1.7,3.1 1.6,4.1 2.5,7.8 1.7,6.2 2.5,10.7 9.1,44.9 1.6,5.9 .9,1.9 .8,.9 .8-.1 .9-1.2 1.6-4.6 6.6-28 3.3-12.3 2.5-7.3 2.5-5.4 .8-1.3 1.7-2.1 1.7-1.2 1.6-.4 1.7,.3 1.6,.8 4.2,3.2 1.6,1 1.7,.3 .8-.2 .8-.5 .9-.8 .8-1.2 1.7-3.4 .8-2.3 2.5-9.1 3.3-16.6 3.3-20 9.1-58.4 3.3-18.4 2.5-11.9 1.7-6.8 1.6-5.9 1.7-4.9 1.6-3.8 1.7-2.7 1.6-1.6 .9-.5 .8-.1 .8,.1 .9,.4 .8,.7 1.6,2 2.5,5 2.5,7.1 3.3,12.3 2.5,11 3.3,16.7 13.3,75.3 5.8,29.8 3.3,14.2 2.5,9.1 1.6,5.2 1.7,4.4 2.5,5.3 1.6,2.6 1.7,1.9 1.6,1.3 2.5,.9 1.7,.2 1.6-.1 8.3-1.8 4.2-.3 2.4,.3 1.7,.5 2.5,1 1.6,1 3.4,2.6 3.3,3.4 4.1,5.1 7.5,10.4 2.4,3.2 2.5,2.7 2.5,1.7 1.7,.6 2.5,0 2.4-.9 5.8-3.3 3.4-1.4 3.3-.8 3.3,.2 3.3,1.2 1.6,.9 2.5,1.8 3.3,3 7.5,7.7" stroke="#3a76e2" stroke-width="1.9" fill="none" stroke-linejoin="round"/>
<path d="M1483.7,1625.7l.8,.1 1.7,.7 .8,.7 1.7,1.8 2.5,4 2.4,5.4 2.5,6.8 2.5,7.8 7.5,26.6 2.4,8.2 1.7,4.7 1.7,3.9 1.6,2.7 .8,.8 .9,.6 .8,.2 .8-.1 .9-.5 .8-.7 1.6-2.4 2.5-5.1 7.5-18.6 2.5-4.9 1.6-2.6 1.7-1.8 .8-.6 1.7-.6 1.6,.3 .9,.4 1.6,1.6 1.7,2.5 1.6,3.4 1.7,4.1 2.5,7.8 3.3,12.5 6.6,28.4 2.5,9.1 1.6,4.3 .9,1.4 .8,.8 .8,.2 .9-.4 .8-1 .8-1.4 1.7-4 5.8-18 2.5-6.9 2.4-5.5 2.5-3.9 .8-.9 1.7-1.2 1.7-.6 1.6,.1 2.5,1.1 5,3.2 1.6,.5 .9,0 1.6-.7 .8-.8 1.7-2.4 .8-1.6 1.7-4.3 1.6-5.5 3.4-13.8 3.3-16.4 7.4-39.2 5-23.6 4.1-16.8 4.2-13.7 2.5-6.8 3.3-7.6 2.5-4.6 3.3-5 3.3-3.7 1.6-1.4 1.7-.9 1.7-.6 1.6-.2 2.5,.5 2.5,1.7 1.6,1.9 1.7,2.4 1.6,3.1 2.5,5.8 1.7,4.8 3.3,11.6 3.3,14.3 3.3,16.5 10.8,61.6 3.3,17.1 1.7,7.3 1.6,6.2 1.7,5 1.6,3.6 .9,1.3 1.6,1.5 .8,.3 .9,.1 .8-.2 .8-.5 1.7-1.3 5-5.2 1.6-1.5 1.7-1.1 1.6-.5 1.7,0 1.6,.6 1.7,1.2 1.7,1.8 1.6,2.5 1.7,2.9 1.6,3.5 2.5,6 3.3,9.2 9.1,27.2 4.2,10.6 2.5,5.2 1.6,2.7 1.7,2 1.6,1.3 1.7,.6 1.6,.1 1.7-.3 2.5-.8 7.4-3.3 9.1-5 2.5-1 1.7-.4 2.5-.1 2.5,.6 2.4,1.4 1.7,1.4" stroke="#4ba6e6" stroke-width="1.9" fill="none" stroke-linejoin="round"/>
<path d="M1483.7,1581.2l.8,.1 1.7,1.2 .8,1 1.7,2.8 2.5,6.2 1.6,5.5 1.7,6.4 2.5,11.3 3.3,17.7 9.1,56.4 3.3,18.7 2.5,10.4 1.6,4.3 .9,1.1 .8,.4 .8-.3 .8-.9 1.7-3.4 2.5-7.7 5.8-20.8 2.5-7.6 1.6-4.1 1.7-3.5 1.6-2.5 1.7-1.8 1.7-.9 1.6-.1 1.7,.8 1.6,1.5 2.5,3.5 1.7,3.1 2.4,5.6 6.7,17.3 2.5,6 1.6,3.3 1.7,2.6 1.6,1.8 .9,.5 .8,.4 1.6,0 .9-.3 1.6-1 2.5-2.6 6.6-7.9 2.5-2.3 2.5-1.4 2.5-.5 2.5,.2 2.5,.8 4.1,1.8 2.5,.5 1.6-.1 .9-.3 1.6-1 .9-.8 1.6-2.1 1.7-2.9 1.6-3.6 2.5-6.7 4.2-13.6 10.7-38.9 4.2-12.9 3.3-8.6 2.5-5.4 1.6-3 1.7-2.5 1.6-2.1 1.7-1.7 1.6-1.1 1.7-.7 2.5-.2 1.6,.5 1.7,.9 1.7,1.3 2.4,2.8 1.7,2.4 2.5,4.3 4.1,9 4.2,11.2 4.1,13 12.4,44 4.2,13.5 2.5,6.8 2.4,5.6 2.5,4.2 1.7,1.8 .8,.7 1.7,.9 .8,.3 1.6,0 2.5-.6 6.7-3.1 3.3-1.1 2.5-.2 1.6,.1 1.7,.4 2.5,1 3.3,2 9.1,7 4.1,2.7 4.2,1.8 9.9,2.9 3.3,1.6 2.5,1.7 2.5,2.2 3.3,3.7 3.3,4.5 7.5,11.5 1.6,1.9 1.7,1.1 .8,.2 .8,0 .9-.4 1.6-1.5 2.5-3.5 5.8-10.4" stroke="#5fdcec" stroke-width="1.9" fill="none" stroke-linejoin="round"/>
<path d="M1483.7,1665.5l2.5,.5 2.5,1.6 2.5,2.5 3.3,4.9 2.5,4.6 3.3,7.3 8.2,21.1 3.4,7.7 2.4,4.7 1.7,2.3 .8,.8 1.7,1 .8,.2 1.7-.2 1.6-1 2.5-2.7 7.5-10.8 3.3-3.8 1.6-1.4 1.7-.8 1.7-.4 1.6,.1 1.7,.7 1.6,1.3 1.7,1.7 2.5,3.5 3.3,6.2 6.6,14.3 2.5,4.4 1.6,2 .9,.6 .8,.4 .8,.1 .9-.2 1.6-1.2 2.5-3.5 9.9-20.4 3.3-5.2 2.5-2.9 2.5-1.8 2.5-1 2.5-.2 6.6,.6 2.5-.5 1.7-.9 1.6-1.5 2.5-3.6 2.5-5.1 3.3-9 3.3-10.8 9.9-35.1 3.4-10.4 3.3-8.8 2.5-5.5 1.6-3.1 1.7-2.5 1.6-2.1 1.7-1.5 1.6-1.1 1.7-.5 .8-.1 1.7,.2 1.6,.7 1.7,1.2 1.7,1.6 2.4,3.2 1.7,2.7 2.5,4.7 4.1,9.6 4.2,11.5 4.1,13 13.3,46.2 4.1,13.3 2.5,7 2.5,6 2.4,4.6 1.7,2.2 .8,.9 1.7,1.2 1.6,.7 1.7,.1 2.5-.5 6.6-2.9 3.3-.9 2.5-.2 1.7,.1 3.3,1.1 3.3,2 4.1,3.7 4.2,4.5 11.6,14.1 6.6,7.5 7.5,7.3 4.1,3.5 2.5,1.8 1.6,.8 .9,0 7.4-3.1 2.5-.5 2.5-.2 2.5,.3 1.6,.5 2.5,1.2 2.5,1.6" stroke="#62e6c4" stroke-width="1.9" fill="none" stroke-linejoin="round"/>
<path d="M1483.7,1639.3l.8,.1 1.7,.9 .8,.7 1.7,2.2 2.5,4.7 2.4,6.4 4.2,13.7 8.3,33.2 2.4,9.1 2.5,7.5 1.7,3.5 .8,1.3 .8,1 .9,.5 .8,.2 .8-.1 .9-.5 1.6-1.8 2.5-4.3 5.8-12.4 2.5-4.9 2.5-4.1 2.5-3.1 2.4-2.2 1.7-.8 2.5-.4 2.5,.6 2.4,1.6 2.5,2.5 2.5,3.3 3.3,5.7 2.5,5.1 3.3,7.8 8.3,22.5 2.5,6.2 1.7,3.4 .8,1.3 .8,1 .8,.6 .9,.1 .8-.3 .8-.7 1.7-2.5 2.5-5.6 5.8-15.8 3.3-8.4 3.3-6.8 1.6-2.7 1.7-2.2 2.5-2.4 1.6-.9 1.7-.6 2.5-.1 5.8,.9 2.5-.3 1.6-1 .9-.7 1.6-2 .8-1.4 2.5-5.2 3.3-9.7 2.5-8.7 8.3-31.5 2.5-8.4 2.5-7.3 2.5-5.8 2.4-4.2 1.7-1.9 .8-.6 1.7-.6 .8,0 1.7,.6 .8,.6 1.7,1.8 2.4,4 1.7,3.6 1.6,4.2 2.5,7.2 2.5,8.2 8.3,30 3.3,11.3 4.2,12.2 3.3,7.8 3.3,6.3 4.1,6.3 12.4,16.4 2.5,3 2.5,2.6 1.7,1.2 1.6,.9 2.5,.6 1.7-.2 1.6-.5 5.8-2.6 3.3-1.1 1.7-.1 1.7,.2 1.6,.6 1.7,.9 1.6,1.4 1.7,1.7 3.3,4.5 3.3,5.6 7.5,14.4 1.6,2.3 .8,.5 .9-.2 .8-.6 5-6.6 2.5-2.7 2.4-1.8 1.7-.6 1.7-.2 2.4,.6 2.5,1.6 4.2,3.7 1.6,1.2 .8,.3 .9-.1 .8-.3 1.7-1.7 1.6-2.7 8.3-17.7" stroke="#6ce68c" stroke-width="1.9" fill="none" stroke-linejoin="round"/>
<path d="M1483.7,1652.1l1.7,.4 .8,.5 1.6,1.4 2.5,3.5 2.5,5 1.7,4 2.5,7 8.2,26.7 2.5,7.3 1.7,4.2 1.6,3.5 1.7,2.5 .8,.9 .8,.7 1.7,.5 1.7-.3 1.6-1.2 2.5-2.7 5-6.7 2.5-3.1 2.4-2.5 1.7-1.2 1.7-.8 2.4-.6 1.7,.1 2.5,.7 1.6,1 2.5,1.9 4.2,4.2 5.8,7.6 12.4,18.2 4.1,5.6 3.3,3.7 1.7,1.3 1.7,.9 1.6,.3 .8-.1 1.7-.6 1.6-1.1 2.5-2.7 3.3-4.7 10-16.8 5.8-8.9 6.6-9 14.9-18.9 3.3-3.6 3.3-2.9 1.7-1 1.7-.7 2.4-.5 2.5,.4 2.5,1.3 2.5,2.3 3.3,4.4 2.5,4.2 2.5,4.9 7.4,16.7 3.3,6.8 2.5,4.3 2.5,3.3 2.5,2.2 2.5,1 2.5,.3 4.9-.3 2.5,0 2.5,.6 2.5,1.3 1.7,1.2 2.4,2.4 3.3,4.2 6.7,9.5 2.5,2.6 1.6,1.1 .8,.3 1.7,.1 .8-.3 1.7-.8 2.5-2 4.9-4.8 1.7-1.3 1.7-1 1.6-.6 1.7-.2 2.5,.6 2.4,1.6 1.7,1.7 1.6,2.1 3.4,5.3 6.6,12.8 1.6,2.1 .9,.5 .8,0 .8-.6 1.7-2.3 6.6-13.2 2.5-4.3 1.7-2.4 2.4-2.8 1.7-1.2 1.7-.7 1.6-.2 .8,.1 1.7,.6 1.6,1.1 1.7,1.6 2.5,3 6.6,9.9 1.7,1.8 .8,.6 .8,.3 .9,.1 .8-.2 1.6-1.2 1.7-2" stroke="#e2c42e" stroke-width="1.9" fill="none" stroke-linejoin="round"/>
<path d="M1483.7,1758.2l1.7-.2 2.4-.8 6.7-3.6 2.5-1 2.4-.5 2.5,.2 2.5,.9 1.7,1.1 1.6,1.5 1.7,1.8 4.1,5.4 1.7,1.9 .8,.5 .8,.2 .9-.3 .8-.7 .8-1.3 1.7-3.4 3.3-9.1 3.3-10.6 11.6-39.4 3.3-9.9 3.3-8.6 3.3-7 1.7-2.8 1.6-2.3 1.7-1.9 1.7-1.3 1.6-.8 1.7-.2 1.6,.3 1.7,.8 1.6,1.3 1.7,1.9 1.7,2.3 1.6,2.8 1.7,3.2 2.5,5.6 3.3,8.6 3.3,9.7 12.4,40.4 4.1,12.8 4.2,11.5 1.6,3.9 .9,1.5 .8-.1 5.8-10.7 4.1-6.1 3.4-3.7 1.6-1.5 2.5-1.8 3.3-1.8 4.1-1.7 9.2-2.8 11.6-4 3.3-.9 2.5-.3 4.1,0 2.5,.4 1.6,.5 2.5,1.2 1.7,.9 4.1,3.3 3.3,3.4 3.3,4 4.2,5.9 7.4,11.5 1.7,1.8 .8,.4 .9-.1 .8-.6 .8-.9 9.9-15.3 3.4-4.5 2.4-2.9 2.5-2.4 2.5-2 2.5-1.4 2.5-.8 1.6-.2 2.5,.2 2.5,.7 2.5,1.3 2.5,1.7 2.5,2.2 9.1,9.2 2.5,1.8 2.4,.9 .9,0 1.6-.3 1.7-.7 1.6-1.2 2.5-2.3 7.5-7.6 4.1-3.4 3.3-1.7 1.7-.6 1.6-.3 1.7,0 2.5,.4 2.5,1 2.5,1.6 2.4,2.1 2.5,2.5 5,6.2" stroke="#e6922c" stroke-width="1.9" fill="none" stroke-linejoin="round"/>
<path d="M1483.7,1765.4l1.7-.2 2.4-.6 10.8-5.1 10.8-3.6 2.5-1.2 1.6-1.1 3.3-2.7 3.3-3.6 10-13.1 3.3-3.9 3.3-3.1 1.7-1.1 1.6-.8 2.5-.6 2.5,.3 1.6,.6 2.5,1.7 2.5,2.4 2.5,3.2 6.6,10.5 2.5,3.4 1.7,1.6 .8,.5 .8,.3 .9,0 .8-.3 1.6-1.3 2.5-3.6 2.5-5 8.3-19 4.1-7.8 1.7-2.5 1.6-2 1.7-1.7 1.7-1.1 1.6-.8 2.5-.2 1.7,.5 2.4,1.4 1.7,1.4 2.5,2.6 6.6,8.6 2.5,2.8 1.7,1.5 1.6,1 1.7,.4 .8,.1 .8-.1 1.7-.7 2.5-2 2.4-2.8 7.5-9.8 3.3-3.4 1.7-1.3 1.6-.8 2.5-.5 1.7,.3 1.6,.7 2.5,2 1.7,1.9 1.6,2.3 3.3,6 3.3,7.4 3.4,8.6 11.6,33.7 1.6,3.6 .8,.8 .9-.4 .8-1.3 6.6-14.5 2.5-4.6 2.5-3.8 2.5-3 1.6-1.4 2.5-1.5 2.5-.5 2.5,.3 2.5,1.1 2.5,1.8 3.3,3.5 2.5,3.2 2.4,3.6 10,16.2 1.6,2.2 .9,.7 .8,0 .8-.5 .9-.9 4.9-6.6 3.3-4.1 3.3-3.5 2.5-2.1 2.5-1.8 3.3-1.7 2.5-.9 3.3-.7 3.3,0 3.4,.4 3.3,1 3.3,1.4 3.3,1.7 3.3,2.1 12.4,9.1 2.5,1.3 2.5,.5" stroke="#e66228" stroke-width="1.9" fill="none" stroke-linejoin="round"/>
<path d="M1483.7,1770.2l.8-.4 1.7-2.1 7.4-13.3 4.2-6 2.5-2.8 2.5-1.9 2.4-1.2 1.7-.3 1.6,.2 2.5,.9 1.7,1.1 2.5,2.4 1.6,2 2.5,3.7 2.5,4.2 4.1,7.8 1.7,2.7 .8,.9 .9,.3 .8-.3 .8-.9 1.7-3 9.9-22.9 3.3-6.8 2.5-4.3 3.3-4.7 2.5-2.6 1.7-1.2 1.6-.8 2.5-.5 2.5,.4 2.5,1.4 2.5,2.2 3.3,4.2 2.5,3.9 3.3,6.2 9.9,20.9 2.5,3.8 .8,.8 .8,.4 .9,0 .8-.3 1.7-1.6 7.4-11.2 3.3-4.2 3.3-3 1.7-1.1 1.7-.7 1.6-.4 2.5,.1 2.5,.8 2.5,1.4 1.6,1.3 2.5,2.4 6.6,7.7 2.5,2.6 2.5,1.7 1.7,.3 .8,0 1.6-.7 2.5-2 9.1-10.9 4.2-4 2.5-1.8 1.6-.8 2.5-.8 1.7-.1 2.4,.3 2.5,.9 2.5,1.5 2.5,2.1 2.5,2.5 2.5,3 9.1,12.2 2.5,2.5 1.6,.8 1.7,0 .8-.3 1.7-1.1 2.4-2.5 6.7-7.4 2.5-2.4 2.4-1.9 2.5-1.5 2.5-1 1.7-.4 2.5-.2 2.4,.4 2.5,.8 2.5,1.3 2.5,1.6 2.5,2.1 3.3,3 11.6,12.1 2.5,2 1.6,.9 .9,.2 .8,.1 1.6-.3 9.2-4.2 2.4-.7 3.4-.6 2.4-.1 3.3,.1 11.6,1.3 7.5-.1" stroke="#e4321c" stroke-width="1.9" fill="none" stroke-linejoin="round"/>
<circle cx="1645.21" cy="1521.89" r="4.2" fill="#2331d6"/>
<circle cx="1647.70" cy="1522.89" r="4.2" fill="#3a76e2"/>
<circle cx="1656.81" cy="1531.07" r="4.2" fill="#4ba6e6"/>
<circle cx="1649.35" cy="1596.59" r="4.2" fill="#5fdcec"/>
<circle cx="1648.53" cy="1601.01" r="4.2" fill="#62e6c4"/>
<circle cx="1651.01" cy="1614.00" r="4.2" fill="#6ce68c"/>
<circle cx="1640.24" cy="1675.10" r="4.2" fill="#e2c42e"/>
</g>
<path d="M1504.41,1774.60v-4.30M1504.41,1471.35v4.30M1525.11,1774.60v-4.30M1525.11,1471.35v4.30M1545.82,1774.60v-4.30M1545.82,1471.35v4.30M1566.53,1774.60v-4.30M1566.53,1471.35v4.30M1607.94,1774.60v-4.30M1607.94,1471.35v4.30M1628.65,1774.60v-4.30M1628.65,1471.35v4.30M1649.35,1774.60v-4.30M1649.35,1471.35v4.30M1670.06,1774.60v-4.30M1670.06,1471.35v4.30M1711.47,1774.60v-4.30M1711.47,1471.35v4.30M1732.18,1774.60v-4.30M1732.18,1471.35v4.30M1752.89,1774.60v-4.30M1752.89,1471.35v4.30M1773.59,1774.60v-4.30M1773.59,1471.35v4.30M1587.23,1774.60v-9.00M1587.23,1471.35v9.00M1690.77,1774.60v-9.00M1690.77,1471.35v9.00M1483.70,1761.96h4.30M1794.30,1761.96h-4.30M1483.70,1749.33h4.30M1794.30,1749.33h-4.30M1483.70,1736.69h4.30M1794.30,1736.69h-4.30M1483.70,1724.06h4.30M1794.30,1724.06h-4.30M1483.70,1698.79h4.30M1794.30,1698.79h-4.30M1483.70,1686.15h4.30M1794.30,1686.15h-4.30M1483.70,1673.52h4.30M1794.30,1673.52h-4.30M1483.70,1660.88h4.30M1794.30,1660.88h-4.30M1483.70,1635.61h4.30M1794.30,1635.61h-4.30M1483.70,1622.97h4.30M1794.30,1622.97h-4.30M1483.70,1610.34h4.30M1794.30,1610.34h-4.30M1483.70,1597.70h4.30M1794.30,1597.70h-4.30M1483.70,1572.43h4.30M1794.30,1572.43h-4.30M1483.70,1559.80h4.30M1794.30,1559.80h-4.30M1483.70,1547.16h4.30M1794.30,1547.16h-4.30M1483.70,1534.53h4.30M1794.30,1534.53h-4.30M1483.70,1509.26h4.30M1794.30,1509.26h-4.30M1483.70,1496.62h4.30M1794.30,1496.62h-4.30M1483.70,1483.99h4.30M1794.30,1483.99h-4.30M1483.70,1711.42h9.00M1794.30,1711.42h-9.00M1483.70,1648.25h9.00M1794.30,1648.25h-9.00M1483.70,1585.07h9.00M1794.30,1585.07h-9.00M1483.70,1521.89h9.00M1794.30,1521.89h-9.00" stroke="#000" stroke-width="1.90" fill="none" stroke-linecap="round"/>
<rect x="1483.70" y="1471.35" width="310.60" height="303.25" fill="none" stroke="#000" stroke-width="2.00"/>
<text x="1483.70" y="1804.60" font-size="25.00" text-anchor="middle" font-weight="normal" letter-spacing="0.35">0</text>
<text x="1587.23" y="1804.60" font-size="25.00" text-anchor="middle" font-weight="normal" letter-spacing="0.35">500</text>
<text x="1690.77" y="1804.60" font-size="25.00" text-anchor="middle" font-weight="normal" letter-spacing="0.35">1000</text>
<text x="1794.30" y="1804.60" font-size="25.00" text-anchor="middle" font-weight="normal" letter-spacing="0.35">1500</text>
<text x="1469.10" y="1781.70" font-size="25.00" text-anchor="end" font-weight="normal" letter-spacing="0.35">0.00</text>
<text x="1469.10" y="1718.52" font-size="25.00" text-anchor="end" font-weight="normal" letter-spacing="0.35">0.25</text>
<text x="1469.10" y="1655.35" font-size="25.00" text-anchor="end" font-weight="normal" letter-spacing="0.35">0.50</text>
<text x="1469.10" y="1592.17" font-size="25.00" text-anchor="end" font-weight="normal" letter-spacing="0.35">0.75</text>
<text x="1469.10" y="1528.99" font-size="25.00" text-anchor="end" font-weight="normal" letter-spacing="0.35">1.00</text>
<text x="1639.00" y="1846.40" font-size="26.00" text-anchor="middle" font-weight="normal">Frequency (T)</text>
<text transform="translate(1399.40,1622.97) rotate(-90)" font-size="26.00" text-anchor="middle">FFT amplitude (a.u.)</text>
<text x="1504.30" y="1516.30" font-size="19.50" text-anchor="start" font-weight="normal" letter-spacing="0.2">FFT window:</text>
<text font-size="19.5" y="1537.40"><tspan x="1504.40">52</tspan><tspan x="1530.00" y="1541.20" font-size="25.5">~</tspan><tspan x="1548.00" y="1537.40">72</tspan><tspan x="1572.90">T</tspan></text>
</svg></body></html>
